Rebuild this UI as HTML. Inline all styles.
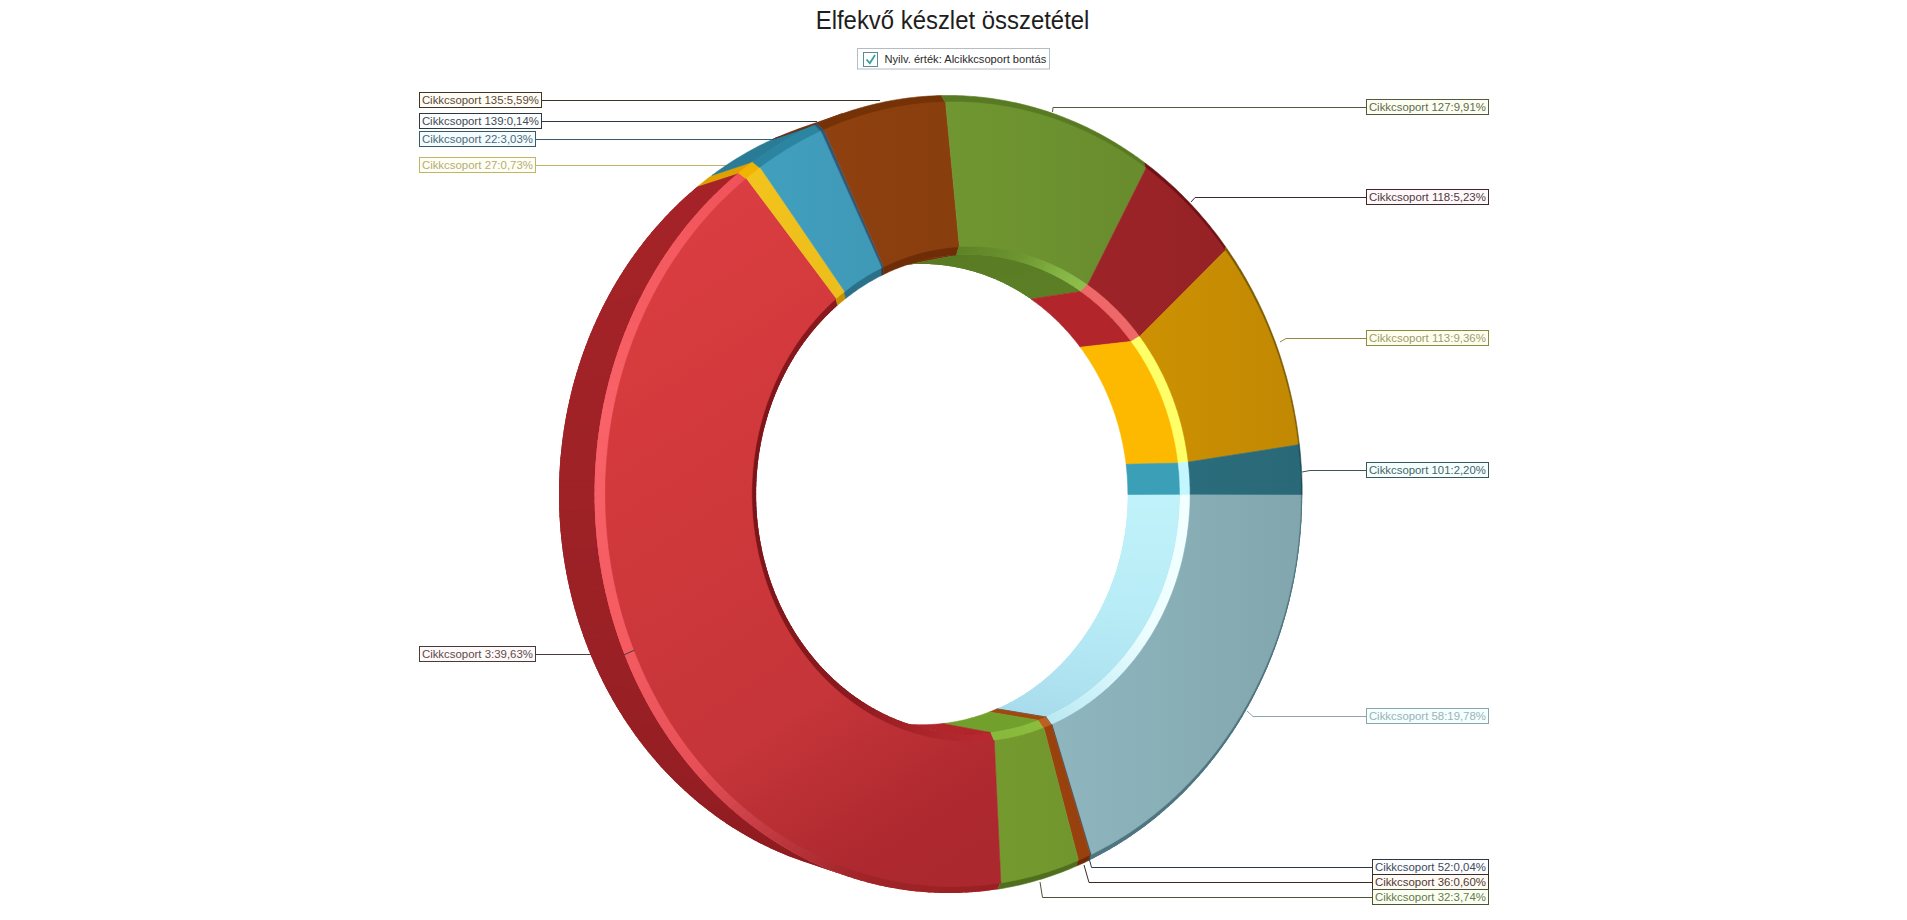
<!DOCTYPE html><html><head><meta charset="utf-8"><style>
html,body{margin:0;padding:0;background:#fff;width:1907px;height:920px;overflow:hidden;font-family:"Liberation Sans",sans-serif}
</style></head><body><svg width="1907" height="920" viewBox="0 0 1907 920" style="position:absolute;left:0;top:0;font-family:'Liberation Sans',sans-serif"><defs><linearGradient id="g3" gradientUnits="userSpaceOnUse" x1="600" y1="250" x2="980" y2="850"><stop offset="0" stop-color="#da3e42"/><stop offset="0.2" stop-color="#d53a3d"/><stop offset="0.7" stop-color="#c53539"/><stop offset="0.9" stop-color="#b02a30"/><stop offset="1" stop-color="#aa282e"/></linearGradient><linearGradient id="gt58" gradientUnits="userSpaceOnUse" x1="560" y1="0" x2="1303" y2="0"><stop offset="0" stop-color="#a7d5df"/><stop offset="1" stop-color="#82a6ae"/></linearGradient><linearGradient id="gt52" gradientUnits="userSpaceOnUse" x1="560" y1="0" x2="1303" y2="0"><stop offset="0" stop-color="#485d6f"/><stop offset="1" stop-color="#384956"/></linearGradient><linearGradient id="gt36" gradientUnits="userSpaceOnUse" x1="560" y1="0" x2="1303" y2="0"><stop offset="0" stop-color="#b44d10"/><stop offset="1" stop-color="#8d3c0d"/></linearGradient><linearGradient id="gt32" gradientUnits="userSpaceOnUse" x1="560" y1="0" x2="1303" y2="0"><stop offset="0" stop-color="#86b135"/><stop offset="1" stop-color="#688a2a"/></linearGradient><linearGradient id="gt27" gradientUnits="userSpaceOnUse" x1="560" y1="0" x2="1303" y2="0"><stop offset="0" stop-color="#ffcf1e"/><stop offset="1" stop-color="#cea217"/></linearGradient><linearGradient id="gt22" gradientUnits="userSpaceOnUse" x1="560" y1="0" x2="1303" y2="0"><stop offset="0" stop-color="#45a9ca"/><stop offset="1" stop-color="#36849d"/></linearGradient><linearGradient id="gt139" gradientUnits="userSpaceOnUse" x1="560" y1="0" x2="1303" y2="0"><stop offset="0" stop-color="#336083"/><stop offset="1" stop-color="#284b66"/></linearGradient><linearGradient id="gt135" gradientUnits="userSpaceOnUse" x1="560" y1="0" x2="1303" y2="0"><stop offset="0" stop-color="#9b4610"/><stop offset="1" stop-color="#79370c"/></linearGradient><linearGradient id="gt127" gradientUnits="userSpaceOnUse" x1="560" y1="0" x2="1303" y2="0"><stop offset="0" stop-color="#7eaa37"/><stop offset="1" stop-color="#63842b"/></linearGradient><linearGradient id="gt118" gradientUnits="userSpaceOnUse" x1="560" y1="0" x2="1303" y2="0"><stop offset="0" stop-color="#ba2b30"/><stop offset="1" stop-color="#912125"/></linearGradient><linearGradient id="gt113" gradientUnits="userSpaceOnUse" x1="560" y1="0" x2="1303" y2="0"><stop offset="0" stop-color="#f7af02"/><stop offset="1" stop-color="#c18802"/></linearGradient><linearGradient id="gt101" gradientUnits="userSpaceOnUse" x1="560" y1="0" x2="1303" y2="0"><stop offset="0" stop-color="#358598"/><stop offset="1" stop-color="#296877"/></linearGradient></defs><polyline points="541.5,100.5 880.0,100.5" fill="none" stroke="#3e3428" stroke-width="1"/><polyline points="541.5,121.5 817.0,121.5" fill="none" stroke="#2e3842" stroke-width="1"/><polyline points="535.5,139.5 773.0,139.5" fill="none" stroke="#3a5a66" stroke-width="1"/><polyline points="535.5,165.5 738.0,165.5" fill="none" stroke="#c0b468" stroke-width="1"/><polyline points="535.5,654.5 592.0,654.5" fill="none" stroke="#4a3a3c" stroke-width="1"/><polyline points="1366.5,107.5 1053.0,107.5 1052.5,112.0" fill="none" stroke="#55583f" stroke-width="1"/><polyline points="1366.5,197.5 1195.0,197.5 1191.0,202.0" fill="none" stroke="#3e2a2c" stroke-width="1"/><polyline points="1366.5,338.5 1286.0,338.5 1280.0,342.0" fill="none" stroke="#8a8a40" stroke-width="1"/><polyline points="1366.5,470.5 1310.0,470.5 1302.0,472.0" fill="none" stroke="#3a5656" stroke-width="1"/><polyline points="1366.5,716.5 1253.0,716.5 1247.0,711.0" fill="none" stroke="#8ca4aa" stroke-width="1"/><polyline points="1372.5,867.5 1091.5,867.5 1089.0,858.0" fill="none" stroke="#2e3842" stroke-width="1"/><polyline points="1372.5,882.5 1089.0,882.5 1084.0,865.0" fill="none" stroke="#3c2c24" stroke-width="1"/><polyline points="1372.5,897.5 1042.5,897.5 1040.0,882.0" fill="none" stroke="#4a5438" stroke-width="1"/><polygon points="1181.7,494.3 1181.6,496.3 1181.6,498.3 1181.6,500.3 1181.5,502.3 1181.5,504.2 1181.4,506.2 1181.3,508.2 1181.2,510.2 1181.1,512.1 1180.9,514.1 1180.8,516.1 1180.6,518.0 1180.4,520.0 1180.2,522.0 1180.0,523.9 1179.8,525.9 1179.6,527.9 1179.3,529.8 1179.1,531.8 1178.8,533.7 1178.5,535.7 1178.2,537.6 1177.9,539.6 1177.5,541.5 1177.2,543.5 1176.8,545.4 1176.4,547.3 1176.0,549.3 1175.6,551.2 1175.2,553.1 1174.8,555.0 1174.3,556.9 1173.8,558.9 1173.4,560.8 1172.9,562.7 1172.4,564.6 1171.8,566.4 1171.3,568.3 1170.8,570.2 1170.2,572.1 1169.6,574.0 1169.0,575.8 1168.4,577.7 1167.8,579.6 1167.2,581.4 1166.5,583.3 1165.9,585.1 1165.2,586.9 1164.5,588.8 1163.8,590.6 1163.1,592.4 1162.4,594.2 1161.6,596.0 1160.9,597.8 1160.1,599.6 1159.4,601.4 1158.6,603.2 1157.8,604.9 1156.9,606.7 1156.1,608.4 1155.3,610.2 1154.4,611.9 1153.5,613.7 1152.6,615.4 1151.8,617.1 1150.8,618.8 1149.9,620.5 1149.0,622.2 1148.0,623.9 1147.1,625.6 1146.1,627.2 1145.1,628.9 1144.1,630.5 1143.1,632.2 1142.1,633.8 1141.1,635.4 1140.0,637.0 1139.0,638.6 1137.9,640.2 1136.8,641.8 1135.7,643.4 1134.6,644.9 1133.5,646.5 1132.3,648.0 1131.2,649.6 1130.1,651.1 1128.9,652.6 1127.7,654.1 1126.5,655.6 1125.3,657.1 1124.1,658.5 1122.9,660.0 1121.7,661.4 1120.4,662.9 1119.2,664.3 1117.9,665.7 1116.6,667.1 1115.3,668.5 1114.0,669.9 1112.7,671.2 1111.4,672.6 1110.1,673.9 1108.7,675.2 1107.4,676.6 1106.0,677.9 1104.6,679.1 1103.3,680.4 1101.9,681.7 1100.5,682.9 1099.1,684.2 1097.6,685.4 1096.2,686.6 1094.8,687.8 1093.3,689.0 1091.9,690.2 1090.4,691.3 1088.9,692.5 1087.4,693.6 1085.9,694.7 1084.4,695.8 1082.9,696.9 1081.4,698.0 1079.9,699.1 1078.3,700.1 1076.8,701.1 1075.2,702.2 1073.7,703.2 1072.1,704.2 1070.5,705.1 1068.9,706.1 1067.3,707.0 1065.7,708.0 1064.1,708.9 1062.5,709.8 1060.9,710.7 1059.2,711.5 1057.6,712.4 1056.0,713.2 1054.3,714.1 1052.6,714.9 1051.0,715.7 1049.3,716.4 1047.6,717.2 997.2,708.8 998.8,708.1 1000.4,707.3 1002.1,706.6 1003.7,705.8 1005.3,705.0 1006.9,704.2 1008.5,703.4 1010.1,702.5 1011.7,701.7 1013.2,700.8 1014.8,700.0 1016.4,699.1 1017.9,698.2 1019.5,697.2 1021.0,696.3 1022.5,695.4 1024.1,694.4 1025.6,693.4 1027.1,692.4 1028.6,691.4 1030.1,690.4 1031.6,689.4 1033.0,688.3 1034.5,687.3 1036.0,686.2 1037.4,685.1 1038.8,684.0 1040.3,682.9 1041.7,681.8 1043.1,680.6 1044.5,679.5 1045.9,678.3 1047.3,677.1 1048.7,676.0 1050.0,674.7 1051.4,673.5 1052.7,672.3 1054.1,671.1 1055.4,669.8 1056.7,668.6 1058.0,667.3 1059.3,666.0 1060.6,664.7 1061.9,663.4 1063.1,662.1 1064.4,660.7 1065.7,659.4 1066.9,658.0 1068.1,656.7 1069.3,655.3 1070.5,653.9 1071.7,652.5 1072.9,651.1 1074.1,649.7 1075.2,648.2 1076.4,646.8 1077.5,645.3 1078.6,643.9 1079.8,642.4 1080.9,640.9 1081.9,639.4 1083.0,637.9 1084.1,636.4 1085.1,634.9 1086.2,633.4 1087.2,631.8 1088.2,630.3 1089.3,628.7 1090.3,627.2 1091.2,625.6 1092.2,624.0 1093.2,622.4 1094.1,620.8 1095.1,619.2 1096.0,617.6 1096.9,615.9 1097.8,614.3 1098.7,612.7 1099.6,611.0 1100.4,609.4 1101.3,607.7 1102.1,606.0 1102.9,604.3 1103.7,602.6 1104.5,601.0 1105.3,599.3 1106.1,597.5 1106.9,595.8 1107.6,594.1 1108.3,592.4 1109.1,590.6 1109.8,588.9 1110.5,587.2 1111.1,585.4 1111.8,583.6 1112.5,581.9 1113.1,580.1 1113.7,578.3 1114.4,576.5 1115.0,574.8 1115.6,573.0 1116.1,571.2 1116.7,569.4 1117.2,567.5 1117.8,565.7 1118.3,563.9 1118.8,562.1 1119.3,560.3 1119.8,558.4 1120.2,556.6 1120.7,554.8 1121.1,552.9 1121.6,551.1 1122.0,549.2 1122.4,547.4 1122.8,545.5 1123.1,543.7 1123.5,541.8 1123.8,539.9 1124.2,538.0 1124.5,536.2 1124.8,534.3 1125.1,532.4 1125.3,530.5 1125.6,528.7 1125.8,526.8 1126.1,524.9 1126.3,523.0 1126.5,521.1 1126.7,519.2 1126.9,517.3 1127.0,515.4 1127.2,513.5 1127.3,511.6 1127.4,509.7 1127.5,507.8 1127.6,505.9 1127.7,504.0 1127.8,502.1 1127.8,500.2 1127.8,498.3 1127.9,496.4 1127.9,494.5" fill="#b6eaf5"/><polygon points="1181.7,494.3 1181.6,496.1 1181.6,497.8 1181.6,499.5 1127.8,499.4 1127.9,497.8 1127.9,496.1 1127.9,494.5" fill="#c0f2fa"/><polygon points="1181.6,498.3 1181.6,500.0 1181.6,501.7 1181.5,503.4 1127.7,503.2 1127.8,501.6 1127.8,499.9 1127.8,498.3" fill="#c0f2fa"/><polygon points="1181.5,502.2 1181.5,503.9 1181.4,505.6 1181.3,507.3 1127.6,507.0 1127.6,505.3 1127.7,503.7 1127.8,502.1" fill="#bff2fa"/><polygon points="1181.4,506.1 1181.3,507.8 1181.2,509.5 1181.1,511.2 1127.4,510.8 1127.5,509.1 1127.5,507.5 1127.6,505.8" fill="#bff1fa"/><polygon points="1181.2,510.1 1181.1,511.8 1181.0,513.5 1180.9,515.2 1127.1,514.5 1127.2,512.9 1127.3,511.3 1127.4,509.6" fill="#bff1f9"/><polygon points="1180.9,514.0 1180.8,515.7 1180.7,517.4 1180.5,519.1 1126.8,518.3 1126.9,516.7 1127.1,515.0 1127.2,513.4" fill="#bff1f9"/><polygon points="1180.6,517.9 1180.5,519.6 1180.3,521.3 1180.1,523.0 1126.4,522.1 1126.6,520.4 1126.7,518.8 1126.9,517.2" fill="#bef1f9"/><polygon points="1180.3,521.8 1180.1,523.5 1179.9,525.2 1179.7,526.9 1126.0,525.8 1126.2,524.2 1126.3,522.6 1126.5,520.9" fill="#bef1f9"/><polygon points="1179.8,525.7 1179.6,527.4 1179.4,529.1 1179.2,530.8 1125.5,529.6 1125.7,527.9 1125.9,526.3 1126.1,524.7" fill="#bef0f9"/><polygon points="1179.4,529.6 1179.1,531.3 1178.9,533.0 1178.6,534.6 1124.9,533.3 1125.2,531.7 1125.4,530.0 1125.6,528.4" fill="#bdf0f9"/><polygon points="1178.8,533.5 1178.6,535.1 1178.3,536.8 1178.0,538.5 1124.3,537.0 1124.6,535.4 1124.9,533.8 1125.1,532.2" fill="#bdf0f9"/><polygon points="1178.2,537.3 1177.9,539.0 1177.7,540.7 1177.4,542.4 1123.7,540.7 1124.0,539.1 1124.3,537.5 1124.5,535.9" fill="#bdf0f8"/><polygon points="1177.6,541.2 1177.3,542.9 1177.0,544.5 1176.6,546.2 1123.0,544.4 1123.3,542.8 1123.6,541.2 1123.9,539.6" fill="#bdf0f8"/><polygon points="1176.9,545.0 1176.5,546.7 1176.2,548.4 1175.9,550.0 1122.2,548.1 1122.6,546.5 1122.9,544.9 1123.2,543.3" fill="#bceff8"/><polygon points="1176.1,548.9 1175.8,550.5 1175.4,552.2 1175.0,553.9 1121.4,551.8 1121.8,550.2 1122.1,548.6 1122.5,547.0" fill="#bceff8"/><polygon points="1175.3,552.7 1174.9,554.4 1174.5,556.0 1174.1,557.7 1120.5,555.5 1120.9,553.9 1121.3,552.3 1121.7,550.7" fill="#bceff8"/><polygon points="1174.4,556.5 1174.0,558.2 1173.6,559.8 1173.2,561.5 1119.6,559.1 1120.0,557.5 1120.4,555.9 1120.8,554.4" fill="#bceff8"/><polygon points="1173.5,560.3 1173.1,561.9 1172.6,563.6 1172.2,565.2 1118.6,562.7 1119.1,561.2 1119.5,559.6 1119.9,558.0" fill="#bbeff8"/><polygon points="1172.5,564.1 1172.0,565.7 1171.6,567.3 1171.1,569.0 1117.6,566.3 1118.0,564.8 1118.5,563.2 1118.9,561.6" fill="#bbeef8"/><polygon points="1171.5,567.8 1171.0,569.5 1170.5,571.1 1170.0,572.7 1116.5,569.9 1117.0,568.4 1117.5,566.8 1117.9,565.3" fill="#bbeef7"/><polygon points="1170.4,571.6 1169.9,573.2 1169.4,574.8 1168.8,576.4 1115.4,573.5 1115.9,572.0 1116.4,570.4 1116.8,568.9" fill="#bbeef7"/><polygon points="1169.2,575.3 1168.7,576.9 1168.2,578.5 1167.6,580.1 1114.2,577.1 1114.7,575.5 1115.2,574.0 1115.7,572.4" fill="#baeef7"/><polygon points="1168.0,579.0 1167.5,580.6 1166.9,582.2 1166.4,583.8 1112.9,580.6 1113.5,579.1 1114.0,577.5 1114.5,576.0" fill="#baeef7"/><polygon points="1166.7,582.7 1166.2,584.3 1165.6,585.8 1165.0,587.4 1111.6,584.1 1112.2,582.6 1112.8,581.1 1113.3,579.5" fill="#baedf7"/><polygon points="1165.4,586.3 1164.8,587.9 1164.3,589.5 1163.6,591.1 1110.3,587.6 1110.9,586.1 1111.5,584.6 1112.0,583.0" fill="#baedf7"/><polygon points="1164.1,590.0 1163.5,591.5 1162.8,593.1 1162.2,594.6 1108.9,591.1 1109.5,589.6 1110.1,588.1 1110.7,586.5" fill="#b9edf7"/><polygon points="1162.7,593.6 1162.0,595.1 1161.4,596.7 1160.7,598.2 1107.4,594.5 1108.1,593.0 1108.7,591.5 1109.3,590.0" fill="#b9edf7"/><polygon points="1161.2,597.1 1160.5,598.7 1159.9,600.2 1159.2,601.8 1105.9,597.9 1106.6,596.4 1107.2,594.9 1107.9,593.5" fill="#b9edf6"/><polygon points="1159.7,600.7 1159.0,602.2 1158.3,603.8 1157.6,605.3 1104.4,601.3 1105.1,599.8 1105.7,598.4 1106.4,596.9" fill="#b8ecf6"/><polygon points="1158.1,604.2 1157.4,605.7 1156.7,607.3 1155.9,608.8 1102.8,604.6 1103.5,603.2 1104.2,601.7 1104.9,600.3" fill="#b8ecf6"/><polygon points="1156.5,607.7 1155.7,609.2 1155.0,610.7 1154.3,612.2 1101.1,608.0 1101.8,606.5 1102.6,605.1 1103.3,603.6" fill="#b8ecf6"/><polygon points="1154.8,611.2 1154.0,612.7 1153.3,614.2 1152.5,615.7 1099.4,611.3 1100.2,609.8 1100.9,608.4 1101.6,607.0" fill="#b8ecf6"/><polygon points="1153.0,614.6 1152.3,616.1 1151.5,617.6 1150.7,619.1 1097.7,614.5 1098.4,613.1 1099.2,611.7 1099.9,610.3" fill="#b7ebf5"/><polygon points="1151.3,618.0 1150.5,619.5 1149.7,621.0 1148.9,622.4 1095.9,617.8 1096.7,616.4 1097.4,615.0 1098.2,613.6" fill="#b7ebf5"/><polygon points="1149.4,621.4 1148.6,622.9 1147.8,624.3 1147.0,625.8 1094.0,621.0 1094.8,619.6 1095.6,618.2 1096.4,616.8" fill="#b6eaf5"/><polygon points="1147.5,624.7 1146.7,626.2 1145.9,627.6 1145.0,629.0 1092.1,624.2 1092.9,622.8 1093.8,621.4 1094.6,620.0" fill="#b6eaf5"/><polygon points="1145.6,628.1 1144.8,629.5 1143.9,630.9 1143.0,632.3 1090.2,627.3 1091.0,625.9 1091.9,624.6 1092.7,623.2" fill="#b6eaf5"/><polygon points="1143.6,631.3 1142.8,632.7 1141.9,634.1 1141.0,635.5 1088.2,630.4 1089.0,629.0 1089.9,627.7 1090.8,626.3" fill="#b5e9f4"/><polygon points="1141.6,634.6 1140.7,636.0 1139.8,637.3 1138.9,638.7 1086.1,633.5 1087.0,632.1 1087.9,630.8 1088.8,629.5" fill="#b5e9f4"/><polygon points="1139.5,637.8 1138.6,639.1 1137.7,640.5 1136.7,641.9 1084.0,636.5 1085.0,635.2 1085.9,633.9 1086.8,632.5" fill="#b4e8f4"/><polygon points="1137.4,640.9 1136.5,642.3 1135.5,643.6 1134.6,645.0 1081.9,639.5 1082.8,638.2 1083.8,636.9 1084.7,635.6" fill="#b4e8f4"/><polygon points="1135.2,644.0 1134.3,645.4 1133.3,646.7 1132.3,648.1 1079.7,642.4 1080.7,641.2 1081.6,639.9 1082.6,638.6" fill="#b4e8f3"/><polygon points="1133.0,647.1 1132.0,648.5 1131.0,649.8 1130.0,651.1 1077.5,645.3 1078.5,644.1 1079.4,642.8 1080.4,641.5" fill="#b3e7f3"/><polygon points="1130.7,650.2 1129.7,651.5 1128.7,652.8 1127.7,654.1 1075.2,648.2 1076.2,647.0 1077.2,645.7 1078.2,644.5" fill="#b3e7f3"/><polygon points="1128.4,653.2 1127.4,654.5 1126.4,655.7 1125.3,657.0 1072.9,651.1 1073.9,649.8 1074.9,648.6 1075.9,647.4" fill="#b3e7f3"/><polygon points="1126.1,656.1 1125.0,657.4 1124.0,658.7 1122.9,659.9 1070.6,653.8 1071.6,652.6 1072.6,651.4 1073.6,650.2" fill="#b2e6f2"/><polygon points="1123.7,659.1 1122.6,660.3 1121.5,661.6 1120.5,662.8 1068.2,656.6 1069.2,655.4 1070.3,654.2 1071.3,653.0" fill="#b2e6f2"/><polygon points="1121.2,661.9 1120.1,663.2 1119.1,664.4 1118.0,665.6 1065.7,659.3 1066.8,658.1 1067.9,656.9 1068.9,655.8" fill="#b1e5f2"/><polygon points="1118.7,664.8 1117.6,666.0 1116.5,667.2 1115.4,668.4 1063.2,662.0 1064.3,660.8 1065.4,659.6 1066.5,658.5" fill="#b1e5f2"/><polygon points="1116.2,667.5 1115.1,668.7 1114.0,669.9 1112.8,671.1 1060.7,664.6 1061.8,663.4 1062.9,662.3 1064.0,661.2" fill="#b1e5f1"/><polygon points="1113.6,670.3 1112.5,671.5 1111.4,672.6 1110.2,673.8 1058.2,667.1 1059.3,666.0 1060.4,664.9 1061.5,663.8" fill="#b0e4f1"/><polygon points="1111.0,673.0 1109.9,674.1 1108.7,675.3 1107.5,676.4 1055.6,669.7 1056.7,668.6 1057.8,667.5 1058.9,666.4" fill="#b0e4f1"/><polygon points="1108.4,675.6 1107.2,676.7 1106.0,677.9 1104.8,679.0 1052.9,672.1 1054.1,671.1 1055.2,670.0 1056.4,668.9" fill="#afe3f1"/><polygon points="1105.7,678.2 1104.5,679.3 1103.3,680.4 1102.1,681.5 1050.2,674.6 1051.4,673.5 1052.6,672.5 1053.7,671.4" fill="#afe3f0"/><polygon points="1102.9,680.7 1101.7,681.8 1100.5,682.9 1099.3,684.0 1047.5,676.9 1048.7,675.9 1049.9,674.9 1051.1,673.8" fill="#afe3f0"/><polygon points="1100.1,683.2 1098.9,684.3 1097.7,685.4 1096.5,686.4 1044.8,679.3 1046.0,678.3 1047.2,677.3 1048.3,676.2" fill="#aee2f0"/><polygon points="1097.3,685.7 1096.1,686.7 1094.8,687.8 1093.6,688.8 1042.0,681.6 1043.2,680.6 1044.4,679.6 1045.6,678.6" fill="#aee2f0"/><polygon points="1094.5,688.1 1093.2,689.1 1092.0,690.1 1090.7,691.1 1039.1,683.8 1040.4,682.8 1041.6,681.9 1042.8,680.9" fill="#aee2ef"/><polygon points="1091.6,690.4 1090.3,691.4 1089.0,692.4 1087.8,693.4 1036.3,686.0 1037.5,685.0 1038.8,684.1 1040.0,683.1" fill="#ade1ef"/><polygon points="1088.6,692.7 1087.4,693.7 1086.1,694.6 1084.8,695.6 1033.4,688.1 1034.6,687.2 1035.9,686.2 1037.1,685.3" fill="#ade1ef"/><polygon points="1085.7,694.9 1084.4,695.9 1083.1,696.8 1081.8,697.7 1030.4,690.2 1031.7,689.3 1033.0,688.4 1034.3,687.4" fill="#ace0ef"/><polygon points="1082.7,697.1 1081.4,698.0 1080.1,698.9 1078.7,699.8 1027.5,692.2 1028.8,691.3 1030.1,690.4 1031.3,689.5" fill="#ace0ee"/><polygon points="1079.7,699.2 1078.3,700.1 1077.0,701.0 1075.7,701.9 1024.5,694.1 1025.8,693.3 1027.1,692.4 1028.4,691.6" fill="#ace0ee"/><polygon points="1076.6,701.3 1075.2,702.2 1073.9,703.0 1072.5,703.9 1021.4,696.0 1022.8,695.2 1024.1,694.4 1025.4,693.5" fill="#abdfee"/><polygon points="1073.5,703.3 1072.1,704.1 1070.8,705.0 1069.4,705.8 1018.4,697.9 1019.7,697.1 1021.0,696.3 1022.4,695.5" fill="#abdfee"/><polygon points="1070.4,705.2 1069.0,706.1 1067.6,706.9 1066.2,707.7 1015.3,699.7 1016.6,698.9 1018.0,698.1 1019.3,697.3" fill="#aadeee"/><polygon points="1067.2,707.1 1065.8,707.9 1064.4,708.7 1063.0,709.5 1012.2,701.4 1013.5,700.7 1014.9,699.9 1016.2,699.1" fill="#aadeed"/><polygon points="1064.0,708.9 1062.6,709.7 1061.2,710.5 1059.8,711.2 1009.0,703.1 1010.4,702.4 1011.8,701.6 1013.1,700.9" fill="#aadeed"/><polygon points="1060.8,710.7 1059.4,711.5 1058.0,712.2 1056.5,712.9 1005.9,704.7 1007.2,704.0 1008.6,703.3 1010.0,702.6" fill="#a9dded"/><polygon points="1057.5,712.4 1056.1,713.2 1054.7,713.9 1053.3,714.6 1002.7,706.3 1004.0,705.6 1005.4,704.9 1006.8,704.2" fill="#a9dded"/><polygon points="1054.3,714.1 1052.8,714.8 1051.4,715.5 1049.9,716.1 999.4,707.8 1000.8,707.1 1002.2,706.5 1003.6,705.8" fill="#a8dcec"/><polygon points="1050.9,715.7 1049.3,716.4 1047.6,717.2 997.2,708.8 998.8,708.1 1000.4,707.3" fill="#a8dcec"/><polygon points="1047.6,717.2 1047.1,717.4 996.7,709.0 997.2,708.8" fill="#50667a" stroke="#50667a" stroke-width="0.6"/><polygon points="1047.1,717.4 1045.7,718.1 1044.2,718.7 1042.7,719.3 1041.2,719.9 1039.8,720.5 989.5,712.0 991.0,711.4 992.4,710.8 993.8,710.2 995.3,709.6 996.7,709.0" fill="#a0480e" stroke="#a0480e" stroke-width="0.6"/><polygon points="1039.8,720.5 1038.0,721.2 1036.3,721.8 1034.6,722.5 1032.8,723.1 1031.1,723.7 1029.4,724.3 1027.6,724.8 1025.9,725.4 1024.1,725.9 1022.3,726.5 1020.6,727.0 1018.8,727.4 1017.0,727.9 1015.2,728.4 1013.4,728.8 1011.6,729.2 1009.8,729.6 1008.0,730.0 1006.2,730.4 1004.4,730.7 1002.6,731.0 1000.8,731.4 999.0,731.7 997.2,731.9 995.3,732.2 993.5,732.4 991.7,732.7 942.7,723.5 944.5,723.3 946.3,723.1 948.1,722.9 949.8,722.6 951.6,722.3 953.4,722.0 955.1,721.7 956.9,721.4 958.6,721.0 960.4,720.7 962.1,720.3 963.9,719.9 965.6,719.5 967.4,719.0 969.1,718.6 970.8,718.1 972.5,717.6 974.3,717.2 976.0,716.6 977.7,716.1 979.4,715.6 981.1,715.0 982.8,714.4 984.5,713.8 986.2,713.2 987.8,712.6 989.5,712.0" fill="#72a02d" stroke="#72a02d" stroke-width="0.6"/><polygon points="850.9,877.5 847.9,876.5 844.9,875.4 841.8,874.4 838.8,873.2 835.8,872.1 832.8,870.9 829.8,869.7 826.8,868.5 823.8,867.2 820.8,865.9 817.9,864.6 814.9,863.2 811.9,861.8 809.0,860.4 806.1,859.0 803.1,857.5 800.2,856.0 797.3,854.4 794.4,852.8 791.5,851.2 788.7,849.6 785.8,847.9 783.0,846.2 780.1,844.5 777.3,842.7 774.5,840.9 771.7,839.1 768.9,837.3 766.1,835.4 763.4,833.5 760.6,831.5 757.9,829.6 755.2,827.6 752.5,825.5 749.8,823.5 747.1,821.4 744.4,819.3 741.8,817.1 739.2,815.0 736.6,812.8 734.0,810.5 731.4,808.3 728.8,806.0 726.3,803.7 723.8,801.3 721.3,799.0 718.8,796.6 716.3,794.1 713.9,791.7 711.4,789.2 709.0,786.7 706.6,784.2 704.2,781.6 701.9,779.0 699.5,776.4 697.2,773.8 694.9,771.1 692.7,768.5 690.4,765.8 688.2,763.0 686.0,760.3 683.8,757.5 681.6,754.7 679.5,751.8 677.3,749.0 675.3,746.1 673.2,743.2 671.1,740.3 669.1,737.3 667.1,734.3 665.1,731.4 663.1,728.3 661.2,725.3 659.3,722.2 657.4,719.2 655.6,716.1 653.7,712.9 651.9,709.8 650.1,706.6 648.4,703.4 646.6,700.2 644.9,697.0 643.3,693.8 641.6,690.5 640.0,687.2 638.4,683.9 636.8,680.6 635.3,677.3 633.7,673.9 632.3,670.6 630.8,667.2 629.4,663.8 627.9,660.4 626.6,656.9 625.2,653.5 623.9,650.0 622.6,646.5 621.3,643.1 620.1,639.5 618.9,636.0 617.7,632.5 616.6,628.9 615.5,625.4 614.4,621.8 613.3,618.2 612.3,614.6 611.3,611.0 610.3,607.4 609.4,603.8 608.5,600.1 607.6,596.5 606.7,592.8 605.9,589.1 605.1,585.5 604.4,581.8 603.7,578.1 603.0,574.4 602.3,570.6 601.7,566.9 601.1,563.2 600.5,559.5 600.0,555.7 599.5,552.0 599.0,548.2 598.6,544.4 598.1,540.7 597.8,536.9 597.4,533.1 597.1,529.4 596.8,525.6 596.6,521.8 596.3,518.0 596.2,514.2 596.0,510.4 595.9,506.7 595.8,502.9 595.7,499.1 595.7,495.3 595.7,491.5 595.7,487.7 595.8,483.9 595.9,480.1 596.0,476.3 596.2,472.5 596.4,468.7 596.6,465.0 596.9,461.2 597.2,457.4 597.5,453.6 597.9,449.8 598.2,446.1 598.7,442.3 599.1,438.6 599.6,434.8 600.1,431.1 600.7,427.3 601.2,423.6 601.8,419.9 602.5,416.2 603.1,412.4 603.8,408.7 604.6,405.0 605.3,401.4 606.1,397.7 607.0,394.0 607.8,390.4 608.7,386.7 609.6,383.1 610.6,379.4 611.5,375.8 612.5,372.2 613.6,368.6 614.6,365.1 615.7,361.5 616.9,357.9 618.0,354.4 619.2,350.9 620.4,347.3 621.7,343.8 622.9,340.4 624.2,336.9 625.6,333.4 626.9,330.0 628.3,326.6 629.7,323.2 631.2,319.8 632.6,316.4 634.1,313.0 635.7,309.7 637.2,306.4 638.8,303.1 640.4,299.8 642.0,296.5 643.7,293.2 645.4,290.0 647.1,286.8 648.8,283.6 650.6,280.4 652.4,277.3 654.2,274.1 656.0,271.0 657.9,267.9 659.8,264.9 661.7,261.8 663.6,258.8 665.6,255.8 667.6,252.8 669.6,249.8 671.6,246.9 673.7,244.0 675.8,241.1 677.9,238.2 680.0,235.4 682.1,232.6 684.3,229.8 686.5,227.0 688.7,224.3 691.0,221.5 693.2,218.8 695.5,216.2 697.8,213.5 700.1,210.9 702.4,208.3 704.8,205.7 707.2,203.2 709.6,200.7 712.0,198.2 714.4,195.7 716.9,193.3 719.4,190.9 721.9,188.5 724.4,186.1 726.9,183.8 729.4,181.5 732.0,179.2 734.6,177.0 737.2,174.8 739.8,172.6 698.3,186.0 695.8,188.1 693.3,190.2 690.8,192.4 688.3,194.6 685.8,196.8 683.4,199.0 680.9,201.3 678.5,203.6 676.1,205.9 673.8,208.3 671.4,210.6 669.1,213.0 666.7,215.4 664.4,217.9 662.2,220.4 659.9,222.9 657.7,225.4 655.4,227.9 653.2,230.5 651.1,233.1 648.9,235.7 646.7,238.3 644.6,241.0 642.5,243.7 640.5,246.4 638.4,249.1 636.4,251.9 634.3,254.6 632.4,257.4 630.4,260.3 628.4,263.1 626.5,266.0 624.6,268.8 622.8,271.8 620.9,274.7 619.1,277.6 617.3,280.6 615.5,283.6 613.7,286.6 612.0,289.6 610.3,292.6 608.6,295.7 607.0,298.8 605.3,301.9 603.7,305.0 602.2,308.1 600.6,311.3 599.1,314.5 597.6,317.7 596.1,320.9 594.7,324.1 593.2,327.3 591.9,330.6 590.5,333.8 589.1,337.1 587.8,340.4 586.6,343.7 585.3,347.0 584.1,350.4 582.9,353.7 581.7,357.1 580.6,360.5 579.4,363.9 578.4,367.3 577.3,370.7 576.3,374.1 575.3,377.6 574.3,381.0 573.3,384.5 572.4,388.0 571.5,391.5 570.7,394.9 569.9,398.4 569.1,402.0 568.3,405.5 567.6,409.0 566.9,412.6 566.2,416.1 565.5,419.7 564.9,423.2 564.3,426.8 563.8,430.4 563.3,433.9 562.8,437.5 562.3,441.1 561.9,444.7 561.5,448.3 561.1,451.9 560.7,455.5 560.4,459.1 560.1,462.8 559.9,466.4 559.7,470.0 559.5,473.6 559.3,477.3 559.2,480.9 559.1,484.5 559.0,488.1 559.0,491.8 559.0,495.4 559.0,499.0 559.1,502.7 559.2,506.3 559.3,509.9 559.4,513.6 559.6,517.2 559.8,520.8 560.1,524.4 560.3,528.1 560.7,531.7 561.0,535.3 561.4,538.9 561.7,542.5 562.2,546.1 562.6,549.7 563.1,553.3 563.6,556.9 564.2,560.4 564.8,564.0 565.4,567.6 566.0,571.1 566.7,574.7 567.4,578.2 568.1,581.8 568.9,585.3 569.7,588.8 570.5,592.3 571.3,595.8 572.2,599.3 573.1,602.8 574.0,606.2 575.0,609.7 576.0,613.1 577.0,616.6 578.1,620.0 579.1,623.4 580.3,626.8 581.4,630.2 582.6,633.6 583.7,636.9 585.0,640.3 586.2,643.6 587.5,646.9 588.8,650.2 590.1,653.5 591.5,656.8 592.9,660.1 594.3,663.3 595.7,666.5 597.2,669.7 598.7,672.9 600.2,676.1 601.8,679.3 603.3,682.4 604.9,685.5 606.5,688.7 608.2,691.7 609.9,694.8 611.6,697.9 613.3,700.9 615.0,703.9 616.8,706.9 618.6,709.9 620.4,712.8 622.3,715.8 624.1,718.7 626.0,721.6 628.0,724.5 629.9,727.3 631.9,730.1 633.8,732.9 635.8,735.7 637.9,738.5 639.9,741.2 642.0,744.0 644.1,746.7 646.2,749.3 648.3,752.0 650.5,754.6 652.7,757.2 654.9,759.8 657.1,762.3 659.3,764.9 661.6,767.4 663.9,769.9 666.2,772.3 668.5,774.7 670.8,777.1 673.2,779.5 675.6,781.9 677.9,784.2 680.4,786.5 682.8,788.8 685.2,791.0 687.7,793.3 690.2,795.5 692.7,797.6 695.2,799.8 697.7,801.9 700.2,804.0 702.8,806.1 705.4,808.1 707.9,810.1 710.6,812.1 713.2,814.0 715.8,816.0 718.4,817.9 721.1,819.7 723.8,821.6 726.5,823.4 729.2,825.2 731.9,826.9 734.6,828.6 737.3,830.3 740.1,832.0 742.8,833.6 745.6,835.3 748.4,836.8 751.2,838.4 754.0,839.9 756.8,841.4 759.6,842.9 762.5,844.3 765.3,845.7 768.2,847.1 771.0,848.4 773.9,849.8 776.8,851.0 779.7,852.3 782.6,853.5 785.5,854.7 788.4,855.9 791.3,857.0 794.2,858.1 797.2,859.2 800.1,860.3 803.0,861.3 806.0,862.3" fill="#9c2126"/><polygon points="850.9,877.5 848.3,876.6 845.7,875.7 843.0,874.8 798.3,859.6 800.9,860.5 803.4,861.4 806.0,862.3" fill="#8c1b1f"/><polygon points="844.9,875.4 842.2,874.5 839.6,873.5 837.0,872.6 792.5,857.5 795.0,858.4 797.6,859.3 800.1,860.3" fill="#8d1b1f"/><polygon points="838.8,873.2 836.2,872.3 833.6,871.2 831.0,870.2 786.6,855.2 789.2,856.2 791.7,857.2 794.2,858.1" fill="#8d1b1f"/><polygon points="832.8,870.9 830.2,869.9 827.6,868.8 825.0,867.7 780.8,852.8 783.3,853.8 785.9,854.9 788.4,855.9" fill="#8d1b20"/><polygon points="826.8,868.5 824.2,867.4 821.6,866.3 819.0,865.1 775.1,850.3 777.6,851.4 780.1,852.5 782.6,853.5" fill="#8e1b20"/><polygon points="820.8,865.9 818.2,864.8 815.7,863.6 813.1,862.4 769.3,847.6 771.8,848.8 774.3,849.9 776.8,851.0" fill="#8e1c20"/><polygon points="814.9,863.2 812.3,862.0 809.8,860.8 807.2,859.5 763.6,844.9 766.1,846.1 768.5,847.3 771.0,848.4" fill="#8e1c20"/><polygon points="809.0,860.4 806.4,859.2 803.9,857.9 801.4,856.6 757.9,842.0 760.4,843.3 762.8,844.5 765.3,845.7" fill="#8f1c20"/><polygon points="803.1,857.5 800.6,856.2 798.1,854.8 795.6,853.5 752.3,839.0 754.7,840.3 757.2,841.6 759.6,842.9" fill="#8f1c20"/><polygon points="797.3,854.4 794.8,853.0 792.3,851.7 789.8,850.2 746.7,835.9 749.1,837.3 751.6,838.6 754.0,839.9" fill="#8f1c21"/><polygon points="791.5,851.2 789.0,849.8 786.6,848.4 784.1,846.9 741.2,832.7 743.6,834.1 746.0,835.5 748.4,836.8" fill="#901c21"/><polygon points="785.8,847.9 783.3,846.4 780.9,844.9 778.4,843.4 735.7,829.3 738.1,830.8 740.4,832.2 742.8,833.6" fill="#901c21"/><polygon points="780.1,844.5 777.7,843.0 775.2,841.4 772.8,839.8 730.2,825.9 732.6,827.4 735.0,828.9 737.3,830.3" fill="#901d21"/><polygon points="774.5,840.9 772.1,839.4 769.6,837.8 767.2,836.1 724.8,822.3 727.2,823.9 729.5,825.4 731.9,826.9" fill="#911d21"/><polygon points="768.9,837.3 766.5,835.6 764.1,834.0 761.7,832.3 719.5,818.6 721.8,820.2 724.1,821.8 726.5,823.4" fill="#911d21"/><polygon points="763.4,833.5 761.0,831.8 758.6,830.1 756.2,828.4 714.2,814.8 716.5,816.5 718.8,818.1 721.1,819.7" fill="#911d22"/><polygon points="757.9,829.6 755.5,827.8 753.2,826.1 750.8,824.3 709.0,810.9 711.2,812.6 713.5,814.3 715.8,816.0" fill="#921d22"/><polygon points="752.5,825.5 750.1,823.8 747.8,821.9 745.5,820.1 703.8,806.9 706.0,808.6 708.3,810.4 710.6,812.1" fill="#921d22"/><polygon points="747.1,821.4 744.8,819.6 742.5,817.7 740.2,815.8 698.7,802.7 700.9,804.5 703.1,806.3 705.4,808.1" fill="#921d22"/><polygon points="741.8,817.1 739.5,815.3 737.3,813.3 735.0,811.4 693.7,798.5 695.8,800.3 698.0,802.2 700.2,804.0" fill="#931e22"/><polygon points="736.6,812.8 734.3,810.8 732.1,808.9 729.9,806.9 688.7,794.2 690.8,796.0 693.0,797.9 695.2,799.8" fill="#931e23"/><polygon points="731.4,808.3 729.2,806.3 727.0,804.3 724.8,802.3 683.7,789.7 685.9,791.6 688.0,793.6 690.2,795.5" fill="#931e23"/><polygon points="726.3,803.7 724.1,801.6 721.9,799.6 719.8,797.5 678.9,785.1 681.0,787.1 683.1,789.1 685.2,791.0" fill="#941e23"/><polygon points="721.3,799.0 719.1,796.9 717.0,794.8 714.8,792.7 674.1,780.5 676.2,782.5 678.3,784.5 680.4,786.5" fill="#941e23"/><polygon points="716.3,794.1 714.2,792.0 712.1,789.9 710.0,787.7 669.4,775.7 671.5,777.8 673.5,779.8 675.6,781.9" fill="#941e23"/><polygon points="711.4,789.2 709.3,787.1 707.2,784.9 705.2,782.7 664.8,770.8 666.8,773.0 668.8,775.1 670.8,777.1" fill="#951e23"/><polygon points="706.6,784.2 704.6,782.0 702.5,779.7 700.5,777.5 660.2,765.9 662.2,768.0 664.2,770.2 666.2,772.3" fill="#951f24"/><polygon points="701.9,779.0 699.9,776.8 697.8,774.5 695.8,772.2 655.8,760.8 657.7,763.0 659.6,765.2 661.6,767.4" fill="#951f24"/><polygon points="697.2,773.8 695.2,771.5 693.3,769.2 691.3,766.8 651.4,755.6 653.3,757.9 655.2,760.1 657.1,762.3" fill="#961f24"/><polygon points="692.7,768.5 690.7,766.1 688.8,763.7 686.8,761.4 647.1,750.4 648.9,752.7 650.8,755.0 652.7,757.2" fill="#961f24"/><polygon points="688.2,763.0 686.3,760.6 684.4,758.2 682.5,755.8 642.8,745.0 644.7,747.4 646.5,749.7 648.3,752.0" fill="#961f24"/><polygon points="683.8,757.5 681.9,755.0 680.0,752.6 678.2,750.1 638.7,739.6 640.5,742.0 642.3,744.3 644.1,746.7" fill="#961f24"/><polygon points="679.5,751.8 677.6,749.4 675.8,746.9 674.0,744.4 634.6,734.1 636.4,736.5 638.1,738.9 639.9,741.2" fill="#971f24"/><polygon points="675.3,746.1 673.4,743.6 671.7,741.0 669.9,738.5 630.7,728.4 632.4,730.9 634.1,733.3 635.8,735.7" fill="#971f24"/><polygon points="671.1,740.3 669.4,737.7 667.6,735.1 665.9,732.6 626.8,722.7 628.5,725.2 630.2,727.7 631.9,730.1" fill="#971f24"/><polygon points="667.1,734.3 665.4,731.8 663.7,729.1 662.0,726.5 623.0,716.9 624.6,719.5 626.3,722.0 628.0,724.5" fill="#971f24"/><polygon points="663.1,728.3 661.5,725.7 659.8,723.1 658.2,720.4 619.3,711.1 620.9,713.6 622.5,716.2 624.1,718.7" fill="#972024"/><polygon points="659.3,722.2 657.7,719.6 656.1,716.9 654.5,714.2 615.7,705.1 617.3,707.7 618.9,710.3 620.4,712.8" fill="#982024"/><polygon points="655.6,716.1 654.0,713.4 652.4,710.6 650.8,707.9 612.3,699.1 613.8,701.7 615.3,704.3 616.8,706.9" fill="#982024"/><polygon points="651.9,709.8 650.4,707.1 648.8,704.3 647.3,701.5 608.9,693.0 610.3,695.6 611.8,698.3 613.3,700.9" fill="#982025"/><polygon points="648.4,703.4 646.9,700.7 645.4,697.9 643.9,695.1 605.6,686.8 607.0,689.5 608.4,692.2 609.9,694.8" fill="#982025"/><polygon points="644.9,697.0 643.5,694.2 642.0,691.4 640.6,688.5 602.4,680.5 603.7,683.3 605.1,686.0 606.5,688.7" fill="#982025"/><polygon points="641.6,690.5 640.2,687.7 638.8,684.8 637.4,682.0 599.3,674.2 600.6,677.0 602.0,679.7 603.3,682.4" fill="#992025"/><polygon points="638.4,683.9 637.0,681.1 635.7,678.2 634.3,675.3 596.3,667.8 597.6,670.6 598.9,673.4 600.2,676.1" fill="#992025"/><polygon points="635.3,677.3 633.9,674.4 632.6,671.5 631.4,668.5 593.4,661.4 594.7,664.2 595.9,667.0 597.2,669.7" fill="#992025"/><polygon points="632.3,670.6 631.0,667.6 629.7,664.7 628.5,661.7 590.7,654.8 591.9,657.7 593.1,660.5 594.3,663.3" fill="#992025"/><polygon points="629.4,663.8 628.1,660.8 626.9,657.9 625.8,654.9 588.0,648.3 589.2,651.1 590.3,654.0 591.5,656.8" fill="#992025"/><polygon points="626.6,656.9 625.4,654.0 624.2,651.0 623.1,647.9 585.5,641.6 586.6,644.5 587.7,647.4 588.8,650.2" fill="#9a2025"/><polygon points="623.9,650.0 622.8,647.0 621.7,644.0 620.6,640.9 583.0,634.9 584.1,637.8 585.1,640.7 586.2,643.6" fill="#9a2025"/><polygon points="621.3,643.1 620.3,640.0 619.2,637.0 618.2,633.9 580.7,628.2 581.7,631.1 582.7,634.0 583.7,636.9" fill="#9a2125"/><polygon points="618.9,636.0 617.9,633.0 616.9,629.9 615.9,626.8 578.5,621.4 579.4,624.3 580.4,627.3 581.4,630.2" fill="#9a2125"/><polygon points="616.6,628.9 615.6,625.9 614.7,622.8 613.7,619.7 576.4,614.5 577.3,617.5 578.2,620.5 579.1,623.4" fill="#9a2125"/><polygon points="614.4,621.8 613.4,618.7 612.5,615.6 611.7,612.5 574.4,607.6 575.3,610.6 576.1,613.6 577.0,616.6" fill="#9b2125"/><polygon points="612.3,614.6 611.4,611.5 610.6,608.4 609.7,605.2 572.6,600.7 573.3,603.7 574.2,606.7 575.0,609.7" fill="#9b2125"/><polygon points="610.3,607.4 609.5,604.2 608.7,601.1 607.9,597.9 570.8,593.7 571.5,596.7 572.3,599.8 573.1,602.8" fill="#9b2125"/><polygon points="608.5,600.1 607.7,597.0 607.0,593.8 606.2,590.6 569.2,586.7 569.9,589.7 570.6,592.8 571.3,595.8" fill="#9b2125"/><polygon points="606.7,592.8 606.0,589.6 605.3,586.4 604.7,583.2 567.7,579.6 568.3,582.7 569.0,585.7 569.7,588.8" fill="#9b2125"/><polygon points="605.1,585.5 604.5,582.3 603.8,579.0 603.2,575.8 566.3,572.5 566.9,575.6 567.5,578.7 568.1,581.8" fill="#9c2125"/><polygon points="603.7,578.1 603.1,574.8 602.5,571.6 601.9,568.4 565.0,565.4 565.5,568.5 566.1,571.6 566.7,574.7" fill="#9c2125"/><polygon points="602.3,570.6 601.8,567.4 601.2,564.2 600.7,560.9 563.9,558.3 564.3,561.4 564.8,564.5 565.4,567.6" fill="#9c2126"/><polygon points="601.1,563.2 600.6,559.9 600.1,556.7 599.7,553.5 562.8,551.1 563.3,554.2 563.7,557.3 564.2,560.4" fill="#9c2126"/><polygon points="600.0,555.7 599.5,552.5 599.1,549.2 598.7,545.9 561.9,543.9 562.3,547.0 562.7,550.2 563.1,553.3" fill="#9c2126"/><polygon points="599.0,548.2 598.6,544.9 598.2,541.7 597.9,538.4 561.1,536.7 561.5,539.8 561.8,543.0 562.2,546.1" fill="#9d2126"/><polygon points="598.1,540.7 597.8,537.4 597.5,534.1 597.2,530.9 560.5,529.5 560.7,532.6 561.0,535.8 561.4,538.9" fill="#9d2226"/><polygon points="597.4,533.1 597.1,529.9 596.9,526.6 596.7,523.3 559.9,522.3 560.1,525.4 560.4,528.5 560.7,531.7" fill="#9d2226"/><polygon points="596.8,525.6 596.6,522.3 596.4,519.0 596.2,515.7 559.5,515.0 559.7,518.2 559.9,521.3 560.1,524.4" fill="#9d2226"/><polygon points="596.3,518.0 596.2,514.7 596.0,511.5 595.9,508.2 559.2,507.8 559.3,510.9 559.5,514.0 559.6,517.2" fill="#9d2226"/><polygon points="596.0,510.4 595.9,507.2 595.8,503.9 595.7,500.6 559.0,500.5 559.1,503.6 559.2,506.8 559.3,509.9" fill="#9e2226"/><polygon points="595.8,502.9 595.7,499.6 595.7,496.3 595.7,493.0 559.0,493.2 559.0,496.4 559.0,499.5 559.1,502.7" fill="#9e2226"/><polygon points="595.7,495.3 595.7,492.0 595.7,488.7 595.8,485.4 559.1,486.0 559.0,489.1 559.0,492.3 559.0,495.4" fill="#9e2226"/><polygon points="595.7,487.7 595.8,484.4 595.9,481.1 596.0,477.8 559.3,478.7 559.2,481.8 559.1,485.0 559.0,488.1" fill="#9e2226"/><polygon points="595.9,480.1 596.0,476.8 596.2,473.5 596.3,470.2 559.6,471.4 559.4,474.6 559.3,477.7 559.2,480.9" fill="#9e2226"/><polygon points="596.2,472.5 596.4,469.2 596.6,466.0 596.8,462.7 560.0,464.2 559.8,467.3 559.6,470.5 559.5,473.6" fill="#9f2226"/><polygon points="596.6,465.0 596.9,461.7 597.1,458.4 597.4,455.1 560.6,457.0 560.3,460.1 560.1,463.2 559.9,466.4" fill="#9f2226"/><polygon points="597.2,457.4 597.5,454.1 597.8,450.8 598.1,447.6 561.3,449.7 561.0,452.9 560.7,456.0 560.4,459.1" fill="#9f2226"/><polygon points="597.9,449.8 598.2,446.6 598.5,443.3 598.9,440.1 562.1,442.5 561.7,445.7 561.4,448.8 561.1,451.9" fill="#9f2226"/><polygon points="598.7,442.3 599.1,439.1 599.5,435.8 599.9,432.6 563.1,435.4 562.6,438.5 562.2,441.6 561.9,444.7" fill="#9f2226"/><polygon points="599.6,434.8 600.0,431.6 600.5,428.3 601.0,425.1 564.1,428.2 563.6,431.3 563.2,434.4 562.8,437.5" fill="#9f2226"/><polygon points="600.7,427.3 601.1,424.1 601.7,420.9 602.2,417.6 565.3,421.1 564.8,424.2 564.3,427.3 563.8,430.4" fill="#9f2226"/><polygon points="601.8,419.9 602.4,416.6 603.0,413.4 603.6,410.2 566.6,414.0 566.0,417.0 565.5,420.1 564.9,423.2" fill="#a02226"/><polygon points="603.1,412.4 603.7,409.2 604.4,406.0 605.0,402.8 568.0,406.9 567.4,410.0 566.8,413.0 566.2,416.1" fill="#a02226"/><polygon points="604.6,405.0 605.2,401.8 605.9,398.7 606.6,395.5 569.5,399.8 568.9,402.9 568.2,406.0 567.6,409.0" fill="#a02226"/><polygon points="606.1,397.7 606.8,394.5 607.6,391.3 608.3,388.2 571.2,392.8 570.5,395.9 569.8,398.9 569.1,402.0" fill="#a02227"/><polygon points="607.8,390.4 608.6,387.2 609.4,384.0 610.2,380.9 573.0,385.9 572.2,388.9 571.4,391.9 570.7,394.9" fill="#a02227"/><polygon points="609.6,383.1 610.4,379.9 611.3,376.8 612.1,373.7 574.9,379.0 574.0,382.0 573.2,385.0 572.4,388.0" fill="#a02227"/><polygon points="611.5,375.8 612.4,372.7 613.3,369.6 614.2,366.5 576.9,372.1 576.0,375.1 575.1,378.0 574.3,381.0" fill="#a12227"/><polygon points="613.6,368.6 614.5,365.5 615.4,362.4 616.4,359.3 579.0,365.2 578.1,368.2 577.2,371.2 576.3,374.1" fill="#a12227"/><polygon points="615.7,361.5 616.7,358.4 617.7,355.3 618.7,352.3 581.2,358.5 580.3,361.4 579.3,364.3 578.4,367.3" fill="#a12227"/><polygon points="618.0,354.4 619.0,351.3 620.1,348.3 621.2,345.2 583.6,351.7 582.6,354.6 581.5,357.6 580.6,360.5" fill="#a12227"/><polygon points="620.4,347.3 621.5,344.3 622.6,341.3 623.7,338.3 586.1,345.0 585.0,347.9 583.9,350.8 582.9,353.7" fill="#a12227"/><polygon points="622.9,340.4 624.1,337.3 625.2,334.3 626.4,331.4 588.6,338.4 587.5,341.3 586.4,344.2 585.3,347.0" fill="#a12227"/><polygon points="625.6,333.4 626.7,330.4 627.9,327.5 629.2,324.5 591.3,331.9 590.1,334.7 589.0,337.6 587.8,340.4" fill="#a22227"/><polygon points="628.3,326.6 629.5,323.6 630.8,320.7 632.0,317.7 594.1,325.4 592.9,328.2 591.7,331.0 590.5,333.8" fill="#a22227"/><polygon points="631.2,319.8 632.4,316.8 633.7,313.9 635.0,311.0 597.0,318.9 595.7,321.7 594.5,324.5 593.2,327.3" fill="#a22227"/><polygon points="634.1,313.0 635.4,310.1 636.8,307.2 638.2,304.4 600.0,312.6 598.7,315.3 597.4,318.1 596.1,320.9" fill="#a22327"/><polygon points="637.2,306.4 638.6,303.5 640.0,300.6 641.4,297.8 603.1,306.3 601.7,309.0 600.4,311.7 599.1,314.5" fill="#a22327"/><polygon points="640.4,299.8 641.8,296.9 643.2,294.1 644.7,291.3 606.3,300.0 604.9,302.7 603.5,305.4 602.2,308.1" fill="#a22327"/><polygon points="643.7,293.2 645.1,290.4 646.6,287.7 648.1,284.9 609.6,293.9 608.2,296.5 606.8,299.2 605.3,301.9" fill="#a32327"/><polygon points="647.1,286.8 648.6,284.0 650.1,281.3 651.7,278.5 613.1,287.8 611.6,290.4 610.1,293.1 608.6,295.7" fill="#a32327"/><polygon points="650.6,280.4 652.1,277.7 653.7,275.0 655.3,272.3 616.6,281.8 615.0,284.4 613.5,287.0 612.0,289.6" fill="#a32327"/><polygon points="654.2,274.1 655.8,271.4 657.4,268.8 659.0,266.1 620.2,275.8 618.6,278.4 617.0,281.0 615.5,283.6" fill="#a32327"/><polygon points="657.9,267.9 659.5,265.3 661.2,262.6 662.9,260.0 623.9,270.0 622.3,272.5 620.7,275.1 619.1,277.6" fill="#a32327"/><polygon points="661.7,261.8 663.4,259.2 665.1,256.6 666.8,254.0 627.7,264.2 626.0,266.7 624.4,269.2 622.8,271.8" fill="#a32327"/><polygon points="665.6,255.8 667.3,253.2 669.1,250.6 670.8,248.1 631.6,258.6 629.9,261.0 628.2,263.5 626.5,266.0" fill="#a42327"/><polygon points="669.6,249.8 671.4,247.3 673.1,244.8 674.9,242.3 635.6,253.0 633.8,255.4 632.1,257.8 630.4,260.3" fill="#a42327"/><polygon points="673.7,244.0 675.5,241.5 677.3,239.0 679.1,236.5 639.6,247.5 637.9,249.8 636.1,252.2 634.3,254.6" fill="#a42327"/><polygon points="677.9,238.2 679.7,235.8 681.6,233.3 683.4,230.9 643.8,242.1 642.0,244.4 640.2,246.7 638.4,249.1" fill="#a42327"/><polygon points="682.1,232.6 684.0,230.1 685.9,227.7 687.8,225.3 648.0,236.7 646.2,239.0 644.3,241.3 642.5,243.7" fill="#a42328"/><polygon points="686.5,227.0 688.4,224.6 690.4,222.3 692.3,219.9 652.4,231.5 650.5,233.8 648.6,236.0 646.7,238.3" fill="#a42328"/><polygon points="691.0,221.5 692.9,219.2 694.9,216.9 696.9,214.6 656.8,226.4 654.8,228.6 652.9,230.8 651.1,233.1" fill="#a42328"/><polygon points="695.5,216.2 697.5,213.9 699.5,211.6 701.5,209.3 661.3,221.4 659.3,223.5 657.4,225.7 655.4,227.9" fill="#a52328"/><polygon points="700.1,210.9 702.1,208.6 704.2,206.4 706.2,204.2 665.8,216.4 663.8,218.5 661.9,220.7 659.9,222.9" fill="#a52328"/><polygon points="704.8,205.7 706.9,203.5 708.9,201.3 711.0,199.2 670.5,211.6 668.5,213.7 666.4,215.8 664.4,217.9" fill="#a52328"/><polygon points="709.6,200.7 711.7,198.5 713.8,196.4 715.9,194.2 675.2,206.9 673.1,208.9 671.1,210.9 669.1,213.0" fill="#a52328"/><polygon points="714.4,195.7 716.6,193.6 718.7,191.5 720.9,189.4 680.0,202.2 677.9,204.2 675.8,206.2 673.8,208.3" fill="#a52328"/><polygon points="719.4,190.9 721.5,188.8 723.7,186.7 725.9,184.7 684.8,197.7 682.7,199.6 680.6,201.6 678.5,203.6" fill="#a52328"/><polygon points="724.4,186.1 726.6,184.1 728.8,182.1 731.0,180.1 689.8,193.3 687.6,195.2 685.5,197.1 683.4,199.0" fill="#a62328"/><polygon points="729.4,181.5 731.7,179.5 733.9,177.6 736.1,175.6 694.8,189.0 692.6,190.8 690.4,192.7 688.3,194.6" fill="#a62328"/><polygon points="734.6,177.0 737.2,174.8 739.8,172.6 698.3,186.0 695.8,188.1 693.3,190.2" fill="#a62328"/><polygon points="991.7,732.7 989.9,732.9 988.0,733.1 986.2,733.2 984.4,733.4 982.5,733.5 980.7,733.6 978.8,733.7 977.0,733.8 975.1,733.9 973.3,733.9 971.4,733.9 969.6,734.0 967.7,733.9 965.9,733.9 964.0,733.9 962.2,733.8 960.3,733.7 958.5,733.6 956.6,733.5 954.8,733.4 952.9,733.2 951.1,733.0 949.2,732.8 947.4,732.6 945.5,732.4 943.7,732.1 941.8,731.9 940.0,731.6 938.1,731.3 936.3,731.0 934.4,730.6 887.1,721.5 888.9,721.8 890.7,722.1 892.5,722.4 894.2,722.7 896.0,722.9 897.8,723.2 899.6,723.4 901.4,723.6 903.2,723.8 905.0,724.0 906.8,724.1 908.6,724.3 910.4,724.4 912.2,724.5 914.0,724.6 915.8,724.6 917.6,724.7 919.4,724.7 921.2,724.7 923.0,724.7 924.8,724.7 926.6,724.7 928.4,724.6 930.2,724.5 932.0,724.5 933.8,724.3 935.6,724.2 937.4,724.1 939.2,723.9 941.0,723.7 942.7,723.5" fill="#b0262b" stroke="#b0262b" stroke-width="0.6"/><polygon points="739.8,172.6 742.1,170.7 744.4,168.8 746.7,166.9 749.1,165.1 751.4,163.3 753.8,161.5 711.9,175.4 709.6,177.1 707.3,178.8 705.0,180.6 702.8,182.4 700.5,184.2 698.3,186.0" fill="#e0a000" stroke="#e0a000" stroke-width="0.6"/><polygon points="753.8,161.5 756.5,159.5 759.2,157.6 761.9,155.6 764.7,153.7 767.4,151.8 770.2,150.0 772.9,148.2 775.7,146.4 778.5,144.6 781.3,142.9 784.2,141.2 787.0,139.5 789.9,137.9 792.7,136.3 795.6,134.7 798.5,133.1 801.3,131.6 804.2,130.1 807.2,128.7 810.1,127.3 813.0,125.9 815.9,124.5 772.1,139.6 769.2,141.0 766.4,142.3 763.6,143.7 760.7,145.1 757.9,146.5 755.1,148.0 752.3,149.5 749.6,151.0 746.8,152.6 744.0,154.2 741.3,155.8 738.5,157.4 735.8,159.1 733.1,160.8 730.4,162.5 727.7,164.3 725.1,166.0 722.4,167.9 719.7,169.7 717.1,171.6 714.5,173.5 711.9,175.4" fill="#2a7b95" stroke="#2a7b95" stroke-width="0.6"/><polygon points="815.9,124.5 817.4,123.8 818.9,123.1 775.0,138.3 773.5,139.0 772.1,139.6" fill="#2e3a46" stroke="#2e3a46" stroke-width="0.6"/><polygon points="818.9,123.1 821.9,121.8 824.8,120.6 827.7,119.3 830.7,118.1 833.6,117.0 836.6,115.8 839.6,114.7 842.5,113.6 797.9,129.1 795.0,130.2 792.1,131.3 789.2,132.4 786.4,133.5 783.5,134.7 780.7,135.9 777.8,137.1 775.0,138.3" fill="#6e2e06" stroke="#6e2e06" stroke-width="0.6"/><polygon points="932.4,258.0 934.2,257.7 936.1,257.4 937.9,257.0 939.7,256.7 941.5,256.5 943.3,256.2 945.1,256.0 947.0,255.7 948.8,255.5 950.6,255.3 952.4,255.2 954.2,255.0 956.1,254.9 957.9,254.7 909.9,264.3 908.1,264.4 906.3,264.6 904.6,264.7 902.8,264.9 901.0,265.1 899.2,265.3 897.5,265.5 895.7,265.7 893.9,266.0 892.2,266.3 890.4,266.6 888.7,266.9 886.9,267.2 885.1,267.5" fill="#7a3409" stroke="#7a3409" stroke-width="0.6"/><polygon points="957.9,254.7 959.7,254.6 961.6,254.6 963.4,254.5 965.2,254.4 967.1,254.4 968.9,254.4 970.8,254.4 972.6,254.4 974.4,254.5 976.3,254.5 978.1,254.6 979.9,254.7 981.7,254.8 983.6,254.9 985.4,255.1 987.2,255.2 989.0,255.4 990.9,255.6 992.7,255.9 994.5,256.1 996.3,256.3 998.1,256.6 999.9,256.9 1001.7,257.2 1003.5,257.5 1005.3,257.9 1007.1,258.2 1008.9,258.6 1010.7,259.0 1012.5,259.4 1014.3,259.8 1016.0,260.3 1017.8,260.7 1019.6,261.2 1021.3,261.7 1023.1,262.2 1024.8,262.7 1026.6,263.3 1028.3,263.9 1030.1,264.4 1031.8,265.0 1033.5,265.6 1035.2,266.3 1037.0,266.9 1038.7,267.6 1040.4,268.2 1042.1,268.9 1043.8,269.6 1045.4,270.4 1047.1,271.1 1048.8,271.9 1050.5,272.6 1052.1,273.4 1053.8,274.2 1055.4,275.0 1057.1,275.9 1058.7,276.7 1060.3,277.6 1061.9,278.5 1063.6,279.3 1065.2,280.3 1066.8,281.2 1068.4,282.1 1069.9,283.1 1071.5,284.0 1073.1,285.0 1074.6,286.0 1076.2,287.0 1077.7,288.1 1079.3,289.1 1080.8,290.1 1082.3,291.2 1031.0,299.1 1029.5,298.1 1028.0,297.1 1026.5,296.1 1025.0,295.1 1023.5,294.1 1022.0,293.2 1020.5,292.2 1018.9,291.3 1017.4,290.4 1015.8,289.5 1014.3,288.6 1012.7,287.7 1011.1,286.9 1009.6,286.0 1008.0,285.2 1006.4,284.4 1004.8,283.6 1003.2,282.8 1001.6,282.0 1000.0,281.3 998.3,280.5 996.7,279.8 995.1,279.1 993.4,278.4 991.8,277.8 990.1,277.1 988.5,276.4 986.8,275.8 985.1,275.2 983.5,274.6 981.8,274.0 980.1,273.5 978.4,272.9 976.7,272.4 975.0,271.8 973.3,271.3 971.6,270.9 969.9,270.4 968.2,269.9 966.4,269.5 964.7,269.1 963.0,268.7 961.2,268.3 959.5,267.9 957.8,267.5 956.0,267.2 954.3,266.9 952.5,266.6 950.8,266.3 949.0,266.0 947.2,265.7 945.5,265.5 943.7,265.3 942.0,265.1 940.2,264.9 938.4,264.7 936.6,264.6 934.9,264.4 933.1,264.3 931.3,264.2 929.5,264.1 927.7,264.0 926.0,264.0 924.2,264.0 922.4,263.9 920.6,263.9 918.8,264.0 917.0,264.0 915.2,264.0 913.4,264.1 911.7,264.2 909.9,264.3" fill="#5a7d25"/><polygon points="957.9,254.7 959.5,254.6 961.1,254.6 962.7,254.5 914.5,264.1 913.0,264.1 911.4,264.2 909.9,264.3" fill="#597b24"/><polygon points="961.6,254.6 963.2,254.5 964.8,254.4 966.4,254.4 918.1,264.0 916.6,264.0 915.0,264.0 913.4,264.1" fill="#597b24"/><polygon points="965.2,254.4 966.8,254.4 968.4,254.4 970.0,254.4 921.7,263.9 920.1,263.9 918.6,264.0 917.0,264.0" fill="#597b25"/><polygon points="968.9,254.4 970.5,254.4 972.1,254.4 973.7,254.4 925.3,264.0 923.7,264.0 922.2,263.9 920.6,263.9" fill="#597b25"/><polygon points="972.6,254.4 974.2,254.5 975.8,254.5 977.4,254.6 928.8,264.1 927.3,264.0 925.7,264.0 924.2,264.0" fill="#597b25"/><polygon points="976.3,254.5 977.8,254.6 979.4,254.7 981.0,254.8 932.4,264.3 930.8,264.2 929.3,264.1 927.7,264.0" fill="#597c25"/><polygon points="979.9,254.7 981.5,254.8 983.1,254.9 984.7,255.0 935.9,264.5 934.4,264.4 932.8,264.3 931.3,264.2" fill="#597c25"/><polygon points="983.6,254.9 985.2,255.1 986.7,255.2 988.3,255.4 939.5,264.8 937.9,264.7 936.4,264.5 934.9,264.4" fill="#597c25"/><polygon points="987.2,255.2 988.8,255.4 990.4,255.6 992.0,255.8 943.0,265.2 941.5,265.0 939.9,264.9 938.4,264.7" fill="#5a7c25"/><polygon points="990.9,255.6 992.4,255.8 994.0,256.0 995.6,256.2 946.6,265.7 945.0,265.4 943.5,265.3 942.0,265.1" fill="#5a7c25"/><polygon points="994.5,256.1 996.1,256.3 997.6,256.5 999.2,256.8 950.1,266.2 948.5,265.9 947.0,265.7 945.5,265.5" fill="#5a7c25"/><polygon points="998.1,256.6 999.7,256.9 1001.3,257.1 1002.8,257.4 953.6,266.8 952.1,266.5 950.5,266.2 949.0,266.0" fill="#5a7c25"/><polygon points="1001.7,257.2 1003.3,257.5 1004.9,257.8 1006.4,258.1 957.1,267.4 955.6,267.1 954.0,266.8 952.5,266.6" fill="#5a7c25"/><polygon points="1005.3,257.9 1006.9,258.2 1008.4,258.5 1010.0,258.8 960.6,268.1 959.0,267.8 957.5,267.5 956.0,267.2" fill="#5a7c25"/><polygon points="1008.9,258.6 1010.5,258.9 1012.0,259.3 1013.6,259.7 964.0,268.9 962.5,268.6 961.0,268.2 959.5,267.9" fill="#5a7d25"/><polygon points="1012.5,259.4 1014.0,259.8 1015.6,260.2 1017.1,260.6 967.5,269.8 966.0,269.4 964.5,269.0 963.0,268.7" fill="#5a7d25"/><polygon points="1016.0,260.3 1017.6,260.7 1019.1,261.1 1020.6,261.5 970.9,270.7 969.4,270.3 967.9,269.9 966.4,269.5" fill="#5a7d25"/><polygon points="1019.6,261.2 1021.1,261.6 1022.6,262.1 1024.1,262.5 974.3,271.6 972.8,271.2 971.4,270.8 969.9,270.4" fill="#5a7d25"/><polygon points="1023.1,262.2 1024.6,262.7 1026.1,263.1 1027.6,263.6 977.7,272.7 976.3,272.2 974.8,271.8 973.3,271.3" fill="#5a7d25"/><polygon points="1026.6,263.3 1028.1,263.8 1029.6,264.3 1031.1,264.8 981.1,273.8 979.6,273.3 978.2,272.8 976.7,272.4" fill="#5b7d25"/><polygon points="1030.1,264.4 1031.6,264.9 1033.1,265.5 1034.6,266.0 984.5,275.0 983.0,274.4 981.6,273.9 980.1,273.5" fill="#5b7d25"/><polygon points="1033.5,265.6 1035.0,266.2 1036.5,266.7 1038.0,267.3 987.8,276.2 986.4,275.7 984.9,275.1 983.5,274.6" fill="#5b7d25"/><polygon points="1037.0,266.9 1038.4,267.5 1039.9,268.1 1041.4,268.7 991.1,277.5 989.7,276.9 988.2,276.4 986.8,275.8" fill="#5b7d25"/><polygon points="1040.4,268.2 1041.8,268.8 1043.3,269.5 1044.8,270.1 994.4,278.8 993.0,278.2 991.6,277.7 990.1,277.1" fill="#5b7e25"/><polygon points="1043.8,269.6 1045.2,270.3 1046.7,270.9 1048.1,271.6 997.7,280.3 996.3,279.6 994.9,279.0 993.4,278.4" fill="#5b7e25"/><polygon points="1047.1,271.1 1048.6,271.8 1050.0,272.4 1051.5,273.1 1000.9,281.7 999.5,281.1 998.1,280.5 996.7,279.8" fill="#5b7e26"/><polygon points="1050.5,272.6 1051.9,273.3 1053.3,274.0 1054.8,274.7 1004.2,283.3 1002.8,282.6 1001.4,281.9 1000.0,281.3" fill="#5b7e26"/><polygon points="1053.8,274.2 1055.2,274.9 1056.6,275.6 1058.1,276.4 1007.4,284.9 1006.0,284.2 1004.6,283.5 1003.2,282.8" fill="#5b7e26"/><polygon points="1057.1,275.9 1058.5,276.6 1059.9,277.3 1061.3,278.1 1010.5,286.5 1009.1,285.8 1007.8,285.1 1006.4,284.4" fill="#5b7e26"/><polygon points="1060.3,277.6 1061.7,278.3 1063.1,279.1 1064.5,279.9 1013.7,288.2 1012.3,287.5 1010.9,286.8 1009.6,286.0" fill="#5b7e26"/><polygon points="1063.6,279.3 1065.0,280.1 1066.3,280.9 1067.7,281.7 1016.8,290.0 1015.4,289.2 1014.1,288.5 1012.7,287.7" fill="#5b7e26"/><polygon points="1066.8,281.2 1068.1,282.0 1069.5,282.8 1070.9,283.7 1019.9,291.8 1018.5,291.0 1017.2,290.3 1015.8,289.5" fill="#5c7e26"/><polygon points="1069.9,283.1 1071.3,283.9 1072.7,284.8 1074.0,285.6 1022.9,293.7 1021.6,292.9 1020.3,292.1 1018.9,291.3" fill="#5c7f26"/><polygon points="1073.1,285.0 1074.4,285.9 1075.8,286.8 1077.1,287.6 1025.9,295.7 1024.6,294.8 1023.3,294.0 1022.0,293.2" fill="#5c7f26"/><polygon points="1076.2,287.0 1077.5,287.9 1078.9,288.8 1080.2,289.7 1028.9,297.7 1027.6,296.8 1026.3,295.9 1025.0,295.1" fill="#5c7f26"/><polygon points="1079.3,289.1 1080.8,290.1 1082.3,291.2 1031.0,299.1 1029.5,298.1 1028.0,297.1" fill="#5c7f26"/><polygon points="1082.3,291.2 1083.8,292.3 1085.3,293.4 1086.8,294.5 1088.3,295.6 1089.8,296.8 1091.2,297.9 1092.7,299.1 1094.1,300.3 1095.6,301.4 1097.0,302.6 1098.4,303.9 1099.8,305.1 1101.2,306.3 1102.6,307.6 1104.0,308.9 1105.3,310.1 1106.7,311.4 1108.0,312.7 1109.4,314.0 1110.7,315.4 1112.0,316.7 1113.3,318.1 1114.6,319.4 1115.9,320.8 1117.2,322.2 1118.5,323.6 1119.7,325.0 1121.0,326.4 1122.2,327.9 1123.4,329.3 1124.6,330.8 1125.8,332.2 1127.0,333.7 1128.2,335.2 1129.4,336.7 1130.5,338.2 1131.7,339.7 1132.8,341.3 1080.2,347.2 1079.1,345.7 1078.0,344.2 1076.9,342.8 1075.7,341.3 1074.6,339.9 1073.4,338.5 1072.2,337.1 1071.1,335.7 1069.9,334.3 1068.7,332.9 1067.5,331.6 1066.2,330.2 1065.0,328.9 1063.8,327.5 1062.5,326.2 1061.2,324.9 1060.0,323.6 1058.7,322.3 1057.4,321.0 1056.1,319.8 1054.8,318.5 1053.4,317.3 1052.1,316.0 1050.8,314.8 1049.4,313.6 1048.0,312.4 1046.7,311.2 1045.3,310.1 1043.9,308.9 1042.5,307.8 1041.1,306.6 1039.7,305.5 1038.2,304.4 1036.8,303.3 1035.4,302.3 1033.9,301.2 1032.4,300.1 1031.0,299.1" fill="#b2262b" stroke="#b2262b" stroke-width="0.6"/><polygon points="1132.8,341.3 1133.9,342.8 1135.0,344.4 1136.1,345.9 1137.2,347.5 1138.3,349.1 1139.3,350.7 1140.4,352.3 1141.4,353.9 1142.4,355.5 1143.5,357.1 1144.5,358.7 1145.4,360.4 1146.4,362.0 1147.4,363.7 1148.3,365.4 1149.3,367.0 1150.2,368.7 1151.1,370.4 1152.0,372.1 1152.9,373.8 1153.8,375.6 1154.6,377.3 1155.5,379.0 1156.3,380.8 1157.2,382.5 1158.0,384.3 1158.8,386.0 1159.5,387.8 1160.3,389.6 1161.1,391.4 1161.8,393.2 1162.6,394.9 1163.3,396.8 1164.0,398.6 1164.7,400.4 1165.3,402.2 1166.0,404.0 1166.7,405.9 1167.3,407.7 1167.9,409.5 1168.5,411.4 1169.1,413.3 1169.7,415.1 1170.3,417.0 1170.9,418.9 1171.4,420.7 1171.9,422.6 1172.4,424.5 1172.9,426.4 1173.4,428.3 1173.9,430.2 1174.4,432.1 1174.8,434.0 1175.2,435.9 1175.7,437.8 1176.1,439.7 1176.5,441.6 1176.8,443.6 1177.2,445.5 1177.5,447.4 1177.9,449.4 1178.2,451.3 1178.5,453.2 1178.8,455.2 1179.1,457.1 1179.3,459.1 1179.6,461.0 1179.8,463.0 1126.1,464.3 1125.9,462.4 1125.6,460.5 1125.4,458.7 1125.1,456.8 1124.8,454.9 1124.5,453.1 1124.2,451.2 1123.9,449.3 1123.5,447.5 1123.2,445.6 1122.8,443.8 1122.4,441.9 1122.0,440.1 1121.6,438.2 1121.2,436.4 1120.8,434.5 1120.3,432.7 1119.8,430.9 1119.4,429.1 1118.9,427.2 1118.4,425.4 1117.9,423.6 1117.3,421.8 1116.8,420.0 1116.2,418.2 1115.7,416.4 1115.1,414.6 1114.5,412.9 1113.9,411.1 1113.2,409.3 1112.6,407.5 1112.0,405.8 1111.3,404.0 1110.6,402.3 1109.9,400.5 1109.2,398.8 1108.5,397.1 1107.8,395.4 1107.1,393.6 1106.3,391.9 1105.5,390.2 1104.8,388.5 1104.0,386.8 1103.2,385.2 1102.3,383.5 1101.5,381.8 1100.7,380.2 1099.8,378.5 1099.0,376.9 1098.1,375.2 1097.2,373.6 1096.3,372.0 1095.4,370.3 1094.4,368.7 1093.5,367.1 1092.5,365.6 1091.6,364.0 1090.6,362.4 1089.6,360.8 1088.6,359.3 1087.6,357.7 1086.6,356.2 1085.5,354.7 1084.5,353.2 1083.4,351.6 1082.4,350.1 1081.3,348.7 1080.2,347.2" fill="#fdb800" stroke="#fdb800" stroke-width="0.6"/><polygon points="1179.8,463.0 1180.0,464.9 1180.3,466.9 1180.4,468.8 1180.6,470.8 1180.8,472.7 1180.9,474.7 1181.1,476.7 1181.2,478.6 1181.3,480.6 1181.4,482.6 1181.5,484.5 1181.5,486.5 1181.6,488.5 1181.6,490.4 1181.6,492.4 1181.7,494.3 1127.9,494.5 1127.9,492.6 1127.8,490.7 1127.8,488.8 1127.8,486.9 1127.7,485.0 1127.6,483.1 1127.5,481.3 1127.4,479.4 1127.3,477.5 1127.2,475.6 1127.0,473.7 1126.9,471.8 1126.7,469.9 1126.5,468.1 1126.3,466.2 1126.1,464.3" fill="#3c9fb8" stroke="#3c9fb8" stroke-width="0.6"/><polygon points="1299.6,494.5 1299.6,497.6 1299.6,500.7 1299.5,503.8 1299.4,506.9 1299.3,510.1 1299.2,513.2 1299.1,516.3 1298.9,519.4 1298.7,522.5 1298.5,525.6 1298.3,528.7 1298.0,531.8 1297.7,534.9 1297.5,538.0 1297.1,541.1 1296.8,544.2 1296.4,547.3 1296.0,550.4 1295.6,553.5 1295.2,556.6 1294.8,559.7 1294.3,562.7 1293.8,565.8 1293.3,568.9 1292.7,571.9 1292.2,575.0 1291.6,578.1 1291.0,581.1 1290.4,584.2 1289.7,587.2 1289.1,590.2 1288.4,593.3 1287.7,596.3 1286.9,599.3 1286.2,602.3 1285.4,605.3 1284.6,608.3 1283.8,611.3 1282.9,614.3 1282.1,617.3 1281.2,620.2 1280.3,623.2 1279.4,626.1 1278.4,629.1 1277.5,632.0 1276.5,635.0 1275.5,637.9 1274.4,640.8 1273.4,643.7 1272.3,646.6 1271.2,649.5 1270.1,652.4 1269.0,655.2 1267.8,658.1 1266.6,661.0 1265.4,663.8 1264.2,666.6 1263.0,669.4 1261.7,672.3 1260.4,675.1 1259.1,677.8 1257.8,680.6 1256.5,683.4 1255.1,686.1 1253.7,688.9 1252.3,691.6 1250.9,694.3 1249.5,697.0 1248.0,699.7 1246.5,702.4 1245.0,705.1 1243.5,707.7 1241.9,710.4 1240.4,713.0 1238.8,715.6 1237.2,718.2 1235.6,720.8 1234.0,723.4 1232.3,726.0 1230.6,728.5 1228.9,731.1 1227.2,733.6 1225.5,736.1 1223.7,738.6 1221.9,741.1 1220.2,743.5 1218.3,746.0 1216.5,748.4 1214.7,750.8 1212.8,753.2 1210.9,755.6 1209.0,757.9 1207.1,760.3 1205.2,762.6 1203.2,764.9 1201.2,767.2 1199.3,769.5 1197.3,771.8 1195.2,774.0 1193.2,776.3 1191.1,778.5 1189.0,780.7 1187.0,782.8 1184.8,785.0 1182.7,787.1 1180.6,789.3 1178.4,791.4 1176.2,793.4 1174.0,795.5 1171.8,797.5 1169.6,799.6 1167.4,801.6 1165.1,803.6 1162.8,805.5 1160.5,807.5 1158.2,809.4 1155.9,811.3 1153.6,813.2 1151.2,815.0 1148.9,816.9 1146.5,818.7 1144.1,820.5 1141.7,822.3 1139.2,824.0 1136.8,825.8 1134.4,827.5 1131.9,829.2 1129.4,830.8 1126.9,832.5 1124.4,834.1 1121.9,835.7 1119.3,837.3 1116.8,838.8 1114.2,840.4 1111.6,841.9 1109.1,843.3 1106.5,844.8 1103.8,846.2 1101.2,847.7 1098.6,849.0 1095.9,850.4 1093.3,851.7 1090.6,853.1 1089.1,860.2 1091.9,858.9 1094.6,857.5 1097.3,856.1 1100.0,854.7 1102.6,853.3 1105.3,851.8 1108.0,850.3 1110.6,848.8 1113.2,847.2 1115.9,845.7 1118.5,844.1 1121.0,842.5 1123.6,840.8 1126.2,839.2 1128.7,837.5 1131.3,835.8 1133.8,834.1 1136.3,832.3 1138.8,830.5 1141.2,828.7 1143.7,826.9 1146.1,825.1 1148.6,823.2 1151.0,821.3 1153.4,819.4 1155.8,817.5 1158.1,815.6 1160.5,813.6 1162.8,811.6 1165.1,809.6 1167.4,807.6 1169.7,805.5 1172.0,803.5 1174.2,801.4 1176.5,799.3 1178.7,797.2 1180.9,795.0 1183.1,792.9 1185.3,790.7 1187.4,788.5 1189.5,786.2 1191.7,784.0 1193.8,781.8 1195.8,779.5 1197.9,777.2 1199.9,774.9 1202.0,772.5 1204.0,770.2 1206.0,767.8 1207.9,765.5 1209.9,763.1 1211.8,760.6 1213.8,758.2 1215.7,755.8 1217.5,753.3 1219.4,750.8 1221.2,748.3 1223.1,745.8 1224.9,743.3 1226.7,740.8 1228.4,738.2 1230.2,735.6 1231.9,733.0 1233.6,730.4 1235.3,727.8 1237.0,725.2 1238.6,722.6 1240.2,719.9 1241.9,717.2 1243.4,714.5 1245.0,711.8 1246.6,709.1 1248.1,706.4 1249.6,703.7 1251.1,700.9 1252.6,698.2 1254.0,695.4 1255.4,692.6 1256.8,689.8 1258.2,687.0 1259.6,684.2 1260.9,681.4 1262.3,678.5 1263.6,675.7 1264.9,672.8 1266.1,669.9 1267.4,667.0 1268.6,664.1 1269.8,661.2 1271.0,658.3 1272.1,655.4 1273.2,652.5 1274.4,649.5 1275.5,646.6 1276.5,643.6 1277.6,640.6 1278.6,637.7 1279.6,634.7 1280.6,631.7 1281.6,628.7 1282.5,625.7 1283.4,622.6 1284.3,619.6 1285.2,616.6 1286.1,613.5 1286.9,610.5 1287.7,607.4 1288.5,604.4 1289.3,601.3 1290.0,598.2 1290.7,595.1 1291.4,592.1 1292.1,589.0 1292.8,585.9 1293.4,582.8 1294.0,579.7 1294.6,576.5 1295.2,573.4 1295.7,570.3 1296.3,567.2 1296.8,564.0 1297.2,560.9 1297.7,557.8 1298.1,554.6 1298.5,551.5 1298.9,548.3 1299.3,545.2 1299.6,542.0 1300.0,538.9 1300.3,535.7 1300.6,532.6 1300.8,529.4 1301.0,526.2 1301.3,523.1 1301.4,519.9 1301.6,516.7 1301.8,513.5 1301.9,510.4 1302.0,507.2 1302.1,504.0 1302.1,500.8 1302.2,497.7 1302.2,494.5" fill="#4f7580"/><polygon points="1299.6,494.5 1299.6,497.2 1299.6,499.8 1299.5,502.5 1302.1,502.7 1302.1,500.0 1302.2,497.2 1302.2,494.5" fill="#4f7580"/><polygon points="1299.6,500.7 1299.5,503.3 1299.5,506.0 1299.4,508.7 1301.9,509.0 1302.0,506.3 1302.1,503.5 1302.1,500.8" fill="#4f7580"/><polygon points="1299.4,506.8 1299.3,509.5 1299.2,512.2 1299.1,514.9 1301.7,515.3 1301.8,512.6 1301.9,509.8 1302.0,507.1" fill="#4f7580"/><polygon points="1299.2,513.0 1299.1,515.7 1299.0,518.4 1298.8,521.1 1301.3,521.6 1301.5,518.9 1301.6,516.1 1301.8,513.4" fill="#4f7580"/><polygon points="1298.9,519.2 1298.8,521.9 1298.6,524.6 1298.4,527.3 1300.9,527.9 1301.1,525.2 1301.3,522.4 1301.5,519.7" fill="#4f7580"/><polygon points="1298.5,525.4 1298.3,528.1 1298.1,530.8 1297.9,533.4 1300.4,534.2 1300.6,531.5 1300.9,528.7 1301.1,526.0" fill="#4f7580"/><polygon points="1298.0,531.6 1297.8,534.2 1297.6,536.9 1297.3,539.6 1299.8,540.5 1300.1,537.7 1300.3,535.0 1300.6,532.3" fill="#4f7580"/><polygon points="1297.5,537.7 1297.2,540.4 1296.9,543.1 1296.6,545.7 1299.1,546.7 1299.4,544.0 1299.7,541.3 1300.0,538.6" fill="#4f7580"/><polygon points="1296.8,543.9 1296.5,546.6 1296.2,549.2 1295.9,551.9 1298.3,553.0 1298.7,550.3 1299.0,547.6 1299.3,544.8" fill="#4f7580"/><polygon points="1296.1,550.0 1295.7,552.7 1295.4,555.4 1295.0,558.0 1297.5,559.2 1297.9,556.5 1298.2,553.8 1298.6,551.1" fill="#4f7580"/><polygon points="1295.3,556.2 1294.9,558.8 1294.5,561.5 1294.1,564.1 1296.5,565.5 1297.0,562.8 1297.4,560.0 1297.8,557.3" fill="#4f7580"/><polygon points="1294.4,562.3 1293.9,564.9 1293.5,567.6 1293.0,570.2 1295.5,571.7 1296.0,569.0 1296.4,566.3 1296.8,563.6" fill="#4f7580"/><polygon points="1293.4,568.4 1292.9,571.0 1292.4,573.7 1291.9,576.3 1294.4,577.9 1294.9,575.2 1295.3,572.5 1295.8,569.8" fill="#4f7580"/><polygon points="1292.3,574.5 1291.8,577.1 1291.3,579.7 1290.7,582.4 1293.1,584.0 1293.7,581.4 1294.2,578.7 1294.7,576.0" fill="#4f7580"/><polygon points="1291.1,580.5 1290.6,583.1 1290.0,585.8 1289.5,588.4 1291.8,590.2 1292.4,587.5 1293.0,584.8 1293.5,582.2" fill="#4f7580"/><polygon points="1289.9,586.6 1289.3,589.2 1288.7,591.8 1288.1,594.4 1290.5,596.3 1291.1,593.7 1291.7,591.0 1292.3,588.3" fill="#4f7580"/><polygon points="1288.5,592.6 1287.9,595.2 1287.3,597.8 1286.7,600.4 1289.0,602.4 1289.6,599.8 1290.3,597.1 1290.9,594.5" fill="#4f7580"/><polygon points="1287.1,598.6 1286.5,601.2 1285.8,603.8 1285.1,606.4 1287.4,608.5 1288.1,605.9 1288.8,603.2 1289.4,600.6" fill="#4f7580"/><polygon points="1285.6,604.6 1284.9,607.1 1284.2,609.7 1283.5,612.3 1285.8,614.6 1286.5,611.9 1287.2,609.3 1287.9,606.7" fill="#4f7580"/><polygon points="1284.0,610.5 1283.3,613.1 1282.5,615.7 1281.8,618.2 1284.0,620.6 1284.8,618.0 1285.5,615.4 1286.3,612.7" fill="#4f7580"/><polygon points="1282.3,616.4 1281.6,619.0 1280.8,621.6 1280.0,624.1 1282.2,626.6 1283.0,624.0 1283.8,621.4 1284.6,618.8" fill="#4f7580"/><polygon points="1280.6,622.3 1279.8,624.9 1279.0,627.4 1278.1,630.0 1280.3,632.6 1281.1,630.0 1282.0,627.4 1282.8,624.8" fill="#4f7580"/><polygon points="1278.7,628.2 1277.9,630.7 1277.0,633.3 1276.2,635.8 1278.3,638.5 1279.2,635.9 1280.1,633.3 1280.9,630.7" fill="#4f7580"/><polygon points="1276.8,634.0 1275.9,636.6 1275.0,639.1 1274.1,641.6 1276.2,644.4 1277.2,641.8 1278.1,639.3 1278.9,636.7" fill="#4f7580"/><polygon points="1274.8,639.8 1273.9,642.3 1273.0,644.8 1272.0,647.3 1274.1,650.3 1275.0,647.7 1276.0,645.2 1276.9,642.6" fill="#4f7580"/><polygon points="1272.7,645.6 1271.7,648.1 1270.8,650.6 1269.8,653.1 1271.8,656.1 1272.8,653.6 1273.8,651.0 1274.7,648.5" fill="#4f7580"/><polygon points="1270.5,651.3 1269.5,653.8 1268.5,656.3 1267.5,658.8 1269.5,661.9 1270.5,659.4 1271.5,656.9 1272.5,654.3" fill="#4f7580"/><polygon points="1268.2,657.0 1267.2,659.5 1266.2,661.9 1265.2,664.4 1267.1,667.7 1268.2,665.2 1269.2,662.7 1270.2,660.1" fill="#4f7580"/><polygon points="1265.9,662.7 1264.9,665.1 1263.8,667.6 1262.7,670.0 1264.6,673.4 1265.7,670.9 1266.8,668.4 1267.8,665.9" fill="#4f7580"/><polygon points="1263.5,668.3 1262.4,670.7 1261.3,673.2 1260.2,675.6 1262.0,679.0 1263.2,676.6 1264.3,674.1 1265.4,671.6" fill="#4f7580"/><polygon points="1261.0,673.9 1259.9,676.3 1258.7,678.7 1257.6,681.1 1259.4,684.7 1260.5,682.2 1261.7,679.8 1262.8,677.3" fill="#4f7580"/><polygon points="1258.4,679.4 1257.2,681.8 1256.1,684.2 1254.9,686.6 1256.6,690.3 1257.8,687.8 1259.0,685.4 1260.2,683.0" fill="#4f7580"/><polygon points="1255.7,684.9 1254.5,687.3 1253.3,689.6 1252.1,692.0 1253.8,695.8 1255.0,693.4 1256.3,691.0 1257.5,688.6" fill="#4f7580"/><polygon points="1253.0,690.4 1251.7,692.7 1250.5,695.1 1249.3,697.4 1250.9,701.3 1252.2,698.9 1253.4,696.5 1254.7,694.1" fill="#4f7580"/><polygon points="1250.1,695.8 1248.9,698.1 1247.6,700.4 1246.3,702.7 1247.9,706.7 1249.2,704.4 1250.5,702.0 1251.8,699.6" fill="#4f7580"/><polygon points="1247.2,701.1 1245.9,703.4 1244.6,705.7 1243.3,708.0 1244.9,712.1 1246.2,709.8 1247.5,707.4 1248.8,705.1" fill="#4f7580"/><polygon points="1244.3,706.4 1242.9,708.7 1241.6,711.0 1240.2,713.3 1241.7,717.5 1243.1,715.2 1244.4,712.8 1245.8,710.5" fill="#4f7580"/><polygon points="1241.2,711.7 1239.8,713.9 1238.5,716.2 1237.1,718.4 1238.5,722.8 1239.9,720.5 1241.3,718.2 1242.7,715.9" fill="#4f7580"/><polygon points="1238.1,716.9 1236.7,719.1 1235.3,721.3 1233.9,723.6 1235.2,728.0 1236.6,725.7 1238.1,723.4 1239.5,721.2" fill="#4f7580"/><polygon points="1234.8,722.0 1233.4,724.2 1232.0,726.4 1230.5,728.6 1231.8,733.2 1233.3,730.9 1234.8,728.7 1236.2,726.4" fill="#4f7580"/><polygon points="1231.6,727.1 1230.1,729.3 1228.6,731.5 1227.1,733.7 1228.4,738.3 1229.9,736.1 1231.4,733.8 1232.9,731.6" fill="#4f7580"/><polygon points="1228.2,732.1 1226.7,734.3 1225.2,736.5 1223.7,738.6 1224.8,743.3 1226.4,741.2 1227.9,739.0 1229.4,736.7" fill="#4f7580"/><polygon points="1224.7,737.1 1223.2,739.3 1221.7,741.4 1220.1,743.5 1221.2,748.3 1222.8,746.2 1224.4,744.0 1225.9,741.8" fill="#4f7580"/><polygon points="1221.2,742.0 1219.7,744.2 1218.1,746.3 1216.5,748.4 1217.6,753.3 1219.2,751.1 1220.8,749.0 1222.3,746.8" fill="#4f7580"/><polygon points="1217.6,746.9 1216.1,749.0 1214.5,751.1 1212.9,753.1 1213.8,758.2 1215.4,756.0 1217.1,753.9 1218.7,751.8" fill="#4f7580"/><polygon points="1214.0,751.7 1212.4,753.8 1210.7,755.8 1209.1,757.9 1210.0,763.0 1211.6,760.9 1213.3,758.8 1214.9,756.7" fill="#4f7580"/><polygon points="1210.2,756.4 1208.6,758.5 1206.9,760.5 1205.3,762.5 1206.1,767.7 1207.8,765.7 1209.5,763.6 1211.1,761.5" fill="#4f7580"/><polygon points="1206.4,761.1 1204.8,763.1 1203.1,765.1 1201.4,767.1 1202.1,772.4 1203.8,770.4 1205.6,768.3 1207.3,766.3" fill="#4f7580"/><polygon points="1202.6,765.7 1200.9,767.7 1199.1,769.7 1197.4,771.6 1198.1,777.0 1199.8,775.0 1201.6,773.0 1203.3,771.0" fill="#4f7580"/><polygon points="1198.6,770.2 1196.9,772.2 1195.1,774.1 1193.4,776.1 1193.9,781.5 1195.7,779.6 1197.5,777.6 1199.3,775.6" fill="#4f7580"/><polygon points="1194.6,774.7 1192.8,776.6 1191.1,778.5 1189.3,780.4 1189.8,786.0 1191.6,784.1 1193.4,782.1 1195.2,780.2" fill="#4f7580"/><polygon points="1190.5,779.1 1188.7,781.0 1186.9,782.9 1185.1,784.7 1185.5,790.4 1187.4,788.5 1189.2,786.6 1191.0,784.7" fill="#4f7580"/><polygon points="1186.4,783.4 1184.5,785.3 1182.7,787.1 1180.9,789.0 1181.2,794.7 1183.1,792.9 1185.0,791.0 1186.8,789.1" fill="#4f7580"/><polygon points="1182.2,787.7 1180.3,789.5 1178.4,791.3 1176.6,793.1 1176.8,799.0 1178.7,797.1 1180.6,795.3 1182.5,793.4" fill="#4f7580"/><polygon points="1177.9,791.9 1176.0,793.7 1174.1,795.4 1172.2,797.2 1172.4,803.1 1174.3,801.3 1176.2,799.5 1178.1,797.7" fill="#4f7580"/><polygon points="1173.5,796.0 1171.6,797.7 1169.7,799.5 1167.8,801.2 1167.8,807.2 1169.8,805.5 1171.8,803.7 1173.7,801.9" fill="#4f7580"/><polygon points="1169.1,800.0 1167.2,801.7 1165.2,803.5 1163.3,805.1 1163.3,811.2 1165.3,809.5 1167.2,807.8 1169.2,806.0" fill="#4f7580"/><polygon points="1164.6,804.0 1162.7,805.7 1160.7,807.3 1158.7,809.0 1158.6,815.2 1160.6,813.5 1162.6,811.8 1164.6,810.0" fill="#4f7580"/><polygon points="1160.1,807.8 1158.1,809.5 1156.1,811.1 1154.1,812.8 1153.9,819.0 1156.0,817.4 1158.0,815.7 1160.0,814.0" fill="#4f7580"/><polygon points="1155.5,811.6 1153.5,813.3 1151.4,814.9 1149.4,816.5 1149.1,822.8 1151.2,821.2 1153.3,819.5 1155.3,817.9" fill="#4f7580"/><polygon points="1150.8,815.3 1148.8,816.9 1146.7,818.5 1144.7,820.1 1144.3,826.5 1146.4,824.9 1148.5,823.3 1150.6,821.7" fill="#4f7580"/><polygon points="1146.1,819.0 1144.0,820.5 1142.0,822.1 1139.9,823.6 1139.4,830.1 1141.5,828.5 1143.7,827.0 1145.8,825.4" fill="#4f7580"/><polygon points="1141.3,822.5 1139.2,824.0 1137.1,825.5 1135.0,827.0 1134.5,833.6 1136.6,832.1 1138.8,830.5 1140.9,829.0" fill="#4f7580"/><polygon points="1136.5,826.0 1134.4,827.4 1132.3,828.9 1130.1,830.3 1129.5,837.0 1131.6,835.5 1133.8,834.0 1136.0,832.5" fill="#4f7580"/><polygon points="1131.6,829.3 1129.5,830.8 1127.3,832.2 1125.2,833.6 1124.4,840.3 1126.6,838.9 1128.8,837.4 1131.0,836.0" fill="#4f7580"/><polygon points="1126.7,832.6 1124.5,834.0 1122.3,835.4 1120.1,836.8 1119.3,843.6 1121.5,842.2 1123.7,840.8 1125.9,839.3" fill="#4f7580"/><polygon points="1121.7,835.8 1119.5,837.2 1117.3,838.5 1115.1,839.9 1114.1,846.7 1116.4,845.4 1118.6,844.0 1120.8,842.6" fill="#4f7580"/><polygon points="1116.6,838.9 1114.4,840.2 1112.2,841.6 1109.9,842.8 1108.9,849.8 1111.2,848.5 1113.4,847.1 1115.7,845.8" fill="#4f7580"/><polygon points="1111.5,841.9 1109.3,843.2 1107.0,844.5 1104.8,845.7 1103.6,852.7 1105.9,851.5 1108.2,850.2 1110.5,848.9" fill="#4f7580"/><polygon points="1106.3,844.9 1104.1,846.1 1101.8,847.3 1099.6,848.5 1098.3,855.6 1100.6,854.4 1102.9,853.1 1105.2,851.8" fill="#4f7580"/><polygon points="1101.1,847.7 1098.9,848.9 1096.6,850.1 1094.3,851.2 1092.9,858.4 1095.2,857.2 1097.6,856.0 1099.9,854.7" fill="#4f7580"/><polygon points="1095.9,850.4 1093.2,851.8 1090.6,853.1 1089.1,860.2 1091.8,858.9 1094.5,857.5" fill="#4f7580"/><polygon points="1191.4,494.3 1191.4,496.4 1191.4,498.5 1191.3,500.5 1191.3,502.6 1191.2,504.6 1191.1,506.7 1191.0,508.7 1190.9,510.8 1190.8,512.8 1190.7,514.9 1190.5,516.9 1190.3,518.9 1190.1,521.0 1189.9,523.0 1189.7,525.1 1189.5,527.1 1189.3,529.1 1189.0,531.2 1188.7,533.2 1188.4,535.2 1188.1,537.3 1187.8,539.3 1187.5,541.3 1187.1,543.3 1186.8,545.3 1186.4,547.3 1186.0,549.3 1185.6,551.3 1185.2,553.3 1184.7,555.3 1184.3,557.3 1183.8,559.3 1183.3,561.3 1182.8,563.3 1182.3,565.3 1181.8,567.2 1181.2,569.2 1180.7,571.2 1180.1,573.1 1179.5,575.1 1178.9,577.0 1178.3,578.9 1177.7,580.9 1177.1,582.8 1176.4,584.7 1175.8,586.7 1175.1,588.6 1174.4,590.5 1173.7,592.4 1172.9,594.3 1172.2,596.1 1171.5,598.0 1170.7,599.9 1169.9,601.8 1169.1,603.6 1168.3,605.5 1167.5,607.3 1166.7,609.2 1165.8,611.0 1164.9,612.8 1164.1,614.6 1163.2,616.4 1162.3,618.2 1161.4,620.0 1160.4,621.8 1159.5,623.6 1158.5,625.3 1157.6,627.1 1156.6,628.9 1155.6,630.6 1154.6,632.3 1153.6,634.0 1152.5,635.8 1151.5,637.5 1150.4,639.2 1149.4,640.8 1148.3,642.5 1147.2,644.2 1146.1,645.8 1144.9,647.5 1143.8,649.1 1142.7,650.7 1141.5,652.3 1140.3,653.9 1139.1,655.5 1138.0,657.1 1136.7,658.7 1135.5,660.2 1134.3,661.8 1133.0,663.3 1131.8,664.9 1130.5,666.4 1129.2,667.9 1128.0,669.4 1126.7,670.9 1125.3,672.3 1124.0,673.8 1122.7,675.2 1121.3,676.6 1120.0,678.1 1118.6,679.5 1117.2,680.9 1115.8,682.3 1114.4,683.6 1113.0,685.0 1111.6,686.3 1110.2,687.6 1108.7,689.0 1107.3,690.3 1105.8,691.6 1104.3,692.8 1102.9,694.1 1101.4,695.3 1099.9,696.6 1098.4,697.8 1096.8,699.0 1095.3,700.2 1093.8,701.4 1092.2,702.5 1090.6,703.7 1089.1,704.8 1087.5,706.0 1085.9,707.1 1084.3,708.2 1082.7,709.2 1081.1,710.3 1079.5,711.3 1077.8,712.4 1076.2,713.4 1074.6,714.4 1072.9,715.4 1071.2,716.3 1069.6,717.3 1067.9,718.2 1066.2,719.2 1064.5,720.1 1062.8,721.0 1061.1,721.8 1059.4,722.7 1057.7,723.5 1055.9,724.4 1054.2,725.2 1052.4,726.0 1046.1,716.9 1047.8,716.2 1049.4,715.4 1051.1,714.6 1052.8,713.8 1054.4,713.0 1056.1,712.1 1057.7,711.3 1059.3,710.4 1060.9,709.5 1062.6,708.6 1064.2,707.7 1065.8,706.8 1067.4,705.9 1069.0,704.9 1070.5,703.9 1072.1,702.9 1073.7,701.9 1075.2,700.9 1076.8,699.9 1078.3,698.8 1079.8,697.8 1081.4,696.7 1082.9,695.6 1084.4,694.5 1085.9,693.4 1087.4,692.3 1088.8,691.1 1090.3,690.0 1091.8,688.8 1093.2,687.6 1094.6,686.4 1096.1,685.2 1097.5,684.0 1098.9,682.7 1100.3,681.5 1101.7,680.2 1103.1,678.9 1104.4,677.7 1105.8,676.4 1107.1,675.0 1108.5,673.7 1109.8,672.4 1111.1,671.0 1112.4,669.7 1113.7,668.3 1115.0,666.9 1116.3,665.5 1117.6,664.1 1118.8,662.7 1120.1,661.2 1121.3,659.8 1122.5,658.3 1123.7,656.9 1124.9,655.4 1126.1,653.9 1127.3,652.4 1128.5,650.9 1129.6,649.4 1130.7,647.9 1131.9,646.3 1133.0,644.8 1134.1,643.2 1135.2,641.6 1136.3,640.1 1137.3,638.5 1138.4,636.9 1139.5,635.3 1140.5,633.6 1141.5,632.0 1142.5,630.4 1143.5,628.7 1144.5,627.1 1145.5,625.4 1146.4,623.7 1147.4,622.1 1148.3,620.4 1149.2,618.7 1150.1,617.0 1151.0,615.3 1151.9,613.5 1152.8,611.8 1153.6,610.1 1154.5,608.3 1155.3,606.6 1156.1,604.8 1156.9,603.0 1157.7,601.3 1158.5,599.5 1159.3,597.7 1160.0,595.9 1160.8,594.1 1161.5,592.3 1162.2,590.5 1162.9,588.7 1163.6,586.8 1164.3,585.0 1164.9,583.2 1165.6,581.3 1166.2,579.5 1166.8,577.6 1167.4,575.8 1168.0,573.9 1168.6,572.0 1169.1,570.1 1169.7,568.3 1170.2,566.4 1170.7,564.5 1171.2,562.6 1171.7,560.7 1172.2,558.8 1172.7,556.9 1173.1,555.0 1173.6,553.0 1174.0,551.1 1174.4,549.2 1174.8,547.3 1175.2,545.3 1175.5,543.4 1175.9,541.5 1176.2,539.5 1176.5,537.6 1176.9,535.6 1177.1,533.7 1177.4,531.7 1177.7,529.8 1177.9,527.8 1178.2,525.9 1178.4,523.9 1178.6,522.0 1178.8,520.0 1179.0,518.0 1179.1,516.1 1179.3,514.1 1179.4,512.1 1179.6,510.1 1179.7,508.2 1179.8,506.2 1179.8,504.2 1179.9,502.3 1180.0,500.3 1180.0,498.3 1180.0,496.3 1180.0,494.4" fill="#ecfdff"/><polygon points="1191.4,494.3 1191.4,496.1 1191.4,497.9 1191.4,499.7 1180.0,499.5 1180.0,497.8 1180.0,496.1 1180.0,494.4" fill="#f2ffff"/><polygon points="1191.4,498.4 1191.3,500.2 1191.3,502.0 1191.2,503.7 1179.9,503.4 1179.9,501.7 1180.0,500.0 1180.0,498.3" fill="#f2ffff"/><polygon points="1191.3,502.5 1191.2,504.3 1191.2,506.0 1191.1,507.8 1179.7,507.3 1179.8,505.6 1179.9,503.9 1179.9,502.2" fill="#f2ffff"/><polygon points="1191.1,506.6 1191.1,508.3 1191.0,510.1 1190.9,511.9 1179.5,511.2 1179.6,509.5 1179.7,507.8 1179.8,506.1" fill="#f2ffff"/><polygon points="1190.9,510.6 1190.8,512.4 1190.7,514.2 1190.6,515.9 1179.2,515.1 1179.3,513.4 1179.5,511.7 1179.6,510.0" fill="#f1ffff"/><polygon points="1190.7,514.7 1190.5,516.5 1190.4,518.2 1190.2,520.0 1178.9,519.0 1179.0,517.3 1179.2,515.6 1179.3,514.0" fill="#f1ffff"/><polygon points="1190.3,518.8 1190.2,520.5 1190.0,522.3 1189.8,524.1 1178.5,522.9 1178.7,521.2 1178.8,519.6 1179.0,517.9" fill="#f1ffff"/><polygon points="1190.0,522.8 1189.8,524.6 1189.6,526.3 1189.4,528.1 1178.1,526.8 1178.3,525.1 1178.5,523.5 1178.6,521.8" fill="#f1ffff"/><polygon points="1189.5,526.9 1189.3,528.6 1189.1,530.4 1188.9,532.1 1177.6,530.7 1177.8,529.0 1178.0,527.3 1178.2,525.7" fill="#f1ffff"/><polygon points="1189.0,530.9 1188.8,532.7 1188.5,534.4 1188.3,536.2 1177.0,534.6 1177.3,532.9 1177.5,531.2 1177.7,529.5" fill="#f1ffff"/><polygon points="1188.5,534.9 1188.2,536.7 1187.9,538.4 1187.7,540.2 1176.4,538.5 1176.7,536.8 1176.9,535.1 1177.2,533.4" fill="#f1ffff"/><polygon points="1187.9,539.0 1187.6,540.7 1187.3,542.5 1187.0,544.2 1175.7,542.3 1176.0,540.6 1176.3,539.0 1176.6,537.3" fill="#f1ffff"/><polygon points="1187.2,543.0 1186.9,544.7 1186.5,546.5 1186.2,548.2 1175.0,546.2 1175.3,544.5 1175.6,542.8 1175.9,541.1" fill="#f1ffff"/><polygon points="1186.4,547.0 1186.1,548.7 1185.8,550.4 1185.4,552.2 1174.2,550.0 1174.6,548.3 1174.9,546.7 1175.2,545.0" fill="#f0ffff"/><polygon points="1185.7,551.0 1185.3,552.7 1184.9,554.4 1184.5,556.1 1173.4,553.8 1173.8,552.1 1174.1,550.5 1174.5,548.8" fill="#f0ffff"/><polygon points="1184.8,554.9 1184.4,556.6 1184.0,558.4 1183.6,560.1 1172.5,557.6 1172.9,556.0 1173.3,554.3 1173.7,552.6" fill="#f0ffff"/><polygon points="1183.9,558.9 1183.5,560.6 1183.1,562.3 1182.6,564.0 1171.6,561.4 1172.0,559.7 1172.4,558.1 1172.8,556.4" fill="#f0ffff"/><polygon points="1182.9,562.8 1182.5,564.5 1182.1,566.2 1181.6,567.9 1170.6,565.1 1171.0,563.5 1171.4,561.9 1171.8,560.2" fill="#f0ffff"/><polygon points="1181.9,566.7 1181.5,568.4 1181.0,570.1 1180.5,571.8 1169.5,568.9 1170.0,567.3 1170.4,565.6 1170.9,564.0" fill="#f0feff"/><polygon points="1180.8,570.6 1180.4,572.3 1179.9,574.0 1179.4,575.7 1168.4,572.6 1168.9,571.0 1169.4,569.4 1169.8,567.8" fill="#f0feff"/><polygon points="1179.7,574.5 1179.2,576.2 1178.7,577.9 1178.1,579.6 1167.2,576.3 1167.7,574.7 1168.2,573.1 1168.7,571.5" fill="#f0feff"/><polygon points="1178.5,578.4 1178.0,580.1 1177.4,581.7 1176.9,583.4 1166.0,580.0 1166.5,578.4 1167.1,576.8 1167.6,575.2" fill="#f0feff"/><polygon points="1177.3,582.2 1176.7,583.9 1176.1,585.5 1175.6,587.2 1164.7,583.7 1165.3,582.1 1165.8,580.5 1166.4,578.9" fill="#effeff"/><polygon points="1176.0,586.0 1175.4,587.7 1174.8,589.3 1174.2,591.0 1163.4,587.3 1164.0,585.7 1164.6,584.2 1165.1,582.6" fill="#effeff"/><polygon points="1174.6,589.8 1174.0,591.5 1173.4,593.1 1172.8,594.7 1162.0,590.9 1162.6,589.4 1163.2,587.8 1163.8,586.2" fill="#effeff"/><polygon points="1173.2,593.6 1172.6,595.2 1171.9,596.9 1171.3,598.5 1160.6,594.5 1161.2,593.0 1161.8,591.4 1162.4,589.9" fill="#effeff"/><polygon points="1171.7,597.4 1171.1,599.0 1170.4,600.6 1169.7,602.2 1159.1,598.1 1159.8,596.6 1160.4,595.0 1161.0,593.5" fill="#effeff"/><polygon points="1170.2,601.1 1169.5,602.7 1168.8,604.3 1168.1,605.9 1157.6,601.6 1158.2,600.1 1158.9,598.6 1159.6,597.0" fill="#effeff"/><polygon points="1168.6,604.8 1167.9,606.4 1167.2,607.9 1166.5,609.5 1156.0,605.2 1156.7,603.6 1157.4,602.1 1158.0,600.6" fill="#effeff"/><polygon points="1167.0,608.4 1166.3,610.0 1165.5,611.6 1164.8,613.2 1154.3,608.6 1155.1,607.1 1155.8,605.6 1156.5,604.1" fill="#effeff"/><polygon points="1165.3,612.1 1164.6,613.6 1163.8,615.2 1163.0,616.7 1152.6,612.1 1153.4,610.6 1154.1,609.1 1154.8,607.6" fill="#effeff"/><polygon points="1163.6,615.7 1162.8,617.2 1162.0,618.8 1161.2,620.3 1150.9,615.5 1151.7,614.0 1152.4,612.6 1153.2,611.1" fill="#eefeff"/><polygon points="1161.8,619.2 1161.0,620.8 1160.2,622.3 1159.4,623.8 1149.1,618.9 1149.9,617.4 1150.7,616.0 1151.4,614.5" fill="#eefeff"/><polygon points="1159.9,622.8 1159.1,624.3 1158.3,625.8 1157.4,627.3 1147.3,622.3 1148.1,620.8 1148.9,619.4 1149.6,617.9" fill="#eefeff"/><polygon points="1158.0,626.3 1157.2,627.8 1156.3,629.3 1155.5,630.8 1145.4,625.6 1146.2,624.2 1147.0,622.7 1147.8,621.3" fill="#eefeff"/><polygon points="1156.1,629.7 1155.2,631.2 1154.3,632.7 1153.5,634.2 1143.4,628.9 1144.3,627.5 1145.1,626.0 1145.9,624.6" fill="#eefeff"/><polygon points="1154.1,633.2 1153.2,634.7 1152.3,636.1 1151.4,637.6 1141.4,632.2 1142.3,630.7 1143.2,629.3 1144.0,627.9" fill="#ecfdff"/><polygon points="1152.0,636.6 1151.1,638.0 1150.2,639.5 1149.3,641.0 1139.4,635.4 1140.3,634.0 1141.2,632.6 1142.0,631.2" fill="#ebfdfe"/><polygon points="1149.9,639.9 1149.0,641.4 1148.1,642.8 1147.1,644.3 1137.3,638.6 1138.2,637.2 1139.1,635.8 1140.0,634.4" fill="#e9fcfe"/><polygon points="1147.8,643.3 1146.8,644.7 1145.9,646.1 1144.9,647.5 1135.1,641.7 1136.1,640.3 1137.0,639.0 1137.9,637.6" fill="#e8fcfe"/><polygon points="1145.6,646.6 1144.6,648.0 1143.6,649.4 1142.6,650.8 1133.0,644.8 1133.9,643.5 1134.9,642.1 1135.8,640.8" fill="#e6fbfe"/><polygon points="1143.3,649.8 1142.3,651.2 1141.3,652.6 1140.3,654.0 1130.7,647.9 1131.7,646.6 1132.7,645.2 1133.6,643.9" fill="#e5fbfd"/><polygon points="1141.0,653.0 1140.0,654.4 1139.0,655.8 1137.9,657.1 1128.4,650.9 1129.4,649.6 1130.4,648.3 1131.4,647.0" fill="#e3fafd"/><polygon points="1138.7,656.2 1137.6,657.5 1136.6,658.9 1135.5,660.2 1126.1,653.9 1127.1,652.6 1128.1,651.3 1129.1,650.0" fill="#e2fafd"/><polygon points="1136.3,659.3 1135.2,660.6 1134.2,662.0 1133.1,663.3 1123.8,656.8 1124.8,655.6 1125.8,654.3 1126.8,653.0" fill="#e0f9fc"/><polygon points="1133.8,662.4 1132.8,663.7 1131.7,665.0 1130.6,666.3 1121.3,659.7 1122.4,658.5 1123.4,657.2 1124.5,656.0" fill="#dff8fc"/><polygon points="1131.3,665.4 1130.2,666.7 1129.1,668.0 1128.0,669.3 1118.9,662.6 1120.0,661.4 1121.0,660.1 1122.1,658.9" fill="#ddf8fc"/><polygon points="1128.8,668.4 1127.7,669.7 1126.6,671.0 1125.4,672.2 1116.4,665.4 1117.5,664.2 1118.6,663.0 1119.6,661.7" fill="#dcf7fc"/><polygon points="1126.2,671.3 1125.1,672.6 1123.9,673.9 1122.8,675.1 1113.8,668.2 1115.0,667.0 1116.1,665.8 1117.1,664.6" fill="#daf7fb"/><polygon points="1123.6,674.2 1122.4,675.5 1121.3,676.7 1120.1,677.9 1111.3,670.9 1112.4,669.7 1113.5,668.5 1114.6,667.3" fill="#d9f6fb"/><polygon points="1120.9,677.1 1119.8,678.3 1118.6,679.5 1117.4,680.7 1108.6,673.6 1109.8,672.4 1110.9,671.3 1112.0,670.1" fill="#d7f6fb"/><polygon points="1118.2,679.9 1117.0,681.1 1115.8,682.3 1114.6,683.5 1106.0,676.2 1107.1,675.1 1108.3,673.9 1109.4,672.8" fill="#d6f5fb"/><polygon points="1115.5,682.6 1114.2,683.8 1113.0,685.0 1111.8,686.1 1103.3,678.8 1104.4,677.7 1105.6,676.5 1106.8,675.4" fill="#d4f5fa"/><polygon points="1112.7,685.3 1111.4,686.5 1110.2,687.6 1109.0,688.8 1100.5,681.3 1101.7,680.2 1102.9,679.1 1104.1,678.0" fill="#d3f4fa"/><polygon points="1109.8,688.0 1108.6,689.1 1107.3,690.2 1106.1,691.4 1097.7,683.8 1098.9,682.7 1100.1,681.6 1101.3,680.5" fill="#d1f3fa"/><polygon points="1106.9,690.6 1105.7,691.7 1104.4,692.8 1103.1,693.9 1094.9,686.2 1096.1,685.1 1097.3,684.1 1098.6,683.0" fill="#d0f3f9"/><polygon points="1104.0,693.1 1102.7,694.2 1101.5,695.3 1100.2,696.3 1092.0,688.6 1093.3,687.5 1094.5,686.5 1095.7,685.5" fill="#cef2f9"/><polygon points="1101.1,695.6 1099.8,696.7 1098.5,697.7 1097.1,698.8 1089.1,690.9 1090.4,689.9 1091.6,688.9 1092.9,687.9" fill="#cdf2f9"/><polygon points="1098.1,698.0 1096.7,699.1 1095.4,700.1 1094.1,701.1 1086.2,693.1 1087.5,692.2 1088.7,691.2 1090.0,690.2" fill="#cbf1f9"/><polygon points="1095.0,700.4 1093.7,701.4 1092.4,702.4 1091.0,703.4 1083.2,695.4 1084.5,694.4 1085.8,693.4 1087.1,692.5" fill="#caf1f8"/><polygon points="1092.0,702.7 1090.6,703.7 1089.2,704.7 1087.9,705.7 1080.2,697.5 1081.5,696.6 1082.8,695.6 1084.1,694.7" fill="#c8f0f8"/><polygon points="1088.8,705.0 1087.5,706.0 1086.1,706.9 1084.7,707.9 1077.2,699.6 1078.5,698.7 1079.8,697.8 1081.1,696.9" fill="#c7eff8"/><polygon points="1085.7,707.2 1084.3,708.2 1082.9,709.1 1081.5,710.0 1074.1,701.7 1075.4,700.8 1076.8,699.9 1078.1,699.0" fill="#c6eff7"/><polygon points="1082.5,709.4 1081.1,710.3 1079.7,711.2 1078.3,712.1 1071.0,703.6 1072.3,702.8 1073.7,701.9 1075.0,701.0" fill="#c5eef6"/><polygon points="1079.3,711.5 1077.9,712.3 1076.5,713.2 1075.1,714.1 1067.8,705.6 1069.2,704.7 1070.6,703.9 1071.9,703.0" fill="#c4edf6"/><polygon points="1076.0,713.5 1074.6,714.3 1073.2,715.2 1071.8,716.0 1064.7,707.4 1066.1,706.6 1067.4,705.8 1068.8,705.0" fill="#c3edf5"/><polygon points="1072.8,715.5 1071.3,716.3 1069.9,717.1 1068.4,717.9 1061.5,709.2 1062.9,708.5 1064.3,707.7 1065.6,706.9" fill="#c2ecf5"/><polygon points="1069.5,717.4 1068.0,718.2 1066.5,719.0 1065.1,719.8 1058.3,711.0 1059.7,710.2 1061.1,709.5 1062.5,708.7" fill="#c1ebf4"/><polygon points="1066.1,719.2 1064.6,720.0 1063.2,720.8 1061.7,721.5 1055.0,712.7 1056.4,712.0 1057.8,711.2 1059.2,710.5" fill="#c0eaf4"/><polygon points="1062.7,721.0 1061.3,721.8 1059.8,722.5 1058.3,723.2 1051.7,714.3 1053.1,713.6 1054.6,712.9 1056.0,712.2" fill="#beeaf3"/><polygon points="1059.3,722.7 1057.8,723.4 1056.4,724.2 1054.9,724.9 1048.4,715.9 1049.8,715.2 1051.3,714.5 1052.7,713.8" fill="#bde9f3"/><polygon points="1055.9,724.4 1054.2,725.2 1052.4,726.0 1046.1,716.9 1047.7,716.2 1049.4,715.4" fill="#bce8f2"/><polygon points="1090.6,853.1 1089.8,853.4 1088.3,860.6 1089.1,860.2" fill="#2e3e4a" stroke="#2e3e4a" stroke-width="0.6"/><polygon points="1052.4,726.0 1051.9,726.2 1045.6,717.2 1046.1,716.9" fill="#50667a" stroke="#50667a" stroke-width="0.6"/><polygon points="1089.8,853.4 1087.5,854.5 1085.1,855.6 1082.8,856.7 1080.4,857.8 1078.1,858.8 1076.3,866.1 1078.8,865.1 1081.2,864.0 1083.6,862.9 1086.0,861.8 1088.3,860.6" fill="#6e2a06" stroke="#6e2a06" stroke-width="0.6"/><polygon points="1051.9,726.2 1050.4,726.9 1048.9,727.5 1047.4,728.2 1045.8,728.8 1044.3,729.4 1038.2,720.2 1039.7,719.6 1041.2,719.0 1042.7,718.4 1044.1,717.8 1045.6,717.2" fill="#c06020" stroke="#c06020" stroke-width="0.6"/><polygon points="1078.1,858.8 1075.3,860.0 1072.6,861.1 1069.8,862.3 1067.0,863.4 1064.2,864.4 1061.5,865.5 1058.7,866.5 1055.8,867.5 1053.0,868.5 1050.2,869.4 1047.3,870.3 1044.5,871.2 1041.6,872.1 1038.8,872.9 1035.9,873.7 1033.0,874.5 1030.1,875.3 1027.2,876.0 1024.3,876.7 1021.4,877.4 1018.5,878.0 1015.5,878.6 1012.6,879.2 1009.7,879.8 1006.7,880.3 1003.8,880.8 1000.8,881.3 997.5,889.2 1000.5,888.7 1003.5,888.2 1006.5,887.6 1009.5,887.1 1012.5,886.5 1015.5,885.8 1018.5,885.2 1021.5,884.5 1024.4,883.8 1027.4,883.0 1030.4,882.2 1033.3,881.4 1036.2,880.6 1039.2,879.7 1042.1,878.9 1045.0,877.9 1047.9,877.0 1050.8,876.0 1053.7,875.0 1056.5,874.0 1059.4,873.0 1062.2,871.9 1065.1,870.8 1067.9,869.7 1070.7,868.5 1073.5,867.3 1076.3,866.1" fill="#4f6e1e" stroke="#4f6e1e" stroke-width="0.6"/><polygon points="1044.3,729.4 1042.5,730.1 1040.7,730.8 1038.9,731.5 1037.1,732.1 1035.3,732.8 1033.5,733.4 1031.7,734.0 1029.8,734.5 1028.0,735.1 1026.2,735.7 1024.3,736.2 1022.5,736.7 1020.7,737.2 1018.8,737.7 1016.9,738.1 1015.1,738.6 1013.2,739.0 1011.3,739.4 1009.5,739.8 1007.6,740.1 1005.7,740.5 1003.8,740.8 1001.9,741.1 1000.1,741.4 998.2,741.7 996.3,741.9 994.4,742.2 990.2,732.4 992.0,732.2 993.9,731.9 995.7,731.7 997.5,731.4 999.3,731.1 1001.1,730.8 1002.9,730.4 1004.7,730.1 1006.5,729.7 1008.3,729.3 1010.1,728.9 1011.9,728.5 1013.7,728.1 1015.5,727.6 1017.3,727.2 1019.0,726.7 1020.8,726.2 1022.6,725.7 1024.3,725.1 1026.1,724.6 1027.8,724.0 1029.6,723.4 1031.3,722.8 1033.1,722.2 1034.8,721.6 1036.5,720.9 1038.2,720.2" fill="#89ba3c"/><polygon points="1044.3,729.4 1042.8,730.0 1041.3,730.6 1039.8,731.2 1033.9,721.9 1035.3,721.4 1036.8,720.8 1038.2,720.2" fill="#8bbd3d"/><polygon points="1040.8,730.8 1039.3,731.3 1037.8,731.9 1036.3,732.4 1030.5,723.1 1032.0,722.6 1033.5,722.1 1034.9,721.5" fill="#8bbc3d"/><polygon points="1037.4,732.0 1035.8,732.6 1034.3,733.1 1032.8,733.6 1027.2,724.2 1028.6,723.7 1030.1,723.2 1031.6,722.7" fill="#8abc3d"/><polygon points="1033.9,733.2 1032.3,733.7 1030.8,734.2 1029.3,734.7 1023.8,725.3 1025.3,724.8 1026.7,724.4 1028.2,723.9" fill="#8abc3d"/><polygon points="1030.4,734.4 1028.8,734.9 1027.3,735.3 1025.7,735.8 1020.4,726.3 1021.9,725.9 1023.4,725.4 1024.8,725.0" fill="#8abb3d"/><polygon points="1026.8,735.5 1025.3,735.9 1023.7,736.4 1022.2,736.8 1017.0,727.3 1018.5,726.9 1020.0,726.4 1021.4,726.0" fill="#8abb3d"/><polygon points="1023.3,736.5 1021.7,736.9 1020.2,737.3 1018.6,737.7 1013.5,728.1 1015.0,727.8 1016.5,727.4 1018.0,727.0" fill="#8abb3d"/><polygon points="1019.7,737.4 1018.2,737.8 1016.6,738.2 1015.0,738.6 1010.1,729.0 1011.6,728.6 1013.1,728.2 1014.6,727.9" fill="#89ba3c"/><polygon points="1016.1,738.3 1014.6,738.7 1013.0,739.0 1011.4,739.4 1006.6,729.7 1008.1,729.4 1009.6,729.1 1011.2,728.7" fill="#89ba3c"/><polygon points="1012.6,739.1 1011.0,739.5 1009.4,739.8 1007.8,740.1 1003.1,730.4 1004.7,730.1 1006.2,729.8 1007.7,729.5" fill="#89ba3c"/><polygon points="1008.9,739.9 1007.4,740.2 1005.8,740.5 1004.2,740.7 999.6,731.0 1001.2,730.8 1002.7,730.5 1004.2,730.2" fill="#89b93c"/><polygon points="1005.3,740.6 1003.7,740.8 1002.1,741.1 1000.5,741.3 996.1,731.6 997.7,731.4 999.2,731.1 1000.7,730.8" fill="#89b93c"/><polygon points="1001.7,741.2 1000.1,741.4 998.5,741.6 996.9,741.9 992.6,732.1 994.2,731.9 995.7,731.7 997.2,731.4" fill="#88b93c"/><polygon points="998.0,741.7 996.2,742.0 994.4,742.2 990.2,732.4 992.0,732.2 993.7,731.9" fill="#88b83c"/><polygon points="1000.8,881.3 997.8,881.7 994.9,882.1 991.9,882.5 988.9,882.9 985.9,883.2 982.9,883.5 979.9,883.8 976.9,884.0 973.9,884.2 970.9,884.4 967.9,884.6 964.9,884.7 961.9,884.8 958.9,884.9 955.8,884.9 952.8,884.9 949.8,884.9 946.7,884.8 943.7,884.8 940.7,884.6 937.6,884.5 934.6,884.3 931.6,884.1 928.5,883.9 925.5,883.6 922.5,883.3 919.4,883.0 916.4,882.6 913.3,882.3 910.3,881.8 907.3,881.4 904.2,880.9 901.2,880.4 898.2,879.9 895.1,879.3 892.1,878.7 889.1,878.1 886.1,877.4 883.1,876.7 880.0,876.0 877.0,875.2 874.0,874.4 871.0,873.6 868.0,872.8 865.0,871.9 862.0,871.0 859.1,870.1 856.1,869.1 853.1,868.1 850.2,867.1 847.2,866.0 844.2,864.9 841.3,863.8 838.4,862.6 835.4,861.4 832.5,860.2 829.6,859.0 826.7,857.7 823.8,856.4 820.9,855.1 818.0,853.7 815.1,852.3 812.2,850.9 809.4,849.4 806.5,847.9 803.7,846.4 800.9,844.9 798.1,843.3 795.3,841.7 792.5,840.0 789.7,838.4 786.9,836.7 784.2,834.9 781.4,833.2 778.7,831.4 776.0,829.6 773.3,827.7 770.6,825.9 767.9,824.0 765.2,822.0 762.6,820.1 759.9,818.1 757.3,816.1 754.7,814.0 752.1,812.0 749.5,809.9 747.0,807.7 744.4,805.6 741.9,803.4 739.4,801.2 736.9,798.9 734.4,796.7 731.9,794.4 729.5,792.1 727.1,789.7 724.7,787.4 722.3,785.0 719.9,782.5 717.5,780.1 715.2,777.6 712.9,775.1 710.6,772.6 708.3,770.0 706.1,767.4 703.8,764.8 701.6,762.2 699.4,759.6 697.2,756.9 695.1,754.2 692.9,751.5 690.8,748.7 688.7,745.9 686.7,743.2 684.6,740.3 682.6,737.5 680.6,734.6 678.6,731.8 676.7,728.8 674.7,725.9 672.8,723.0 670.9,720.0 669.1,717.0 667.2,714.0 665.4,711.0 663.6,707.9 661.9,704.8 660.1,701.7 658.4,698.6 656.7,695.5 655.1,692.3 653.4,689.2 651.8,686.0 650.2,682.8 648.7,679.6 647.1,676.3 645.6,673.1 644.2,669.8 642.7,666.5 641.3,663.2 639.9,659.9 638.5,656.5 637.2,653.2 635.8,649.8 634.6,646.4 633.3,643.0 632.1,639.6 630.9,636.2 629.7,632.7 628.5,629.3 627.4,625.8 626.3,622.3 625.3,618.8 624.2,615.3 623.2,611.8 622.3,608.3 621.3,604.8 620.4,601.2 619.5,597.7 618.7,594.1 617.8,590.5 617.0,586.9 616.3,583.3 615.5,579.7 614.8,576.1 614.2,572.5 613.5,568.9 612.9,565.2 612.3,561.6 611.8,557.9 611.2,554.3 610.7,550.6 610.3,546.9 609.9,543.3 609.5,539.6 609.1,535.9 608.8,532.2 608.4,528.5 608.2,524.9 607.9,521.2 607.7,517.5 607.5,513.8 607.4,510.1 607.3,506.4 607.2,502.6 607.1,498.9 607.1,495.2 607.1,491.5 607.1,487.8 607.2,484.1 607.3,480.4 607.4,476.7 607.6,473.0 607.8,469.3 608.0,465.6 608.2,461.9 608.5,458.2 608.8,454.6 609.2,450.9 609.6,447.2 610.0,443.5 610.4,439.8 610.9,436.2 611.4,432.5 611.9,428.9 612.5,425.2 613.1,421.6 613.7,418.0 614.3,414.3 615.0,410.7 615.7,407.1 616.5,403.5 617.2,399.9 618.0,396.3 618.9,392.8 619.7,389.2 620.6,385.6 621.6,382.1 622.5,378.6 623.5,375.0 624.5,371.5 625.5,368.0 626.6,364.5 627.7,361.1 628.8,357.6 630.0,354.2 631.2,350.7 632.4,347.3 633.6,343.9 634.9,340.5 636.2,337.1 637.5,333.8 638.8,330.4 640.2,327.1 641.6,323.8 643.1,320.5 644.5,317.2 646.0,313.9 647.5,310.7 649.1,307.4 650.6,304.2 652.2,301.0 653.8,297.9 655.5,294.7 657.1,291.6 658.8,288.4 660.6,285.3 662.3,282.2 664.1,279.2 665.9,276.1 667.7,273.1 669.5,270.1 671.4,267.1 673.3,264.2 675.2,261.2 677.1,258.3 679.1,255.4 681.1,252.5 683.1,249.7 685.1,246.9 687.2,244.1 689.2,241.3 691.3,238.5 693.5,235.8 695.6,233.1 697.7,230.4 699.9,227.7 702.1,225.1 704.4,222.5 706.6,219.9 708.9,217.3 711.1,214.8 713.4,212.3 715.8,209.8 718.1,207.3 720.5,204.9 722.8,202.5 725.2,200.1 727.6,197.7 730.1,195.4 732.5,193.1 735.0,190.8 737.5,188.5 740.0,186.3 742.5,184.1 745.0,181.9 747.6,179.8 738.5,173.0 735.9,175.2 733.3,177.4 730.7,179.6 728.2,181.9 725.6,184.2 723.1,186.5 720.6,188.9 718.1,191.3 715.7,193.7 713.2,196.1 710.8,198.6 708.3,201.0 706.0,203.6 703.6,206.1 701.2,208.7 698.9,211.3 696.6,213.9 694.3,216.5 692.0,219.2 689.7,221.9 687.5,224.6 685.3,227.3 683.1,230.1 680.9,232.9 678.8,235.7 676.7,238.6 674.6,241.4 672.5,244.3 670.4,247.2 668.4,250.2 666.4,253.1 664.4,256.1 662.4,259.1 660.5,262.1 658.6,265.2 656.7,268.2 654.8,271.3 653.0,274.4 651.2,277.6 649.4,280.7 647.6,283.9 645.9,287.1 644.2,290.3 642.5,293.5 640.9,296.8 639.2,300.0 637.6,303.3 636.0,306.6 634.5,309.9 633.0,313.3 631.5,316.6 630.0,320.0 628.6,323.4 627.1,326.8 625.8,330.2 624.4,333.6 623.1,337.1 621.8,340.6 620.5,344.0 619.3,347.5 618.1,351.1 616.9,354.6 615.7,358.1 614.6,361.7 613.5,365.2 612.4,368.8 611.4,372.4 610.4,376.0 609.4,379.6 608.5,383.2 607.6,386.9 606.7,390.5 605.8,394.1 605.0,397.8 604.2,401.5 603.4,405.2 602.7,408.9 602.0,412.6 601.3,416.3 600.7,420.0 600.1,423.7 599.5,427.4 599.0,431.2 598.5,434.9 598.0,438.6 597.5,442.4 597.1,446.1 596.7,449.9 596.4,453.7 596.1,457.4 595.8,461.2 595.5,465.0 595.3,468.8 595.1,472.6 594.9,476.3 594.8,480.1 594.7,483.9 594.6,487.7 594.6,491.5 594.6,495.3 594.6,499.1 594.7,502.9 594.8,506.6 594.9,510.4 595.0,514.2 595.2,518.0 595.4,521.8 595.7,525.6 596.0,529.3 596.3,533.1 596.6,536.9 597.0,540.6 597.4,544.4 597.9,548.1 598.3,551.9 598.8,555.6 599.4,559.4 599.9,563.1 600.5,566.8 601.2,570.5 601.8,574.3 602.5,578.0 603.3,581.7 604.0,585.3 604.8,589.0 605.6,592.7 606.5,596.3 607.3,600.0 608.2,603.6 609.2,607.3 610.1,610.9 611.1,614.5 612.2,618.1 613.2,621.6 614.3,625.2 615.4,628.8 616.6,632.3 617.7,635.8 619.0,639.4 620.2,642.9 621.5,646.4 622.7,649.8 624.1,653.3 625.4,656.7 626.8,660.2 628.2,663.6 629.6,667.0 631.1,670.4 632.6,673.7 634.1,677.1 635.6,680.4 637.2,683.7 638.8,687.0 640.4,690.3 642.1,693.5 643.8,696.8 645.5,700.0 647.2,703.2 649.0,706.4 650.7,709.5 652.5,712.7 654.4,715.8 656.2,718.9 658.1,722.0 660.0,725.0 662.0,728.0 663.9,731.1 665.9,734.0 667.9,737.0 669.9,740.0 672.0,742.9 674.0,745.8 676.1,748.7 678.3,751.5 680.4,754.3 682.6,757.1 684.8,759.9 687.0,762.7 689.2,765.4 691.4,768.1 693.7,770.8 696.0,773.5 698.3,776.1 700.7,778.7 703.0,781.3 705.4,783.8 707.8,786.4 710.2,788.9 712.6,791.3 715.1,793.8 717.5,796.2 720.0,798.6 722.5,801.0 725.0,803.3 727.6,805.6 730.1,807.9 732.7,810.1 735.3,812.4 737.9,814.6 740.5,816.7 743.2,818.9 745.8,821.0 748.5,823.1 751.2,825.1 753.9,827.1 756.6,829.1 759.3,831.1 762.1,833.1 764.8,835.0 767.6,836.8 770.4,838.7 773.2,840.5 776.0,842.3 778.8,844.1 781.6,845.8 784.5,847.5 787.4,849.1 790.2,850.8 793.1,852.4 796.0,854.0 798.9,855.5 801.8,857.0 804.7,858.5 807.7,860.0 810.6,861.4 813.6,862.8 816.5,864.1 819.5,865.5 822.5,866.8 825.4,868.0 828.4,869.3 831.4,870.5 834.4,871.6 837.5,872.8 840.5,873.9 843.5,875.0 846.5,876.0 849.6,877.0 852.6,878.0 855.7,879.0 858.7,879.9 861.8,880.8 864.9,881.6 867.9,882.5 871.0,883.3 874.1,884.0 877.2,884.8 880.2,885.5 883.3,886.1 886.4,886.8 889.5,887.4 892.6,888.0 895.7,888.5 898.8,889.0 901.9,889.5 905.0,890.0 908.1,890.4 911.2,890.8 914.3,891.1 917.4,891.4 920.5,891.7 923.6,892.0 926.7,892.2 929.8,892.4 933.0,892.6 936.1,892.8 939.2,892.9 942.3,892.9 945.4,893.0 948.4,893.0 951.5,893.0 954.6,892.9 957.7,892.9 960.8,892.8 963.9,892.6 967.0,892.5 970.0,892.3 973.1,892.1 976.2,891.8 979.2,891.5 982.3,891.2 985.3,890.9 988.4,890.5 991.4,890.1 994.5,889.7 997.5,889.2" fill="#f35b61"/><polygon points="1000.8,881.3 998.2,881.7 995.7,882.0 993.1,882.4 989.6,890.3 992.2,890.0 994.9,889.6 997.5,889.2" fill="#9a2024"/><polygon points="994.9,882.1 992.3,882.5 989.7,882.8 987.1,883.1 983.5,891.1 986.1,890.8 988.8,890.4 991.4,890.1" fill="#9a2024"/><polygon points="988.9,882.9 986.3,883.2 983.7,883.4 981.1,883.7 977.4,891.7 980.0,891.4 982.7,891.2 985.3,890.9" fill="#9b2024"/><polygon points="982.9,883.5 980.3,883.8 977.7,884.0 975.1,884.2 971.3,892.2 973.9,892.0 976.6,891.8 979.2,891.5" fill="#9b2125"/><polygon points="976.9,884.0 974.3,884.2 971.7,884.4 969.1,884.5 965.1,892.6 967.8,892.4 970.4,892.3 973.1,892.1" fill="#9b2125"/><polygon points="970.9,884.4 968.3,884.6 965.7,884.7 963.1,884.8 958.9,892.8 961.6,892.7 964.3,892.6 967.0,892.5" fill="#9b2125"/><polygon points="964.9,884.7 962.3,884.8 959.7,884.9 957.0,884.9 952.8,893.0 955.4,892.9 958.1,892.9 960.8,892.8" fill="#9c2125"/><polygon points="958.9,884.9 956.2,884.9 953.6,884.9 951.0,884.9 946.6,893.0 949.3,893.0 951.9,893.0 954.6,892.9" fill="#9c2125"/><polygon points="952.8,884.9 950.2,884.9 947.6,884.9 944.9,884.8 940.4,892.9 943.1,893.0 945.8,893.0 948.4,893.0" fill="#9c2125"/><polygon points="946.7,884.8 944.1,884.8 941.5,884.7 938.9,884.6 934.2,892.7 936.9,892.8 939.6,892.9 942.3,892.9" fill="#9c2226"/><polygon points="940.7,884.6 938.0,884.5 935.4,884.4 932.8,884.2 928.0,892.3 930.7,892.5 933.4,892.6 936.1,892.8" fill="#9d2226"/><polygon points="934.6,884.3 932.0,884.2 929.3,884.0 926.7,883.7 921.8,891.8 924.5,892.1 927.2,892.3 929.8,892.4" fill="#9d2226"/><polygon points="928.5,883.9 925.9,883.7 923.3,883.4 920.6,883.1 915.6,891.3 918.3,891.5 920.9,891.8 923.6,892.0" fill="#9d2226"/><polygon points="922.5,883.3 919.8,883.0 917.2,882.7 914.6,882.4 909.4,890.5 912.0,890.9 914.7,891.2 917.4,891.4" fill="#9e2226"/><polygon points="916.4,882.6 913.7,882.3 911.1,882.0 908.5,881.6 903.1,889.7 905.8,890.1 908.5,890.4 911.2,890.8" fill="#9e2327"/><polygon points="910.3,881.8 907.7,881.5 905.0,881.0 902.4,880.6 896.9,888.7 899.6,889.2 902.3,889.6 905.0,890.0" fill="#9e2327"/><polygon points="904.2,880.9 901.6,880.5 899.0,880.0 896.4,879.5 890.7,887.6 893.4,888.1 896.1,888.6 898.8,889.0" fill="#9e2327"/><polygon points="898.2,879.9 895.6,879.4 892.9,878.9 890.3,878.3 884.6,886.4 887.2,886.9 889.9,887.5 892.6,888.0" fill="#9f2327"/><polygon points="892.1,878.7 889.5,878.2 886.9,877.6 884.3,877.0 878.4,885.1 881.1,885.7 883.7,886.2 886.4,886.8" fill="#9f2327"/><polygon points="886.1,877.4 883.5,876.8 880.8,876.2 878.2,875.5 872.2,883.6 874.9,884.2 877.6,884.9 880.2,885.5" fill="#9f2327"/><polygon points="880.0,876.0 877.4,875.3 874.8,874.7 872.2,874.0 866.1,882.0 868.7,882.7 871.4,883.4 874.1,884.0" fill="#9f2428"/><polygon points="874.0,874.4 871.4,873.7 868.8,873.0 866.2,872.3 859.9,880.3 862.6,881.0 865.3,881.8 867.9,882.5" fill="#a02428"/><polygon points="868.0,872.8 865.4,872.0 862.8,871.2 860.3,870.4 853.8,878.4 856.5,879.2 859.1,880.0 861.8,880.8" fill="#a02428"/><polygon points="862.0,871.0 859.5,870.2 856.9,869.4 854.3,868.5 847.7,876.4 850.4,877.3 853.0,878.2 855.7,879.0" fill="#a12529"/><polygon points="856.1,869.1 853.5,868.2 850.9,867.3 848.4,866.4 841.7,874.3 844.3,875.3 846.9,876.2 849.6,877.0" fill="#a3262a"/><polygon points="850.2,867.1 847.6,866.1 845.0,865.2 842.5,864.2 835.6,872.1 838.3,873.1 840.9,874.0 843.5,875.0" fill="#a5282c"/><polygon points="844.2,864.9 841.7,863.9 839.1,862.9 836.6,861.9 829.6,869.8 832.2,870.8 834.8,871.8 837.5,872.8" fill="#a7292d"/><polygon points="838.4,862.6 835.8,861.6 833.3,860.6 830.7,859.5 823.6,867.3 826.2,868.4 828.8,869.4 831.4,870.5" fill="#a92b2f"/><polygon points="832.5,860.2 830.0,859.1 827.4,858.0 824.9,856.9 817.7,864.7 820.3,865.8 822.9,866.9 825.4,868.0" fill="#ac2c31"/><polygon points="826.7,857.7 824.1,856.6 821.6,855.4 819.1,854.2 811.8,861.9 814.3,863.1 816.9,864.3 819.5,865.5" fill="#ae2d32"/><polygon points="820.9,855.1 818.4,853.9 815.9,852.7 813.4,851.4 805.9,859.1 808.4,860.3 811.0,861.6 813.6,862.8" fill="#b02f34"/><polygon points="815.1,852.3 812.6,851.1 810.2,849.8 807.7,848.5 800.1,856.1 802.6,857.4 805.1,858.7 807.7,860.0" fill="#b23035"/><polygon points="809.4,849.4 806.9,848.1 804.5,846.8 802.0,845.5 794.3,853.0 796.8,854.4 799.3,855.7 801.8,857.0" fill="#b43237"/><polygon points="803.7,846.4 801.3,845.1 798.8,843.7 796.4,842.3 788.5,849.8 791.0,851.2 793.5,852.6 796.0,854.0" fill="#b63339"/><polygon points="798.1,843.3 795.6,841.9 793.2,840.5 790.8,839.0 782.8,846.5 785.3,847.9 787.7,849.4 790.2,850.8" fill="#b8353a"/><polygon points="792.5,840.0 790.1,838.6 787.7,837.1 785.3,835.6 777.1,843.0 779.6,844.5 782.0,846.0 784.5,847.5" fill="#ba363c"/><polygon points="786.9,836.7 784.5,835.2 782.2,833.7 779.8,832.1 771.5,839.4 773.9,841.0 776.4,842.5 778.8,844.1" fill="#bd383d"/><polygon points="781.4,833.2 779.1,831.6 776.7,830.1 774.3,828.5 765.9,835.7 768.3,837.3 770.8,838.9 773.2,840.5" fill="#bf393f"/><polygon points="776.0,829.6 773.6,828.0 771.3,826.4 769.0,824.7 760.4,831.9 762.8,833.6 765.2,835.2 767.6,836.8" fill="#c13b41"/><polygon points="770.6,825.9 768.2,824.2 765.9,822.6 763.6,820.9 755.0,827.9 757.3,829.7 759.7,831.4 762.1,833.1" fill="#c43c42"/><polygon points="765.2,822.0 762.9,820.3 760.6,818.6 758.4,816.9 749.6,823.9 751.9,825.7 754.2,827.4 756.6,829.1" fill="#c63e44"/><polygon points="759.9,818.1 757.7,816.3 755.4,814.6 753.1,812.8 744.2,819.7 746.5,821.5 748.9,823.3 751.2,825.1" fill="#c93f45"/><polygon points="754.7,814.0 752.5,812.2 750.2,810.4 748.0,808.6 739.0,815.4 741.2,817.3 743.5,819.2 745.8,821.0" fill="#cc4047"/><polygon points="749.5,809.9 747.3,808.0 745.1,806.2 742.9,804.3 733.7,811.0 736.0,813.0 738.3,814.9 740.5,816.7" fill="#ce4249"/><polygon points="744.4,805.6 742.2,803.7 740.0,801.8 737.9,799.8 728.6,806.5 730.8,808.5 733.1,810.4 735.3,812.4" fill="#d1434a"/><polygon points="739.4,801.2 737.2,799.2 735.1,797.3 732.9,795.3 723.5,801.9 725.7,803.9 727.9,805.9 730.1,807.9" fill="#d4454c"/><polygon points="734.4,796.7 732.3,794.7 730.1,792.7 728.0,790.7 718.5,797.2 720.7,799.2 722.9,801.3 725.0,803.3" fill="#d6464d"/><polygon points="729.5,792.1 727.4,790.0 725.3,788.0 723.2,785.9 713.6,792.3 715.7,794.4 717.9,796.5 720.0,798.6" fill="#d9484f"/><polygon points="724.7,787.4 722.6,785.3 720.5,783.2 718.5,781.1 708.7,787.4 710.8,789.5 712.9,791.7 715.1,793.8" fill="#dc4951"/><polygon points="719.9,782.5 717.8,780.4 715.8,778.3 713.8,776.1 703.9,782.3 706.0,784.5 708.1,786.7 710.2,788.9" fill="#de4b52"/><polygon points="715.2,777.6 713.2,775.4 711.2,773.2 709.2,771.0 699.2,777.1 701.3,779.4 703.3,781.6 705.4,783.8" fill="#e14c54"/><polygon points="710.6,772.6 708.6,770.4 706.6,768.1 704.7,765.9 694.6,771.9 696.6,774.2 698.6,776.4 700.7,778.7" fill="#e44e55"/><polygon points="706.1,767.4 704.1,765.2 702.2,762.9 700.3,760.6 690.1,766.5 692.0,768.8 694.0,771.2 696.0,773.5" fill="#e64f57"/><polygon points="701.6,762.2 699.7,759.9 697.8,757.6 695.9,755.3 685.6,761.0 687.6,763.4 689.5,765.8 691.4,768.1" fill="#e85058"/><polygon points="697.2,756.9 695.4,754.5 693.5,752.2 691.7,749.8 681.3,755.5 683.1,757.9 685.0,760.3 687.0,762.7" fill="#e95159"/><polygon points="692.9,751.5 691.1,749.1 689.3,746.7 687.5,744.3 677.0,749.8 678.8,752.3 680.7,754.7 682.6,757.1" fill="#e95159"/><polygon points="688.7,745.9 686.9,743.5 685.2,741.1 683.4,738.6 672.8,744.0 674.6,746.5 676.4,749.0 678.3,751.5" fill="#ea525a"/><polygon points="684.6,740.3 682.9,737.9 681.1,735.4 679.4,732.9 668.7,738.2 670.5,740.7 672.2,743.3 674.0,745.8" fill="#eb535a"/><polygon points="680.6,734.6 678.9,732.1 677.2,729.6 675.5,727.1 664.7,732.3 666.4,734.8 668.2,737.4 669.9,740.0" fill="#eb535b"/><polygon points="676.7,728.8 675.0,726.3 673.3,723.8 671.7,721.2 660.8,726.2 662.5,728.8 664.2,731.5 665.9,734.0" fill="#ec545b"/><polygon points="672.8,723.0 671.2,720.4 669.6,717.8 668.0,715.2 657.0,720.1 658.6,722.8 660.3,725.4 662.0,728.0" fill="#ec545c"/><polygon points="669.1,717.0 667.5,714.4 665.9,711.8 664.3,709.1 653.3,713.9 654.9,716.6 656.5,719.3 658.1,722.0" fill="#ed555c"/><polygon points="665.4,711.0 663.9,708.3 662.3,705.7 660.8,703.0 649.7,707.6 651.2,710.4 652.8,713.1 654.4,715.8" fill="#ee565d"/><polygon points="661.9,704.8 660.4,702.2 658.9,699.5 657.4,696.8 646.2,701.3 647.7,704.0 649.2,706.8 650.7,709.5" fill="#ee565d"/><polygon points="658.4,698.6 656.9,695.9 655.5,693.2 654.1,690.4 642.8,694.8 644.2,697.6 645.7,700.4 647.2,703.2" fill="#ef575e"/><polygon points="655.1,692.3 653.6,689.6 652.2,686.8 650.9,684.1 639.5,688.3 640.9,691.1 642.3,694.0 643.8,696.8" fill="#ef575e"/><polygon points="651.8,686.0 650.4,683.2 649.1,680.4 647.7,677.6 636.3,681.7 637.6,684.6 639.0,687.4 640.4,690.3" fill="#f0585f"/><polygon points="648.7,679.6 647.3,676.8 646.0,673.9 644.7,671.1 633.2,675.1 634.5,677.9 635.8,680.8 637.2,683.7" fill="#f1595f"/><polygon points="645.6,673.1 644.3,670.2 643.1,667.4 641.8,664.5 630.2,668.3 631.5,671.2 632.8,674.2 634.1,677.1" fill="#f15960"/><polygon points="642.7,666.5 641.5,663.6 640.2,660.8 639.0,657.9 627.3,661.5 628.6,664.5 629.8,667.4 631.1,670.4" fill="#f25a60"/><polygon points="639.9,659.9 638.7,657.0 637.5,654.1 636.4,651.2 624.6,654.7 625.8,657.6 627.0,660.6 628.2,663.6" fill="#f25a61"/><polygon points="637.2,653.2 636.0,650.3 634.9,647.3 633.8,644.4 622.0,647.7 623.1,650.8 624.2,653.8 625.4,656.7" fill="#f35b61"/><polygon points="634.6,646.4 633.5,643.5 632.4,640.5 631.3,637.5 619.4,640.8 620.5,643.8 621.6,646.8 622.7,649.8" fill="#f45c62"/><polygon points="632.1,639.6 631.0,636.6 630.0,633.7 629.0,630.7 617.0,633.7 618.1,636.8 619.1,639.8 620.2,642.9" fill="#f45c62"/><polygon points="629.7,632.7 628.7,629.7 627.7,626.7 626.8,623.7 614.8,626.6 615.7,629.7 616.7,632.8 617.7,635.8" fill="#f45c62"/><polygon points="627.4,625.8 626.5,622.8 625.5,619.8 624.6,616.7 612.6,619.5 613.5,622.6 614.5,625.7 615.4,628.8" fill="#f45c62"/><polygon points="625.3,618.8 624.4,615.8 623.5,612.8 622.6,609.7 610.5,612.3 611.4,615.4 612.3,618.5 613.2,621.6" fill="#f45d63"/><polygon points="623.2,611.8 622.4,608.8 621.6,605.7 620.8,602.6 608.6,605.1 609.4,608.2 610.3,611.3 611.1,614.5" fill="#f55d63"/><polygon points="621.3,604.8 620.5,601.7 619.7,598.6 619.0,595.5 606.8,597.8 607.6,601.0 608.4,604.1 609.2,607.3" fill="#f55d63"/><polygon points="619.5,597.7 618.8,594.6 618.1,591.5 617.4,588.4 605.1,590.5 605.8,593.7 606.6,596.8 607.3,600.0" fill="#f55d63"/><polygon points="617.8,590.5 617.1,587.4 616.5,584.3 615.8,581.2 603.5,583.1 604.2,586.3 604.9,589.5 605.6,592.7" fill="#f55d63"/><polygon points="616.3,583.3 615.6,580.2 615.0,577.1 614.4,573.9 602.1,575.7 602.7,578.9 603.3,582.1 604.0,585.3" fill="#f55e64"/><polygon points="614.8,576.1 614.2,573.0 613.7,569.8 613.1,566.7 600.8,568.3 601.3,571.5 601.9,574.7 602.5,578.0" fill="#f55e64"/><polygon points="613.5,568.9 613.0,565.7 612.5,562.5 612.0,559.4 599.6,560.9 600.1,564.1 600.6,567.3 601.2,570.5" fill="#f55e64"/><polygon points="612.3,561.6 611.8,558.4 611.4,555.2 610.9,552.1 598.5,553.4 599.0,556.6 599.5,559.9 599.9,563.1" fill="#f65e64"/><polygon points="611.2,554.3 610.8,551.1 610.4,547.9 610.0,544.7 597.6,545.9 598.0,549.1 598.4,552.4 598.8,555.6" fill="#f65e64"/><polygon points="610.3,546.9 609.9,543.8 609.6,540.6 609.2,537.4 596.8,538.4 597.1,541.6 597.5,544.9 597.9,548.1" fill="#f65f65"/><polygon points="609.5,539.6 609.1,536.4 608.8,533.2 608.6,530.0 596.1,530.8 596.4,534.1 596.7,537.4 597.0,540.6" fill="#f65f65"/><polygon points="608.8,532.2 608.5,529.0 608.2,525.8 608.0,522.6 595.5,523.3 595.8,526.6 596.0,529.8 596.3,533.1" fill="#f65f65"/><polygon points="608.2,524.9 608.0,521.6 607.8,518.4 607.6,515.2 595.1,515.7 595.3,519.0 595.5,522.3 595.7,525.6" fill="#f65f65"/><polygon points="607.7,517.5 607.5,514.3 607.4,511.0 607.3,507.8 594.8,508.2 594.9,511.4 595.1,514.7 595.2,518.0" fill="#f65f65"/><polygon points="607.4,510.1 607.3,506.8 607.2,503.6 607.1,500.4 594.6,500.6 594.7,503.9 594.8,507.1 594.9,510.4" fill="#f66066"/><polygon points="607.2,502.6 607.1,499.4 607.1,496.2 607.1,493.0 594.6,493.0 594.6,496.3 594.6,499.6 594.7,502.9" fill="#f76066"/><polygon points="607.1,495.2 607.1,492.0 607.1,488.8 607.2,485.6 594.7,485.4 594.6,488.7 594.6,492.0 594.6,495.3" fill="#f76066"/><polygon points="607.1,487.8 607.2,484.6 607.3,481.4 607.4,478.2 594.9,477.8 594.8,481.1 594.7,484.4 594.6,487.7" fill="#f76066"/><polygon points="607.3,480.4 607.4,477.2 607.5,474.0 607.7,470.8 595.2,470.3 595.0,473.6 594.9,476.8 594.8,480.1" fill="#f76066"/><polygon points="607.6,473.0 607.7,469.8 607.9,466.6 608.1,463.4 595.7,462.7 595.4,466.0 595.3,469.3 595.1,472.6" fill="#f76167"/><polygon points="608.0,465.6 608.2,462.4 608.4,459.2 608.7,456.0 596.2,455.2 596.0,458.4 595.7,461.7 595.5,465.0" fill="#f76167"/><polygon points="608.5,458.2 608.8,455.0 609.1,451.8 609.4,448.7 597.0,447.6 596.6,450.9 596.3,454.2 596.1,457.4" fill="#f76167"/><polygon points="609.2,450.9 609.5,447.7 609.9,444.5 610.2,441.3 597.8,440.1 597.4,443.4 597.1,446.6 596.7,449.9" fill="#f86167"/><polygon points="610.0,443.5 610.3,440.3 610.7,437.2 611.2,434.0 598.8,432.6 598.3,435.9 597.9,439.1 597.5,442.4" fill="#f86167"/><polygon points="610.9,436.2 611.3,433.0 611.8,429.8 612.2,426.7 599.9,425.2 599.4,428.4 598.9,431.7 598.5,434.9" fill="#f86268"/><polygon points="611.9,428.9 612.4,425.7 612.9,422.6 613.4,419.4 601.1,417.7 600.5,421.0 600.0,424.2 599.5,427.4" fill="#f86268"/><polygon points="613.1,421.6 613.6,418.4 614.2,415.3 614.7,412.2 602.4,410.3 601.8,413.5 601.3,416.8 600.7,420.0" fill="#f86268"/><polygon points="614.3,414.3 614.9,411.2 615.5,408.1 616.2,404.9 603.9,403.0 603.2,406.1 602.6,409.3 602.0,412.6" fill="#f86268"/><polygon points="615.7,407.1 616.4,404.0 617.0,400.9 617.7,397.8 605.5,395.6 604.8,398.8 604.1,402.0 603.4,405.2" fill="#f86167"/><polygon points="617.2,399.9 617.9,396.8 618.7,393.7 619.4,390.6 607.2,388.3 606.4,391.5 605.7,394.6 605.0,397.8" fill="#f76167"/><polygon points="618.9,392.8 619.6,389.7 620.4,386.6 621.2,383.5 609.0,381.0 608.2,384.2 607.4,387.3 606.7,390.5" fill="#f76167"/><polygon points="620.6,385.6 621.4,382.6 622.3,379.5 623.1,376.4 611.0,373.8 610.1,376.9 609.3,380.1 608.5,383.2" fill="#f76066"/><polygon points="622.5,378.6 623.4,375.5 624.2,372.5 625.1,369.4 613.1,366.6 612.2,369.8 611.3,372.9 610.4,376.0" fill="#f76066"/><polygon points="624.5,371.5 625.4,368.5 626.3,365.5 627.3,362.5 615.3,359.5 614.3,362.6 613.4,365.7 612.4,368.8" fill="#f76066"/><polygon points="626.6,364.5 627.6,361.5 628.5,358.5 629.5,355.5 617.6,352.5 616.6,355.5 615.6,358.6 614.6,361.7" fill="#f75f65"/><polygon points="628.8,357.6 629.8,354.6 630.8,351.6 631.9,348.7 620.0,345.4 618.9,348.5 617.9,351.5 616.9,354.6" fill="#f75f65"/><polygon points="631.2,350.7 632.2,347.8 633.3,344.8 634.4,341.9 622.6,338.5 621.4,341.5 620.3,344.5 619.3,347.5" fill="#f65f65"/><polygon points="633.6,343.9 634.7,341.0 635.8,338.0 637.0,335.1 625.2,331.6 624.1,334.6 622.9,337.6 621.8,340.6" fill="#f65e64"/><polygon points="636.2,337.1 637.3,334.2 638.5,331.3 639.7,328.4 628.0,324.7 626.8,327.7 625.6,330.7 624.4,333.6" fill="#f65e64"/><polygon points="638.8,330.4 640.0,327.5 641.3,324.7 642.5,321.8 630.9,318.0 629.6,320.9 628.4,323.8 627.1,326.8" fill="#f65e64"/><polygon points="641.6,323.8 642.9,320.9 644.1,318.1 645.4,315.2 633.9,311.3 632.6,314.2 631.3,317.1 630.0,320.0" fill="#f65d63"/><polygon points="644.5,317.2 645.8,314.4 647.1,311.5 648.4,308.7 637.0,304.6 635.6,307.5 634.3,310.4 633.0,313.3" fill="#f65d63"/><polygon points="647.5,310.7 648.9,307.9 650.2,305.1 651.6,302.3 640.2,298.1 638.8,300.9 637.4,303.7 636.0,306.6" fill="#f55d63"/><polygon points="650.6,304.2 652.0,301.5 653.4,298.7 654.8,296.0 643.5,291.6 642.1,294.4 640.6,297.2 639.2,300.0" fill="#f55c62"/><polygon points="653.8,297.9 655.3,295.1 656.7,292.4 658.2,289.7 646.9,285.2 645.4,287.9 644.0,290.7 642.5,293.5" fill="#f55c62"/><polygon points="657.1,291.6 658.6,288.8 660.1,286.2 661.6,283.5 650.5,278.8 648.9,281.6 647.4,284.3 645.9,287.1" fill="#f55c62"/><polygon points="660.6,285.3 662.1,282.7 663.6,280.0 665.2,277.4 654.1,272.6 652.5,275.3 651.0,278.0 649.4,280.7" fill="#f55c62"/><polygon points="664.1,279.2 665.6,276.5 667.2,273.9 668.8,271.3 657.8,266.4 656.2,269.1 654.6,271.7 653.0,274.4" fill="#f55b61"/><polygon points="667.7,273.1 669.3,270.5 670.9,267.9 672.5,265.4 661.7,260.3 660.0,262.9 658.3,265.6 656.7,268.2" fill="#f45b61"/><polygon points="671.4,267.1 673.0,264.6 674.7,262.0 676.4,259.5 665.6,254.3 663.9,256.9 662.2,259.5 660.5,262.1" fill="#f45b61"/><polygon points="675.2,261.2 676.9,258.7 678.6,256.2 680.3,253.7 669.6,248.4 667.9,250.9 666.1,253.5 664.4,256.1" fill="#f45a60"/><polygon points="679.1,255.4 680.8,252.9 682.6,250.5 684.3,248.0 673.7,242.6 671.9,245.1 670.2,247.6 668.4,250.2" fill="#f45a60"/><polygon points="683.1,249.7 684.8,247.2 686.6,244.8 688.4,242.4 677.9,236.9 676.1,239.3 674.3,241.8 672.5,244.3" fill="#f45960"/><polygon points="687.2,244.1 689.0,241.6 690.8,239.3 692.6,236.9 682.2,231.2 680.4,233.7 678.5,236.1 676.7,238.6" fill="#f3595f"/><polygon points="691.3,238.5 693.2,236.1 695.0,233.8 696.9,231.5 686.6,225.7 684.7,228.1 682.8,230.5 680.9,232.9" fill="#f3585f"/><polygon points="695.6,233.1 697.5,230.7 699.3,228.4 701.3,226.1 691.1,220.3 689.1,222.6 687.2,225.0 685.3,227.3" fill="#f3585e"/><polygon points="699.9,227.7 701.8,225.4 703.8,223.2 705.7,220.9 695.6,214.9 693.7,217.2 691.7,219.5 689.7,221.9" fill="#f3575e"/><polygon points="704.4,222.5 706.3,220.2 708.3,218.0 710.2,215.8 700.3,209.7 698.3,211.9 696.3,214.2 694.3,216.5" fill="#f2575d"/><polygon points="708.9,217.3 710.8,215.1 712.8,212.9 714.8,210.8 705.0,204.6 702.9,206.8 700.9,209.0 698.9,211.3" fill="#f2565d"/><polygon points="713.4,212.3 715.4,210.1 717.5,208.0 719.5,205.8 709.8,199.5 707.7,201.7 705.6,203.9 703.6,206.1" fill="#f2565d"/><polygon points="718.1,207.3 720.1,205.2 722.2,203.1 724.3,201.0 714.7,194.6 712.5,196.7 710.4,198.9 708.3,201.0" fill="#f1555c"/><polygon points="722.8,202.5 724.9,200.4 727.0,198.3 729.1,196.3 719.6,189.8 717.5,191.9 715.3,194.0 713.2,196.1" fill="#f1545c"/><polygon points="727.6,197.7 729.7,195.7 731.9,193.7 734.0,191.7 724.6,185.1 722.5,187.1 720.3,189.2 718.1,191.3" fill="#f1545b"/><polygon points="732.5,193.1 734.7,191.1 736.8,189.1 739.0,187.2 729.7,180.5 727.5,182.5 725.3,184.5 723.1,186.5" fill="#f1535b"/><polygon points="737.5,188.5 739.6,186.6 741.8,184.7 744.0,182.8 734.9,176.0 732.6,178.0 730.4,179.9 728.2,181.9" fill="#f0535b"/><polygon points="742.5,184.1 745.0,181.9 747.6,179.8 738.5,173.0 735.9,175.2 733.3,177.4" fill="#f0525a"/><polygon points="994.4,742.2 992.5,742.4 990.6,742.6 988.6,742.8 986.7,742.9 984.8,743.1 982.9,743.2 981.0,743.3 979.1,743.4 977.2,743.5 975.2,743.5 973.3,743.6 971.4,743.6 969.5,743.6 967.5,743.5 965.6,743.5 963.7,743.4 961.8,743.4 959.8,743.3 957.9,743.1 956.0,743.0 954.1,742.8 952.1,742.7 950.2,742.5 948.3,742.3 946.3,742.0 944.4,741.8 942.5,741.5 940.6,741.2 938.7,740.9 936.7,740.5 934.8,740.2 932.9,739.8 931.0,739.4 929.1,739.0 927.2,738.6 925.3,738.2 923.4,737.7 921.5,737.2 919.6,736.7 917.7,736.2 915.8,735.6 913.9,735.1 912.0,734.5 910.1,733.9 908.3,733.3 906.4,732.6 904.5,732.0 902.7,731.3 900.8,730.6 899.0,729.9 897.1,729.2 895.3,728.4 893.4,727.6 891.6,726.9 889.8,726.0 887.9,725.2 886.1,724.4 884.3,723.5 882.5,722.6 880.7,721.7 878.9,720.8 877.1,719.9 875.4,718.9 873.6,717.9 871.8,716.9 870.1,715.9 868.3,714.9 866.6,713.9 864.8,712.8 863.1,711.7 861.4,710.6 859.7,709.5 858.0,708.3 856.3,707.2 854.6,706.0 852.9,704.8 851.2,703.6 849.6,702.4 847.9,701.2 846.3,699.9 844.7,698.6 843.0,697.3 841.4,696.0 839.8,694.7 838.2,693.3 836.6,692.0 835.1,690.6 833.5,689.2 832.0,687.8 830.4,686.4 828.9,684.9 827.4,683.5 825.9,682.0 824.4,680.5 822.9,679.0 821.4,677.5 819.9,675.9 818.5,674.4 817.1,672.8 815.6,671.2 814.2,669.6 812.8,668.0 811.4,666.4 810.1,664.8 808.7,663.1 807.3,661.4 806.0,659.7 804.7,658.0 803.4,656.3 802.1,654.6 800.8,652.9 799.5,651.1 798.3,649.3 797.0,647.5 795.8,645.7 794.6,643.9 793.4,642.1 792.2,640.3 791.0,638.4 789.9,636.6 788.7,634.7 787.6,632.8 786.5,630.9 785.4,629.0 784.3,627.1 783.2,625.2 782.2,623.2 781.1,621.3 780.1,619.3 779.1,617.3 778.1,615.3 777.2,613.3 776.2,611.3 775.3,609.3 774.3,607.3 773.4,605.3 772.5,603.2 771.7,601.1 770.8,599.1 770.0,597.0 769.1,594.9 768.3,592.8 767.5,590.7 766.8,588.6 766.0,586.5 765.3,584.4 764.5,582.2 763.8,580.1 763.1,577.9 762.5,575.8 761.8,573.6 761.2,571.4 760.6,569.3 759.9,567.1 759.4,564.9 758.8,562.7 758.2,560.5 757.7,558.3 757.2,556.1 756.7,553.8 756.2,551.6 755.8,549.4 755.3,547.1 754.9,544.9 754.5,542.7 754.1,540.4 753.7,538.2 753.4,535.9 753.1,533.6 752.8,531.4 752.5,529.1 752.2,526.8 751.9,524.6 751.7,522.3 751.5,520.0 751.3,517.7 751.1,515.4 750.9,513.1 750.8,510.9 750.6,508.6 750.5,506.3 750.4,504.0 750.4,501.7 750.3,499.4 750.3,497.1 750.3,494.8 750.3,492.5 750.3,490.2 750.3,487.9 750.4,485.6 750.5,483.3 750.5,481.1 750.7,478.8 750.8,476.5 750.9,474.2 751.1,471.9 751.3,469.6 751.5,467.3 751.7,465.1 752.0,462.8 752.2,460.5 752.5,458.2 752.8,456.0 753.1,453.7 753.5,451.5 753.8,449.2 754.2,446.9 754.6,444.7 755.0,442.5 755.4,440.2 755.9,438.0 756.3,435.8 756.8,433.5 757.3,431.3 757.8,429.1 758.4,426.9 758.9,424.7 759.5,422.5 760.1,420.3 760.7,418.1 761.3,415.9 762.0,413.8 762.6,411.6 763.3,409.5 764.0,407.3 764.7,405.2 765.4,403.0 766.2,400.9 766.9,398.8 767.7,396.7 768.5,394.6 769.3,392.5 770.2,390.4 771.0,388.4 771.9,386.3 772.7,384.2 773.6,382.2 774.5,380.2 775.5,378.1 776.4,376.1 777.4,374.1 778.4,372.1 779.3,370.2 780.4,368.2 781.4,366.2 782.4,364.3 783.5,362.3 784.5,360.4 785.6,358.5 786.7,356.6 787.8,354.7 789.0,352.8 790.1,351.0 791.3,349.1 792.5,347.3 793.6,345.4 794.8,343.6 796.1,341.8 797.3,340.0 798.5,338.2 799.8,336.5 801.1,334.7 802.4,333.0 803.7,331.3 805.0,329.6 806.3,327.9 807.6,326.2 809.0,324.5 810.4,322.9 811.7,321.2 813.1,319.6 814.5,318.0 815.9,316.4 817.4,314.8 818.8,313.3 820.3,311.7 821.7,310.2 823.2,308.7 824.7,307.2 826.2,305.7 827.7,304.2 829.2,302.8 830.7,301.4 832.3,299.9 833.8,298.5 835.4,297.1 837.6,305.2 836.1,306.6 834.6,307.9 833.2,309.3 831.7,310.7 830.2,312.1 828.8,313.5 827.3,314.9 825.9,316.3 824.5,317.8 823.1,319.3 821.7,320.7 820.3,322.2 819.0,323.8 817.6,325.3 816.3,326.8 814.9,328.4 813.6,330.0 812.3,331.5 811.0,333.1 809.7,334.8 808.5,336.4 807.2,338.0 806.0,339.7 804.7,341.3 803.5,343.0 802.3,344.7 801.1,346.4 799.9,348.1 798.8,349.9 797.6,351.6 796.5,353.4 795.3,355.1 794.2,356.9 793.1,358.7 792.1,360.5 791.0,362.3 789.9,364.1 788.9,366.0 787.9,367.8 786.9,369.7 785.9,371.6 784.9,373.4 783.9,375.3 783.0,377.2 782.0,379.1 781.1,381.1 780.2,383.0 779.3,384.9 778.4,386.9 777.6,388.8 776.8,390.8 775.9,392.8 775.1,394.8 774.3,396.8 773.5,398.8 772.8,400.8 772.0,402.8 771.3,404.8 770.6,406.9 769.9,408.9 769.2,410.9 768.6,413.0 767.9,415.1 767.3,417.1 766.7,419.2 766.1,421.3 765.5,423.4 764.9,425.5 764.4,427.6 763.8,429.7 763.3,431.8 762.8,433.9 762.4,436.1 761.9,438.2 761.5,440.3 761.0,442.5 760.6,444.6 760.2,446.8 759.9,448.9 759.5,451.1 759.2,453.3 758.8,455.4 758.5,457.6 758.2,459.8 758.0,461.9 757.7,464.1 757.5,466.3 757.3,468.5 757.1,470.7 756.9,472.9 756.7,475.0 756.6,477.2 756.5,479.4 756.4,481.6 756.3,483.8 756.2,486.0 756.1,488.2 756.1,490.4 756.1,492.6 756.1,494.8 756.1,497.0 756.1,499.2 756.2,501.4 756.2,503.6 756.3,505.8 756.4,508.0 756.6,510.2 756.7,512.4 756.9,514.6 757.0,516.7 757.2,518.9 757.4,521.1 757.7,523.3 757.9,525.5 758.2,527.7 758.5,529.8 758.8,532.0 759.1,534.2 759.4,536.3 759.8,538.5 760.1,540.6 760.5,542.8 760.9,544.9 761.4,547.1 761.8,549.2 762.2,551.4 762.7,553.5 763.2,555.6 763.7,557.7 764.2,559.8 764.8,561.9 765.4,564.0 765.9,566.1 766.5,568.2 767.1,570.3 767.8,572.4 768.4,574.5 769.1,576.5 769.7,578.6 770.4,580.6 771.1,582.7 771.9,584.7 772.6,586.7 773.4,588.7 774.1,590.7 774.9,592.7 775.7,594.7 776.6,596.7 777.4,598.7 778.3,600.6 779.1,602.6 780.0,604.5 780.9,606.5 781.8,608.4 782.8,610.3 783.7,612.2 784.7,614.1 785.6,616.0 786.6,617.9 787.6,619.7 788.7,621.6 789.7,623.4 790.7,625.3 791.8,627.1 792.9,628.9 794.0,630.7 795.1,632.5 796.2,634.2 797.3,636.0 798.5,637.7 799.7,639.5 800.8,641.2 802.0,642.9 803.2,644.6 804.4,646.3 805.7,648.0 806.9,649.6 808.2,651.3 809.4,652.9 810.7,654.5 812.0,656.1 813.3,657.7 814.6,659.3 816.0,660.9 817.3,662.4 818.7,663.9 820.0,665.5 821.4,667.0 822.8,668.5 824.2,669.9 825.6,671.4 827.0,672.8 828.5,674.3 829.9,675.7 831.4,677.1 832.8,678.5 834.3,679.9 835.8,681.2 837.3,682.5 838.8,683.9 840.3,685.2 841.8,686.5 843.4,687.7 844.9,689.0 846.5,690.3 848.1,691.5 849.6,692.7 851.2,693.9 852.8,695.1 854.4,696.2 856.0,697.4 857.6,698.5 859.3,699.6 860.9,700.7 862.5,701.8 864.2,702.8 865.8,703.9 867.5,704.9 869.2,705.9 870.8,706.9 872.5,707.9 874.2,708.8 875.9,709.8 877.6,710.7 879.3,711.6 881.1,712.5 882.8,713.4 884.5,714.2 886.3,715.0 888.0,715.9 889.7,716.7 891.5,717.4 893.3,718.2 895.0,718.9 896.8,719.7 898.6,720.4 900.3,721.1 902.1,721.7 903.9,722.4 905.7,723.0 907.5,723.6 909.3,724.2 911.1,724.8 912.9,725.4 914.7,725.9 916.5,726.4 918.4,726.9 920.2,727.4 922.0,727.9 923.8,728.4 925.7,728.8 927.5,729.2 929.3,729.6 931.2,730.0 933.0,730.3 934.8,730.7 936.7,731.0 938.5,731.3 940.4,731.6 942.2,731.9 944.1,732.1 945.9,732.3 947.8,732.6 949.6,732.7 951.5,732.9 953.3,733.1 955.2,733.2 957.0,733.3 958.9,733.4 960.7,733.5 962.6,733.6 964.4,733.6 966.3,733.7 968.1,733.7 970.0,733.7 971.8,733.6 973.7,733.6 975.5,733.5 977.4,733.5 979.2,733.4 981.0,733.2 982.9,733.1 984.7,732.9 986.5,732.8 988.4,732.6 990.2,732.4" fill="#81161a"/><polygon points="994.4,742.2 992.7,742.4 991.1,742.6 989.4,742.7 985.4,732.9 987.0,732.7 988.6,732.6 990.2,732.4" fill="#b82a30"/><polygon points="990.6,742.6 988.9,742.8 987.2,742.9 985.6,743.0 981.8,733.2 983.4,733.1 985.0,732.9 986.5,732.8" fill="#b72a30"/><polygon points="986.7,742.9 985.1,743.1 983.4,743.2 981.8,743.3 978.1,733.4 979.7,733.3 981.3,733.2 982.9,733.1" fill="#b6292f"/><polygon points="982.9,743.2 981.2,743.3 979.6,743.4 977.9,743.5 974.4,733.6 976.0,733.5 977.6,733.4 979.2,733.4" fill="#b6292f"/><polygon points="979.1,743.4 977.4,743.5 975.7,743.5 974.1,743.6 970.7,733.7 972.3,733.6 973.9,733.6 975.5,733.5" fill="#b5292f"/><polygon points="975.2,743.5 973.6,743.6 971.9,743.6 970.2,743.6 967.0,733.7 968.6,733.7 970.2,733.7 971.8,733.6" fill="#b4282e"/><polygon points="971.4,743.6 969.7,743.6 968.0,743.6 966.4,743.5 963.3,733.6 964.9,733.6 966.5,733.7 968.1,733.7" fill="#b4282e"/><polygon points="967.5,743.5 965.9,743.5 964.2,743.5 962.5,743.4 959.6,733.5 961.2,733.5 962.8,733.6 964.4,733.6" fill="#b3282e"/><polygon points="963.7,743.4 962.0,743.4 960.3,743.3 958.7,743.2 955.9,733.3 957.5,733.4 959.1,733.5 960.7,733.5" fill="#b2282d"/><polygon points="959.8,743.3 958.2,743.2 956.5,743.0 954.8,742.9 952.2,733.0 953.8,733.1 955.4,733.2 957.0,733.3" fill="#b2272d"/><polygon points="956.0,743.0 954.3,742.9 952.6,742.7 951.0,742.5 948.5,732.6 950.1,732.8 951.7,732.9 953.3,733.1" fill="#b1272d"/><polygon points="952.1,742.7 950.5,742.5 948.8,742.3 947.1,742.1 944.8,732.2 946.4,732.4 948.0,732.6 949.6,732.7" fill="#b0272c"/><polygon points="948.3,742.3 946.6,742.0 944.9,741.8 943.3,741.6 941.1,731.7 942.7,731.9 944.3,732.1 945.9,732.3" fill="#b0272c"/><polygon points="944.4,741.8 942.8,741.5 941.1,741.3 939.4,741.0 937.4,731.1 939.0,731.4 940.6,731.6 942.2,731.9" fill="#af262c"/><polygon points="940.6,741.2 938.9,740.9 937.3,740.6 935.6,740.3 933.7,730.5 935.3,730.8 936.9,731.0 938.5,731.3" fill="#ae262b"/><polygon points="936.7,740.5 935.1,740.2 933.4,739.9 931.8,739.6 930.1,729.8 931.7,730.1 933.2,730.4 934.8,730.7" fill="#ae262b"/><polygon points="932.9,739.8 931.3,739.5 929.6,739.1 927.9,738.8 926.4,729.0 928.0,729.3 929.6,729.7 931.2,730.0" fill="#ad252b"/><polygon points="929.1,739.0 927.4,738.7 925.8,738.3 924.1,737.9 922.7,728.1 924.3,728.5 925.9,728.8 927.5,729.2" fill="#ac252a"/><polygon points="925.3,738.2 923.6,737.8 922.0,737.3 920.3,736.9 919.1,727.1 920.7,727.6 922.3,728.0 923.8,728.4" fill="#ab252a"/><polygon points="921.5,737.2 919.8,736.8 918.2,736.3 916.6,735.9 915.5,726.1 917.0,726.6 918.6,727.0 920.2,727.4" fill="#aa2429"/><polygon points="917.7,736.2 916.0,735.7 914.4,735.2 912.8,734.7 911.8,725.0 913.4,725.5 915.0,726.0 916.5,726.4" fill="#a82429"/><polygon points="913.9,735.1 912.3,734.6 910.6,734.1 909.0,733.5 908.2,723.9 909.8,724.4 911.4,724.9 912.9,725.4" fill="#a62328"/><polygon points="910.1,733.9 908.5,733.4 906.9,732.8 905.3,732.2 904.6,722.6 906.2,723.2 907.7,723.7 909.3,724.2" fill="#a52327"/><polygon points="906.4,732.6 904.8,732.1 903.2,731.5 901.6,730.9 901.1,721.3 902.6,721.9 904.2,722.5 905.7,723.0" fill="#a32227"/><polygon points="902.7,731.3 901.1,730.7 899.5,730.1 897.8,729.5 897.5,719.9 899.0,720.6 900.6,721.1 902.1,721.7" fill="#a22126"/><polygon points="899.0,729.9 897.4,729.3 895.8,728.6 894.2,727.9 894.0,718.5 895.5,719.1 897.0,719.8 898.6,720.4" fill="#a02126"/><polygon points="895.3,728.4 893.7,727.7 892.1,727.1 890.5,726.4 890.4,717.0 892.0,717.6 893.5,718.3 895.0,718.9" fill="#9f2025"/><polygon points="891.6,726.9 890.0,726.2 888.4,725.4 886.9,724.7 887.0,715.4 888.5,716.1 890.0,716.8 891.5,717.4" fill="#9d2024"/><polygon points="887.9,725.2 886.4,724.5 884.8,723.7 883.2,723.0 883.5,713.7 885.0,714.4 886.5,715.1 888.0,715.9" fill="#9b1f24"/><polygon points="884.3,723.5 882.8,722.7 881.2,722.0 879.6,721.2 880.0,712.0 881.5,712.7 883.0,713.5 884.5,714.2" fill="#9a1f23"/><polygon points="880.7,721.7 879.2,720.9 877.6,720.1 876.1,719.3 876.6,710.1 878.1,710.9 879.6,711.7 881.1,712.5" fill="#981e23"/><polygon points="877.1,719.9 875.6,719.0 874.1,718.2 872.5,717.3 873.2,708.3 874.7,709.1 876.2,709.9 877.6,710.7" fill="#971e22"/><polygon points="873.6,717.9 872.1,717.1 870.5,716.2 869.0,715.3 869.8,706.3 871.3,707.2 872.8,708.0 874.2,708.8" fill="#951d21"/><polygon points="870.1,715.9 868.5,715.0 867.0,714.1 865.5,713.2 866.5,704.3 867.9,705.2 869.4,706.0 870.8,706.9" fill="#931d21"/><polygon points="866.6,713.9 865.1,712.9 863.6,712.0 862.1,711.0 863.2,702.2 864.6,703.1 866.1,704.0 867.5,704.9" fill="#921c20"/><polygon points="863.1,711.7 861.6,710.7 860.1,709.8 858.6,708.8 859.9,700.0 861.3,701.0 862.7,701.9 864.2,702.8" fill="#901b20"/><polygon points="859.7,709.5 858.2,708.5 856.7,707.5 855.3,706.5 856.7,697.8 858.1,698.8 859.5,699.8 860.9,700.7" fill="#8f1b1f"/><polygon points="856.3,707.2 854.8,706.2 853.4,705.1 851.9,704.1 853.4,695.5 854.8,696.5 856.2,697.5 857.6,698.5" fill="#8d1a1e"/><polygon points="852.9,704.8 851.5,703.8 850.0,702.7 848.6,701.6 850.3,693.2 851.6,694.2 853.0,695.2 854.4,696.2" fill="#8c1a1e"/><polygon points="849.6,702.4 848.2,701.3 846.7,700.2 845.3,699.1 847.1,690.7 848.5,691.8 849.8,692.9 851.2,693.9" fill="#8c1a1e"/><polygon points="846.3,699.9 844.9,698.8 843.5,697.7 842.1,696.5 844.0,688.3 845.3,689.3 846.7,690.4 848.1,691.5" fill="#8b1a1e"/><polygon points="843.0,697.3 841.6,696.2 840.2,695.0 838.9,693.9 840.9,685.7 842.3,686.8 843.6,687.9 844.9,689.0" fill="#8b1a1e"/><polygon points="839.8,694.7 838.4,693.5 837.1,692.3 835.7,691.2 837.9,683.1 839.2,684.2 840.5,685.4 841.8,686.5" fill="#8b1a1e"/><polygon points="836.6,692.0 835.3,690.8 833.9,689.6 832.6,688.4 834.9,680.4 836.2,681.6 837.5,682.7 838.8,683.9" fill="#8a191d"/><polygon points="833.5,689.2 832.2,688.0 830.8,686.8 829.5,685.5 832.0,677.7 833.2,678.9 834.5,680.0 835.8,681.2" fill="#8a191d"/><polygon points="830.4,686.4 829.1,685.1 827.8,683.9 826.5,682.6 829.0,674.8 830.3,676.1 831.6,677.3 832.8,678.5" fill="#8a191d"/><polygon points="827.4,683.5 826.1,682.2 824.8,680.9 823.5,679.6 826.2,672.0 827.4,673.2 828.7,674.5 829.9,675.7" fill="#89191d"/><polygon points="824.4,680.5 823.1,679.2 821.8,677.9 820.5,676.6 823.4,669.1 824.6,670.3 825.8,671.6 827.0,672.8" fill="#89191d"/><polygon points="821.4,677.5 820.1,676.1 818.9,674.8 817.6,673.4 820.6,666.1 821.8,667.4 823.0,668.7 824.2,669.9" fill="#89191d"/><polygon points="818.5,674.4 817.2,673.0 816.0,671.7 814.8,670.3 817.9,663.0 819.0,664.4 820.2,665.7 821.4,667.0" fill="#88191d"/><polygon points="815.6,671.2 814.4,669.9 813.2,668.5 812.0,667.0 815.2,659.9 816.3,661.3 817.5,662.6 818.7,663.9" fill="#88191d"/><polygon points="812.8,668.0 811.6,666.6 810.4,665.2 809.2,663.8 812.5,656.8 813.7,658.1 814.8,659.5 816.0,660.9" fill="#88191d"/><polygon points="810.1,664.8 808.9,663.3 807.7,661.9 806.5,660.4 810.0,653.6 811.1,655.0 812.2,656.3 813.3,657.7" fill="#87181c"/><polygon points="807.3,661.4 806.2,660.0 805.0,658.5 803.9,657.0 807.4,650.3 808.5,651.7 809.6,653.1 810.7,654.5" fill="#87181c"/><polygon points="804.7,658.0 803.5,656.6 802.4,655.1 801.3,653.5 804.9,647.0 806.0,648.4 807.1,649.8 808.2,651.3" fill="#87181c"/><polygon points="802.1,654.6 801.0,653.1 799.9,651.6 798.8,650.0 802.5,643.6 803.6,645.1 804.6,646.5 805.7,648.0" fill="#86181c"/><polygon points="799.5,651.1 798.4,649.6 797.3,648.0 796.3,646.5 800.1,640.2 801.2,641.7 802.2,643.1 803.2,644.6" fill="#86181c"/><polygon points="797.0,647.5 796.0,646.0 794.9,644.4 793.9,642.8 797.8,636.7 798.8,638.2 799.8,639.7 800.8,641.2" fill="#86181c"/><polygon points="794.6,643.9 793.5,642.4 792.5,640.8 791.5,639.2 795.5,633.2 796.5,634.7 797.5,636.2 798.5,637.7" fill="#85181c"/><polygon points="792.2,640.3 791.2,638.7 790.2,637.1 789.2,635.5 793.3,629.6 794.3,631.2 795.2,632.7 796.2,634.2" fill="#85181c"/><polygon points="789.9,636.6 788.9,635.0 787.9,633.3 786.9,631.7 791.2,626.0 792.1,627.6 793.0,629.1 794.0,630.7" fill="#85181c"/><polygon points="787.6,632.8 786.6,631.2 785.7,629.5 784.7,627.9 789.1,622.3 790.0,623.9 790.9,625.5 791.8,627.1" fill="#84171b"/><polygon points="785.4,629.0 784.4,627.4 783.5,625.7 782.6,624.0 787.0,618.6 787.9,620.2 788.8,621.8 789.7,623.4" fill="#84171b"/><polygon points="783.2,625.2 782.3,623.5 781.4,621.8 780.5,620.1 785.1,614.9 785.9,616.5 786.8,618.1 787.6,619.7" fill="#84171b"/><polygon points="781.1,621.3 780.3,619.6 779.4,617.9 778.5,616.1 783.1,611.1 784.0,612.7 784.8,614.4 785.6,616.0" fill="#83171b"/><polygon points="779.1,617.3 778.3,615.6 777.4,613.9 776.6,612.1 781.3,607.2 782.1,608.9 782.9,610.6 783.7,612.2" fill="#83171b"/><polygon points="777.2,613.3 776.3,611.6 775.5,609.9 774.7,608.1 779.5,603.4 780.2,605.1 781.0,606.7 781.8,608.4" fill="#83171b"/><polygon points="775.3,609.3 774.5,607.6 773.7,605.8 772.9,604.0 777.7,599.5 778.5,601.2 779.2,602.9 780.0,604.5" fill="#82171b"/><polygon points="773.4,605.3 772.7,603.5 771.9,601.7 771.1,599.9 776.1,595.5 776.8,597.2 777.5,598.9 778.3,600.6" fill="#82171b"/><polygon points="771.7,601.1 770.9,599.4 770.2,597.6 769.5,595.8 774.5,591.5 775.1,593.3 775.8,595.0 776.6,596.7" fill="#82171b"/><polygon points="770.0,597.0 769.2,595.2 768.5,593.4 767.8,591.6 772.9,587.5 773.6,589.3 774.2,591.0 774.9,592.7" fill="#81161a"/><polygon points="768.3,592.8 767.6,591.0 767.0,589.2 766.3,587.3 771.4,583.5 772.1,585.2 772.7,587.0 773.4,588.7" fill="#81161a"/><polygon points="766.8,588.6 766.1,586.8 765.5,584.9 764.8,583.1 770.0,579.4 770.6,581.2 771.2,582.9 771.9,584.7" fill="#81161a"/><polygon points="765.3,584.4 764.6,582.5 764.0,580.7 763.4,578.8 768.7,575.3 769.2,577.1 769.8,578.8 770.4,580.6" fill="#80161a"/><polygon points="763.8,580.1 763.2,578.2 762.6,576.4 762.1,574.5 767.4,571.1 767.9,572.9 768.5,574.7 769.1,576.5" fill="#80161a"/><polygon points="762.5,575.8 761.9,573.9 761.3,572.0 760.8,570.1 766.2,567.0 766.7,568.8 767.2,570.6 767.8,572.4" fill="#80161a"/><polygon points="761.2,571.4 760.6,569.6 760.1,567.7 759.6,565.8 765.0,562.8 765.5,564.6 766.0,566.4 766.5,568.2" fill="#7f161a"/><polygon points="759.9,567.1 759.4,565.2 758.9,563.3 758.5,561.4 763.9,558.6 764.4,560.4 764.9,562.2 765.4,564.0" fill="#7f161a"/><polygon points="758.8,562.7 758.3,560.8 757.9,558.9 757.4,556.9 762.9,554.3 763.3,556.2 763.8,558.0 764.2,559.8" fill="#7f161a"/><polygon points="757.7,558.3 757.3,556.4 756.8,554.4 756.4,552.5 762.0,550.1 762.4,551.9 762.8,553.8 763.2,555.6" fill="#7e1519"/><polygon points="756.7,553.8 756.3,551.9 755.9,550.0 755.5,548.0 761.1,545.8 761.5,547.7 761.9,549.5 762.2,551.4" fill="#7e1519"/><polygon points="755.8,549.4 755.4,547.4 755.0,545.5 754.7,543.6 760.3,541.5 760.6,543.4 761.0,545.2 761.4,547.1" fill="#7e1519"/><polygon points="754.9,544.9 754.6,543.0 754.2,541.0 753.9,539.1 759.6,537.2 759.9,539.1 760.2,540.9 760.5,542.8" fill="#7d1519"/><polygon points="754.1,540.4 753.8,538.5 753.5,536.5 753.2,534.5 758.9,532.9 759.2,534.7 759.5,536.6 759.8,538.5" fill="#7d1519"/><polygon points="753.4,535.9 753.1,533.9 752.8,532.0 752.6,530.0 758.3,528.5 758.5,530.4 758.8,532.3 759.1,534.2" fill="#7d1519"/><polygon points="752.8,531.4 752.5,529.4 752.3,527.4 752.0,525.5 757.8,524.2 758.0,526.1 758.2,527.9 758.5,529.8" fill="#7d1519"/><polygon points="752.2,526.8 752.0,524.9 751.7,522.9 751.5,520.9 757.3,519.8 757.5,521.7 757.7,523.6 757.9,525.5" fill="#7c1519"/><polygon points="751.7,522.3 751.5,520.3 751.3,518.3 751.1,516.3 756.9,515.4 757.1,517.3 757.3,519.2 757.4,521.1" fill="#7c1519"/><polygon points="751.3,517.7 751.1,515.7 750.9,513.8 750.8,511.8 756.6,511.0 756.7,512.9 756.9,514.8 757.0,516.7" fill="#7c1519"/><polygon points="750.9,513.1 750.8,511.2 750.7,509.2 750.6,507.2 756.4,506.7 756.5,508.6 756.6,510.5 756.7,512.4" fill="#7b1418"/><polygon points="750.6,508.6 750.5,506.6 750.5,504.6 750.4,502.6 756.2,502.3 756.3,504.2 756.3,506.1 756.4,508.0" fill="#7b1418"/><polygon points="750.4,504.0 750.4,502.0 750.3,500.0 750.3,498.0 756.1,497.9 756.1,499.8 756.2,501.7 756.2,503.6" fill="#7b1418"/><polygon points="750.3,499.4 750.3,497.4 750.3,495.4 750.3,493.4 756.1,493.5 756.1,495.4 756.1,497.3 756.1,499.2" fill="#7a1418"/><polygon points="750.3,494.8 750.3,492.8 750.3,490.8 750.3,488.8 756.1,489.1 756.1,491.0 756.1,492.9 756.1,494.8" fill="#7a1418"/><polygon points="750.3,490.2 750.3,488.2 750.4,486.3 750.4,484.3 756.2,484.7 756.2,486.6 756.1,488.5 756.1,490.4" fill="#7a1418"/><polygon points="750.4,485.6 750.4,483.7 750.5,481.7 750.6,479.7 756.4,480.3 756.3,482.2 756.3,484.1 756.2,486.0" fill="#7b1418"/><polygon points="750.5,481.1 750.6,479.1 750.8,477.1 750.9,475.1 756.7,475.9 756.6,477.8 756.4,479.7 756.4,481.6" fill="#7b1418"/><polygon points="750.8,476.5 750.9,474.5 751.1,472.5 751.2,470.5 757.0,471.5 756.9,473.4 756.7,475.3 756.6,477.2" fill="#7b1519"/><polygon points="751.1,471.9 751.3,469.9 751.5,468.0 751.6,466.0 757.4,467.2 757.2,469.1 757.1,471.0 756.9,472.9" fill="#7c1519"/><polygon points="751.5,467.3 751.7,465.4 751.9,463.4 752.1,461.4 757.9,462.8 757.7,464.7 757.5,466.6 757.3,468.5" fill="#7c1519"/><polygon points="752.0,462.8 752.2,460.8 752.4,458.8 752.7,456.9 758.4,458.5 758.2,460.3 757.9,462.2 757.7,464.1" fill="#7c1519"/><polygon points="752.5,458.2 752.8,456.3 753.1,454.3 753.3,452.4 759.0,454.1 758.8,456.0 758.5,457.9 758.2,459.8" fill="#7d1519"/><polygon points="753.1,453.7 753.4,451.8 753.7,449.8 754.1,447.8 759.7,449.8 759.4,451.7 759.1,453.5 758.8,455.4" fill="#7d1519"/><polygon points="753.8,449.2 754.2,447.2 754.5,445.3 754.8,443.3 760.5,445.5 760.1,447.4 759.8,449.2 759.5,451.1" fill="#7d1519"/><polygon points="754.6,444.7 754.9,442.8 755.3,440.8 755.7,438.9 761.3,441.2 760.9,443.1 760.6,444.9 760.2,446.8" fill="#7e1519"/><polygon points="755.4,440.2 755.8,438.3 756.2,436.3 756.6,434.4 762.2,436.9 761.8,438.8 761.4,440.6 761.0,442.5" fill="#7e1519"/><polygon points="756.3,435.8 756.8,433.8 757.2,431.9 757.6,430.0 763.1,432.7 762.7,434.5 762.3,436.4 761.9,438.2" fill="#7e161a"/><polygon points="757.3,431.3 757.8,429.4 758.2,427.5 758.7,425.6 764.2,428.4 763.7,430.3 763.3,432.1 762.8,433.9" fill="#7f161a"/><polygon points="758.4,426.9 758.9,425.0 759.3,423.1 759.8,421.2 765.3,424.2 764.8,426.1 764.3,427.9 763.8,429.7" fill="#7f161a"/><polygon points="759.5,422.5 760.0,420.6 760.5,418.7 761.1,416.8 766.4,420.1 765.9,421.9 765.4,423.7 764.9,425.5" fill="#7f161a"/><polygon points="760.7,418.1 761.2,416.2 761.8,414.4 762.4,412.5 767.6,415.9 767.1,417.7 766.6,419.5 766.1,421.3" fill="#80161a"/><polygon points="762.0,413.8 762.5,411.9 763.1,410.0 763.7,408.2 768.9,411.8 768.4,413.6 767.8,415.3 767.3,417.1" fill="#80161a"/><polygon points="763.3,409.5 763.9,407.6 764.5,405.7 765.1,403.9 770.3,407.7 769.7,409.4 769.1,411.2 768.6,413.0" fill="#80161a"/><polygon points="764.7,405.2 765.3,403.3 766.0,401.5 766.6,399.6 771.7,403.6 771.1,405.4 770.5,407.1 769.9,408.9" fill="#81161a"/><polygon points="766.2,400.9 766.8,399.1 767.5,397.3 768.2,395.4 773.2,399.6 772.6,401.3 771.9,403.1 771.3,404.8" fill="#81171b"/><polygon points="767.7,396.7 768.4,394.9 769.1,393.1 769.8,391.3 774.8,395.6 774.1,397.3 773.4,399.0 772.8,400.8" fill="#81171b"/><polygon points="769.3,392.5 770.0,390.7 770.8,388.9 771.5,387.1 776.4,391.6 775.7,393.3 775.0,395.0 774.3,396.8" fill="#81171b"/><polygon points="771.0,388.4 771.7,386.6 772.5,384.8 773.3,383.0 778.1,387.7 777.4,389.4 776.6,391.1 775.9,392.8" fill="#82171b"/><polygon points="772.7,384.2 773.5,382.5 774.3,380.7 775.1,378.9 779.9,383.8 779.1,385.4 778.3,387.1 777.6,388.8" fill="#82171b"/><polygon points="774.5,380.2 775.4,378.4 776.2,376.7 777.0,374.9 781.7,379.9 780.9,381.6 780.1,383.2 779.3,384.9" fill="#82171b"/><polygon points="776.4,376.1 777.3,374.4 778.1,372.7 779.0,370.9 783.5,376.1 782.7,377.7 781.9,379.4 781.1,381.1" fill="#83171b"/><polygon points="778.4,372.1 779.2,370.4 780.1,368.7 781.0,367.0 785.5,372.3 784.6,373.9 783.8,375.6 783.0,377.2" fill="#83171b"/><polygon points="780.4,368.2 781.2,366.5 782.1,364.8 783.1,363.1 787.5,368.6 786.6,370.2 785.7,371.8 784.9,373.4" fill="#83181c"/><polygon points="782.4,364.3 783.3,362.6 784.3,360.9 785.2,359.3 789.5,364.9 788.6,366.5 787.7,368.1 786.9,369.7" fill="#84181c"/><polygon points="784.5,360.4 785.5,358.7 786.4,357.1 787.4,355.5 791.6,361.2 790.7,362.8 789.8,364.4 788.9,366.0" fill="#84181c"/><polygon points="786.7,356.6 787.7,355.0 788.7,353.3 789.7,351.7 793.8,357.6 792.8,359.2 791.9,360.7 791.0,362.3" fill="#84181c"/><polygon points="789.0,352.8 790.0,351.2 791.0,349.6 792.0,348.0 796.0,354.1 795.0,355.6 794.1,357.1 793.1,358.7" fill="#85181c"/><polygon points="791.3,349.1 792.3,347.5 793.3,345.9 794.4,344.3 798.3,350.6 797.3,352.1 796.3,353.6 795.3,355.1" fill="#85181c"/><polygon points="793.6,345.4 794.7,343.9 795.7,342.3 796.8,340.7 800.6,347.1 799.6,348.6 798.6,350.1 797.6,351.6" fill="#85181c"/><polygon points="796.1,341.8 797.1,340.3 798.2,338.7 799.3,337.2 803.0,343.7 802.0,345.2 800.9,346.6 799.9,348.1" fill="#86181c"/><polygon points="798.5,338.2 799.6,336.7 800.7,335.2 801.8,333.7 805.5,340.3 804.4,341.8 803.3,343.2 802.3,344.7" fill="#86181c"/><polygon points="801.1,334.7 802.2,333.2 803.3,331.7 804.4,330.2 808.0,337.0 806.9,338.5 805.8,339.9 804.7,341.3" fill="#86191d"/><polygon points="803.7,331.3 804.8,329.8 805.9,328.3 807.1,326.9 810.5,333.8 809.4,335.2 808.3,336.6 807.2,338.0" fill="#87191d"/><polygon points="806.3,327.9 807.5,326.4 808.6,325.0 809.8,323.5 813.1,330.6 812.0,332.0 810.8,333.4 809.7,334.8" fill="#87191d"/><polygon points="809.0,324.5 810.2,323.1 811.4,321.7 812.6,320.3 815.7,327.5 814.6,328.8 813.4,330.2 812.3,331.5" fill="#87191d"/><polygon points="811.7,321.2 812.9,319.8 814.2,318.4 815.4,317.1 818.4,324.4 817.3,325.7 816.1,327.0 814.9,328.4" fill="#88191d"/><polygon points="814.5,318.0 815.8,316.6 817.0,315.3 818.2,313.9 821.2,321.3 820.0,322.7 818.8,324.0 817.6,325.3" fill="#88191d"/><polygon points="817.4,314.8 818.6,313.5 819.9,312.1 821.1,310.8 823.9,318.4 822.7,319.7 821.5,320.9 820.3,322.2" fill="#88191d"/><polygon points="820.3,311.7 821.5,310.4 822.8,309.1 824.1,307.8 826.8,315.5 825.5,316.7 824.3,318.0 823.1,319.3" fill="#89191d"/><polygon points="823.2,308.7 824.5,307.4 825.8,306.1 827.1,304.8 829.7,312.6 828.4,313.9 827.2,315.1 825.9,316.3" fill="#891a1e"/><polygon points="826.2,305.7 827.5,304.4 828.8,303.2 830.1,301.9 832.6,309.8 831.3,311.0 830.0,312.3 828.8,313.5" fill="#891a1e"/><polygon points="829.2,302.8 830.5,301.5 831.9,300.3 833.2,299.1 835.5,307.1 834.2,308.3 833.0,309.5 831.7,310.7" fill="#8a1a1e"/><polygon points="832.3,299.9 833.8,298.5 835.4,297.1 837.6,305.2 836.1,306.6 834.6,307.9" fill="#8a1a1e"/><polygon points="747.6,179.8 749.8,177.9 752.1,176.1 754.4,174.3 756.6,172.5 758.9,170.7 761.2,169.0 752.5,161.9 750.2,163.7 747.8,165.5 745.5,167.4 743.1,169.2 740.8,171.1 738.5,173.0" fill="#f0b400" stroke="#f0b400" stroke-width="0.6"/><polygon points="835.4,297.1 836.8,295.9 838.2,294.8 839.6,293.6 841.0,292.4 842.4,291.3 843.8,290.1 845.7,298.5 844.3,299.6 843.0,300.7 841.6,301.8 840.3,302.9 838.9,304.1 837.6,305.2" fill="#c89000" stroke="#c89000" stroke-width="0.6"/><polygon points="761.2,169.0 763.9,167.0 766.5,165.1 769.2,163.2 771.8,161.3 774.5,159.5 777.2,157.7 779.9,155.9 782.6,154.1 785.4,152.4 788.1,150.7 790.9,149.0 793.6,147.4 796.4,145.8 799.2,144.2 802.0,142.7 804.8,141.1 807.6,139.7 810.5,138.2 813.3,136.8 816.2,135.4 819.0,134.0 821.9,132.6 814.6,125.0 811.7,126.3 808.7,127.7 805.8,129.1 802.9,130.6 800.0,132.1 797.1,133.6 794.3,135.1 791.4,136.7 788.5,138.3 785.7,140.0 782.9,141.6 780.0,143.3 777.2,145.1 774.4,146.8 771.7,148.6 768.9,150.4 766.1,152.3 763.4,154.2 760.6,156.1 757.9,158.0 755.2,160.0 752.5,161.9" fill="#2b84a0" stroke="#2b84a0" stroke-width="0.6"/><polygon points="843.8,290.1 845.4,288.8 847.1,287.6 848.7,286.3 850.3,285.1 852.0,283.9 853.7,282.7 855.3,281.6 857.0,280.4 858.7,279.3 860.4,278.2 862.1,277.1 863.8,276.0 865.5,274.9 867.2,273.9 869.0,272.8 870.7,271.8 872.5,270.8 874.2,269.8 876.0,268.9 877.8,267.9 879.5,267.0 881.3,266.1 881.6,275.4 879.9,276.3 878.2,277.1 876.5,278.1 874.8,279.0 873.2,279.9 871.5,280.9 869.8,281.8 868.1,282.8 866.5,283.8 864.8,284.9 863.2,285.9 861.6,287.0 859.9,288.1 858.3,289.1 856.7,290.3 855.1,291.4 853.5,292.5 851.9,293.7 850.4,294.9 848.8,296.1 847.2,297.3 845.7,298.5" fill="#2a7088" stroke="#2a7088" stroke-width="0.6"/><polygon points="821.9,132.6 823.4,132.0 824.8,131.3 817.6,123.6 816.1,124.3 814.6,125.0" fill="#2c5470" stroke="#2c5470" stroke-width="0.6"/><polygon points="881.3,266.1 882.2,265.7 883.1,265.2 883.4,274.5 882.5,275.0 881.6,275.4" fill="#2e3a46" stroke="#2e3a46" stroke-width="0.6"/><polygon points="824.8,131.3 827.7,130.0 830.5,128.8 833.4,127.6 836.3,126.4 839.2,125.3 842.1,124.1 845.0,123.1 847.9,122.0 850.8,121.0 853.7,120.0 856.6,119.0 859.6,118.0 862.5,117.1 865.4,116.3 868.4,115.4 871.3,114.6 874.3,113.8 877.2,113.0 880.2,112.3 883.1,111.6 886.1,110.9 889.1,110.3 892.1,109.6 895.0,109.1 898.0,108.5 901.0,108.0 904.0,107.5 907.0,107.0 909.9,106.6 912.9,106.2 915.9,105.8 918.9,105.4 921.9,105.1 924.9,104.8 927.9,104.6 930.8,104.3 933.8,104.1 936.8,104.0 939.8,103.8 942.8,103.7 945.8,103.6 941.3,95.6 938.2,95.6 935.2,95.8 932.1,95.9 929.1,96.1 926.0,96.3 923.0,96.5 919.9,96.8 916.8,97.0 913.8,97.4 910.7,97.7 907.7,98.1 904.6,98.5 901.6,98.9 898.5,99.4 895.5,99.9 892.4,100.4 889.4,101.0 886.4,101.6 883.3,102.2 880.3,102.9 877.3,103.6 874.2,104.3 871.2,105.0 868.2,105.8 865.2,106.6 862.1,107.4 859.1,108.3 856.1,109.2 853.1,110.1 850.1,111.1 847.1,112.1 844.1,113.1 841.2,114.1 838.2,115.2 835.2,116.3 832.3,117.4 829.3,118.6 826.4,119.8 823.4,121.0 820.5,122.3 817.6,123.6" fill="#753206" stroke="#753206" stroke-width="0.6"/><polygon points="883.1,265.2 884.9,264.4 886.7,263.5 888.5,262.7 890.3,261.9 892.1,261.1 893.9,260.3 895.7,259.6 897.5,258.9 899.3,258.1 901.2,257.4 903.0,256.8 904.8,256.1 906.7,255.5 908.5,254.9 910.3,254.3 912.2,253.7 914.0,253.1 915.9,252.6 917.8,252.0 919.6,251.5 921.5,251.0 923.4,250.5 925.2,250.1 927.1,249.7 929.0,249.2 930.9,248.8 932.7,248.5 934.6,248.1 936.5,247.8 938.4,247.4 940.3,247.1 942.2,246.8 944.1,246.6 945.9,246.3 947.8,246.1 949.7,245.9 951.6,245.7 953.5,245.5 955.4,245.3 957.3,245.2 959.2,245.1 956.4,255.0 954.6,255.2 952.8,255.3 951.0,255.4 949.1,255.6 947.3,255.8 945.5,256.0 943.7,256.2 941.9,256.5 940.0,256.8 938.2,257.0 936.4,257.3 934.6,257.6 932.8,258.0 931.0,258.3 929.2,258.7 927.4,259.1 925.6,259.5 923.8,259.9 922.0,260.4 920.2,260.8 918.4,261.3 916.6,261.8 914.8,262.3 913.0,262.8 911.3,263.4 909.5,263.9 907.7,264.5 906.0,265.1 904.2,265.7 902.4,266.4 900.7,267.0 898.9,267.7 897.2,268.4 895.4,269.1 893.7,269.8 892.0,270.6 890.2,271.3 888.5,272.1 886.8,272.9 885.1,273.7 883.4,274.5" fill="#6f2d07" stroke="#6f2d07" stroke-width="0.6"/><polygon points="945.8,103.6 948.8,103.6 951.8,103.5 954.8,103.5 957.8,103.6 960.8,103.6 963.8,103.7 966.8,103.8 969.8,104.0 972.8,104.2 975.7,104.4 978.7,104.6 981.7,104.9 984.7,105.2 987.6,105.5 990.6,105.8 993.6,106.2 996.5,106.6 999.5,107.1 1002.4,107.5 1005.3,108.0 1008.3,108.5 1011.2,109.1 1014.1,109.7 1017.0,110.3 1019.9,110.9 1022.8,111.6 1025.7,112.2 1028.6,113.0 1031.5,113.7 1034.3,114.5 1037.2,115.3 1040.0,116.1 1042.9,116.9 1045.7,117.8 1048.6,118.7 1051.4,119.6 1054.2,120.6 1057.0,121.6 1059.8,122.6 1062.5,123.6 1065.3,124.6 1068.1,125.7 1070.8,126.8 1073.6,128.0 1076.3,129.1 1079.0,130.3 1081.7,131.5 1084.4,132.8 1087.1,134.0 1089.8,135.3 1092.4,136.6 1095.1,137.9 1097.7,139.3 1100.4,140.7 1103.0,142.1 1105.6,143.5 1108.2,144.9 1110.8,146.4 1113.3,147.9 1115.9,149.4 1118.4,151.0 1120.9,152.5 1123.5,154.1 1126.0,155.7 1128.4,157.4 1130.9,159.0 1133.4,160.7 1135.8,162.4 1138.3,164.1 1140.7,165.9 1143.1,167.6 1145.5,169.4 1145.1,163.0 1142.7,161.2 1140.2,159.4 1137.8,157.6 1135.3,155.9 1132.8,154.1 1130.3,152.4 1127.7,150.7 1125.2,149.1 1122.7,147.4 1120.1,145.8 1117.5,144.2 1114.9,142.6 1112.3,141.1 1109.7,139.5 1107.1,138.0 1104.4,136.5 1101.8,135.1 1099.1,133.6 1096.4,132.2 1093.7,130.8 1091.0,129.5 1088.3,128.1 1085.6,126.8 1082.8,125.5 1080.1,124.3 1077.3,123.0 1074.5,121.8 1071.8,120.7 1069.0,119.5 1066.2,118.4 1063.3,117.2 1060.5,116.2 1057.7,115.1 1054.8,114.1 1052.0,113.1 1049.1,112.1 1046.2,111.1 1043.3,110.2 1040.5,109.3 1037.5,108.5 1034.6,107.6 1031.7,106.8 1028.8,106.0 1025.9,105.2 1022.9,104.5 1020.0,103.8 1017.0,103.1 1014.0,102.5 1011.1,101.9 1008.1,101.3 1005.1,100.7 1002.1,100.2 999.1,99.7 996.1,99.2 993.1,98.7 990.1,98.3 987.1,97.9 984.0,97.6 981.0,97.2 978.0,96.9 974.9,96.6 971.9,96.4 968.8,96.2 965.8,96.0 962.7,95.8 959.7,95.7 956.6,95.6 953.5,95.5 950.5,95.5 947.4,95.5 944.3,95.5 941.3,95.6" fill="#587a22" stroke="#587a22" stroke-width="0.6"/><polygon points="959.2,245.1 961.1,245.0 963.0,244.9 964.9,244.8 966.9,244.8 968.8,244.8 970.7,244.8 972.6,244.8 974.5,244.8 976.4,244.8 978.3,244.9 980.2,245.0 982.1,245.1 984.0,245.2 985.9,245.4 987.8,245.5 989.7,245.7 991.6,245.9 993.5,246.1 995.4,246.3 997.3,246.6 999.2,246.9 1001.0,247.1 1002.9,247.4 1004.8,247.8 1006.7,248.1 1008.5,248.5 1010.4,248.8 1012.2,249.2 1014.1,249.6 1015.9,250.1 1017.8,250.5 1019.6,251.0 1021.5,251.5 1023.3,252.0 1025.1,252.5 1027.0,253.0 1028.8,253.6 1030.6,254.2 1032.4,254.7 1034.2,255.3 1036.0,256.0 1037.8,256.6 1039.6,257.3 1041.4,257.9 1043.1,258.6 1044.9,259.3 1046.7,260.0 1048.4,260.8 1050.2,261.5 1051.9,262.3 1053.7,263.1 1055.4,263.9 1057.1,264.7 1058.8,265.6 1060.6,266.4 1062.3,267.3 1063.9,268.2 1065.6,269.1 1067.3,270.0 1069.0,270.9 1070.7,271.9 1072.3,272.8 1074.0,273.8 1075.6,274.8 1077.2,275.8 1078.9,276.8 1080.5,277.9 1082.1,278.9 1083.7,280.0 1085.3,281.1 1086.9,282.2 1088.4,283.3 1080.7,291.5 1079.2,290.4 1077.7,289.3 1076.2,288.3 1074.6,287.3 1073.1,286.3 1071.5,285.3 1070.0,284.3 1068.4,283.3 1066.8,282.4 1065.2,281.4 1063.6,280.5 1062.0,279.6 1060.4,278.7 1058.8,277.8 1057.2,277.0 1055.5,276.1 1053.9,275.3 1052.2,274.5 1050.6,273.7 1048.9,272.9 1047.3,272.1 1045.6,271.4 1043.9,270.6 1042.2,269.9 1040.5,269.2 1038.8,268.5 1037.1,267.8 1035.4,267.2 1033.7,266.5 1032.0,265.9 1030.3,265.3 1028.5,264.7 1026.8,264.1 1025.1,263.6 1023.3,263.0 1021.6,262.5 1019.8,262.0 1018.0,261.5 1016.3,261.0 1014.5,260.6 1012.7,260.1 1011.0,259.7 1009.2,259.3 1007.4,258.9 1005.6,258.5 1003.8,258.2 1002.0,257.8 1000.2,257.5 998.4,257.2 996.6,256.9 994.8,256.6 993.0,256.4 991.2,256.1 989.4,255.9 987.6,255.7 985.7,255.5 983.9,255.4 982.1,255.2 980.3,255.1 978.4,255.0 976.6,254.9 974.8,254.8 972.9,254.8 971.1,254.7 969.3,254.7 967.4,254.7 965.6,254.7 963.8,254.7 961.9,254.8 960.1,254.8 958.3,254.9 956.4,255.0" fill="#709a34"/><polygon points="959.2,245.1 960.9,245.0 962.5,244.9 964.2,244.9 961.2,254.8 959.6,254.9 958.0,254.9 956.4,255.0" fill="#5e8326"/><polygon points="963.0,244.9 964.7,244.8 966.4,244.8 968.0,244.8 964.9,254.7 963.3,254.7 961.7,254.8 960.1,254.8" fill="#5f8427"/><polygon points="966.9,244.8 968.5,244.8 970.2,244.8 971.8,244.8 968.6,254.7 967.0,254.7 965.4,254.7 963.8,254.7" fill="#608528"/><polygon points="970.7,244.8 972.3,244.8 974.0,244.8 975.7,244.8 972.2,254.7 970.6,254.7 969.0,254.7 967.4,254.7" fill="#618628"/><polygon points="974.5,244.8 976.2,244.8 977.8,244.9 979.5,245.0 975.9,254.9 974.3,254.8 972.7,254.7 971.1,254.7" fill="#628729"/><polygon points="978.3,244.9 980.0,245.0 981.6,245.1 983.3,245.2 979.5,255.0 978.0,255.0 976.4,254.9 974.8,254.8" fill="#638829"/><polygon points="982.1,245.1 983.8,245.2 985.4,245.3 987.1,245.4 983.2,255.3 981.6,255.2 980.0,255.1 978.4,255.0" fill="#64892a"/><polygon points="985.9,245.4 987.6,245.5 989.2,245.6 990.9,245.8 986.8,255.6 985.3,255.5 983.7,255.4 982.1,255.2" fill="#648a2b"/><polygon points="989.7,245.7 991.4,245.9 993.0,246.0 994.6,246.2 990.5,256.1 988.9,255.9 987.3,255.7 985.7,255.5" fill="#658b2b"/><polygon points="993.5,246.1 995.1,246.3 996.8,246.5 998.4,246.7 994.1,256.5 992.5,256.3 991.0,256.1 989.4,255.9" fill="#668c2c"/><polygon points="997.3,246.6 998.9,246.8 1000.5,247.1 1002.2,247.3 997.7,257.1 996.1,256.8 994.6,256.6 993.0,256.4" fill="#678e2c"/><polygon points="1001.0,247.1 1002.7,247.4 1004.3,247.7 1005.9,248.0 1001.3,257.7 999.8,257.4 998.2,257.1 996.6,256.9" fill="#688f2d"/><polygon points="1004.8,247.8 1006.4,248.1 1008.0,248.4 1009.6,248.7 1004.9,258.4 1003.4,258.1 1001.8,257.8 1000.2,257.5" fill="#69902e"/><polygon points="1008.5,248.5 1010.1,248.8 1011.8,249.1 1013.4,249.5 1008.5,259.1 1006.9,258.8 1005.4,258.5 1003.8,258.2" fill="#6a912e"/><polygon points="1012.2,249.2 1013.9,249.6 1015.5,250.0 1017.1,250.3 1012.0,259.9 1010.5,259.6 1009.0,259.2 1007.4,258.9" fill="#6a922f"/><polygon points="1015.9,250.1 1017.6,250.5 1019.2,250.9 1020.8,251.3 1015.6,260.8 1014.1,260.4 1012.5,260.1 1011.0,259.7" fill="#6b9330"/><polygon points="1019.6,251.0 1021.2,251.4 1022.8,251.8 1024.4,252.3 1019.1,261.8 1017.6,261.4 1016.1,261.0 1014.5,260.6" fill="#6c9530"/><polygon points="1023.3,252.0 1024.9,252.4 1026.5,252.9 1028.1,253.4 1022.6,262.8 1021.1,262.4 1019.6,261.9 1018.0,261.5" fill="#6e9732"/><polygon points="1027.0,253.0 1028.5,253.5 1030.1,254.0 1031.7,254.5 1026.1,263.9 1024.6,263.4 1023.1,263.0 1021.6,262.5" fill="#709a34"/><polygon points="1030.6,254.2 1032.2,254.7 1033.7,255.2 1035.3,255.7 1029.6,265.1 1028.1,264.6 1026.6,264.1 1025.1,263.6" fill="#729d35"/><polygon points="1034.2,255.3 1035.8,255.9 1037.3,256.4 1038.9,257.0 1033.0,266.3 1031.5,265.7 1030.0,265.2 1028.5,264.7" fill="#749f37"/><polygon points="1037.8,256.6 1039.4,257.2 1040.9,257.8 1042.4,258.3 1036.5,267.6 1035.0,267.0 1033.5,266.5 1032.0,265.9" fill="#76a239"/><polygon points="1041.4,257.9 1042.9,258.5 1044.5,259.1 1046.0,259.8 1039.9,268.9 1038.4,268.3 1036.9,267.7 1035.4,267.2" fill="#78a43a"/><polygon points="1044.9,259.3 1046.4,260.0 1048.0,260.6 1049.5,261.2 1043.2,270.3 1041.8,269.7 1040.3,269.1 1038.8,268.5" fill="#7aa73c"/><polygon points="1048.4,260.8 1050.0,261.4 1051.5,262.1 1053.0,262.8 1046.6,271.8 1045.1,271.2 1043.7,270.5 1042.2,269.9" fill="#7caa3e"/><polygon points="1051.9,262.3 1053.4,263.0 1054.9,263.7 1056.4,264.4 1049.9,273.4 1048.5,272.7 1047.0,272.0 1045.6,271.4" fill="#7eac3f"/><polygon points="1055.4,263.9 1056.9,264.6 1058.4,265.3 1059.9,266.1 1053.2,275.0 1051.8,274.3 1050.4,273.6 1048.9,272.9" fill="#80af41"/><polygon points="1058.8,265.6 1060.3,266.3 1061.8,267.1 1063.3,267.8 1056.5,276.6 1055.1,275.9 1053.7,275.2 1052.2,274.5" fill="#82b243"/><polygon points="1062.3,267.3 1063.7,268.1 1065.2,268.8 1066.7,269.6 1059.8,278.4 1058.4,277.6 1056.9,276.9 1055.5,276.1" fill="#84b444"/><polygon points="1065.6,269.1 1067.1,269.9 1068.6,270.7 1070.0,271.5 1063.0,280.1 1061.6,279.4 1060.2,278.6 1058.8,277.8" fill="#86b645"/><polygon points="1069.0,270.9 1070.4,271.7 1071.9,272.6 1073.3,273.4 1066.2,282.0 1064.8,281.2 1063.4,280.4 1062.0,279.6" fill="#87b746"/><polygon points="1072.3,272.8 1073.7,273.7 1075.2,274.5 1076.6,275.4 1069.3,283.9 1068.0,283.1 1066.6,282.2 1065.2,281.4" fill="#89b947"/><polygon points="1075.6,274.8 1077.0,275.7 1078.4,276.6 1079.8,277.5 1072.5,285.9 1071.1,285.0 1069.7,284.2 1068.4,283.3" fill="#8abb48"/><polygon points="1078.9,276.8 1080.3,277.7 1081.7,278.6 1083.1,279.6 1075.6,287.9 1074.2,287.0 1072.9,286.1 1071.5,285.3" fill="#8bbc49"/><polygon points="1082.1,278.9 1083.5,279.9 1084.9,280.8 1086.2,281.7 1078.6,290.0 1077.3,289.1 1076.0,288.2 1074.6,287.3" fill="#8dbe4a"/><polygon points="1085.3,281.1 1086.9,282.2 1088.4,283.3 1080.7,291.5 1079.2,290.4 1077.7,289.3" fill="#8ebf4c"/><polygon points="1145.5,169.4 1147.8,171.2 1150.2,173.0 1152.5,174.9 1154.9,176.7 1157.2,178.6 1159.5,180.5 1161.8,182.5 1164.0,184.4 1166.3,186.4 1168.5,188.4 1170.8,190.4 1173.0,192.4 1175.2,194.5 1177.3,196.5 1179.5,198.6 1181.6,200.7 1183.7,202.8 1185.9,205.0 1187.9,207.1 1190.0,209.3 1192.1,211.5 1194.1,213.7 1196.1,215.9 1198.1,218.2 1200.1,220.4 1202.1,222.7 1204.1,225.0 1206.0,227.3 1207.9,229.7 1209.8,232.0 1211.7,234.4 1213.6,236.8 1215.4,239.2 1217.2,241.6 1219.0,244.0 1220.8,246.4 1222.6,248.9 1224.4,251.4 1225.5,246.7 1223.7,244.2 1221.9,241.7 1220.1,239.2 1218.3,236.7 1216.4,234.2 1214.5,231.8 1212.6,229.4 1210.7,227.0 1208.8,224.6 1206.8,222.2 1204.8,219.8 1202.8,217.5 1200.8,215.2 1198.8,212.8 1196.8,210.6 1194.7,208.3 1192.6,206.0 1190.5,203.8 1188.4,201.6 1186.3,199.4 1184.1,197.2 1182.0,195.0 1179.8,192.9 1177.6,190.7 1175.4,188.6 1173.1,186.5 1170.9,184.5 1168.6,182.4 1166.3,180.4 1164.1,178.4 1161.7,176.4 1159.4,174.4 1157.1,172.5 1154.7,170.5 1152.3,168.6 1149.9,166.7 1147.5,164.9 1145.1,163.0" fill="#6e1216" stroke="#6e1216" stroke-width="0.6"/><polygon points="1088.4,283.3 1090.0,284.4 1091.6,285.6 1093.1,286.7 1094.6,287.9 1096.2,289.1 1097.7,290.3 1099.2,291.5 1100.7,292.7 1102.2,293.9 1103.7,295.2 1105.1,296.5 1106.6,297.7 1108.0,299.0 1109.5,300.3 1110.9,301.7 1112.3,303.0 1113.7,304.3 1115.1,305.7 1116.5,307.1 1117.9,308.5 1119.3,309.8 1120.6,311.3 1122.0,312.7 1123.3,314.1 1124.6,315.6 1125.9,317.0 1127.2,318.5 1128.5,320.0 1129.8,321.4 1131.1,323.0 1132.3,324.5 1133.6,326.0 1134.8,327.5 1136.0,329.1 1137.2,330.6 1138.4,332.2 1139.6,333.8 1140.8,335.4 1131.2,341.4 1130.1,339.9 1128.9,338.4 1127.8,336.9 1126.6,335.4 1125.4,333.9 1124.2,332.4 1123.0,331.0 1121.8,329.5 1120.6,328.1 1119.4,326.6 1118.1,325.2 1116.9,323.8 1115.6,322.4 1114.3,321.0 1113.1,319.6 1111.8,318.3 1110.5,316.9 1109.1,315.6 1107.8,314.3 1106.5,312.9 1105.1,311.6 1103.8,310.4 1102.4,309.1 1101.0,307.8 1099.6,306.6 1098.2,305.3 1096.8,304.1 1095.4,302.9 1094.0,301.7 1092.5,300.5 1091.1,299.3 1089.7,298.1 1088.2,297.0 1086.7,295.9 1085.2,294.7 1083.7,293.6 1082.2,292.5 1080.7,291.5" fill="#ee686a" stroke="#ee686a" stroke-width="0.6"/><polygon points="1224.4,251.4 1226.1,253.8 1227.8,256.3 1229.5,258.9 1231.2,261.4 1232.9,263.9 1234.5,266.5 1236.1,269.1 1237.7,271.7 1239.3,274.2 1240.9,276.9 1242.4,279.5 1244.0,282.1 1245.5,284.8 1246.9,287.4 1248.4,290.1 1249.9,292.8 1251.3,295.5 1252.7,298.2 1254.1,300.9 1255.5,303.7 1256.8,306.4 1258.1,309.2 1259.5,311.9 1260.7,314.7 1262.0,317.5 1263.3,320.3 1264.5,323.1 1265.7,325.9 1266.9,328.8 1268.0,331.6 1269.2,334.5 1270.3,337.3 1271.4,340.2 1272.5,343.1 1273.6,345.9 1274.6,348.8 1275.6,351.7 1276.6,354.7 1277.6,357.6 1278.6,360.5 1279.5,363.4 1280.4,366.4 1281.3,369.3 1282.2,372.3 1283.1,375.3 1283.9,378.2 1284.7,381.2 1285.5,384.2 1286.3,387.2 1287.0,390.2 1287.7,393.2 1288.4,396.2 1289.1,399.2 1289.8,402.2 1290.4,405.3 1291.0,408.3 1291.6,411.3 1292.2,414.4 1292.8,417.4 1293.3,420.5 1293.8,423.5 1294.3,426.6 1294.8,429.6 1295.2,432.7 1295.7,435.8 1296.1,438.8 1296.4,441.9 1296.8,445.0 1299.3,444.1 1298.9,440.9 1298.6,437.8 1298.1,434.7 1297.7,431.5 1297.3,428.4 1296.8,425.3 1296.3,422.2 1295.8,419.1 1295.2,416.0 1294.6,412.9 1294.1,409.8 1293.5,406.7 1292.8,403.6 1292.2,400.5 1291.5,397.4 1290.8,394.4 1290.1,391.3 1289.3,388.2 1288.6,385.2 1287.8,382.1 1287.0,379.1 1286.2,376.0 1285.3,373.0 1284.4,370.0 1283.6,367.0 1282.6,364.0 1281.7,361.0 1280.8,358.0 1279.8,355.0 1278.8,352.0 1277.8,349.1 1276.7,346.1 1275.7,343.1 1274.6,340.2 1273.5,337.3 1272.3,334.3 1271.2,331.4 1270.0,328.5 1268.8,325.6 1267.6,322.8 1266.4,319.9 1265.2,317.0 1263.9,314.2 1262.6,311.3 1261.3,308.5 1259.9,305.7 1258.6,302.8 1257.2,300.0 1255.8,297.3 1254.4,294.5 1253.0,291.7 1251.5,289.0 1250.0,286.2 1248.5,283.5 1247.0,280.8 1245.5,278.1 1243.9,275.4 1242.4,272.7 1240.8,270.0 1239.1,267.4 1237.5,264.8 1235.9,262.1 1234.2,259.5 1232.5,256.9 1230.8,254.4 1229.1,251.8 1227.3,249.2 1225.5,246.7" fill="#7a5a00" stroke="#7a5a00" stroke-width="0.6"/><polygon points="1140.8,335.4 1141.9,337.0 1143.1,338.6 1144.2,340.2 1145.4,341.8 1146.5,343.5 1147.6,345.1 1148.7,346.8 1149.7,348.5 1150.8,350.1 1151.8,351.8 1152.9,353.5 1153.9,355.2 1154.9,357.0 1155.9,358.7 1156.9,360.4 1157.9,362.2 1158.8,363.9 1159.8,365.7 1160.7,367.5 1161.6,369.2 1162.5,371.0 1163.4,372.8 1164.3,374.6 1165.2,376.4 1166.0,378.2 1166.9,380.1 1167.7,381.9 1168.5,383.7 1169.3,385.6 1170.1,387.4 1170.9,389.3 1171.6,391.2 1172.4,393.0 1173.1,394.9 1173.8,396.8 1174.5,398.7 1175.2,400.6 1175.9,402.5 1176.5,404.4 1177.2,406.3 1177.8,408.2 1178.4,410.2 1179.0,412.1 1179.6,414.0 1180.2,416.0 1180.8,417.9 1181.3,419.9 1181.9,421.8 1182.4,423.8 1182.9,425.8 1183.4,427.7 1183.9,429.7 1184.3,431.7 1184.8,433.7 1185.2,435.7 1185.6,437.7 1186.0,439.6 1186.4,441.6 1186.8,443.6 1187.1,445.6 1187.5,447.7 1187.8,449.7 1188.1,451.7 1188.4,453.7 1188.7,455.7 1189.0,457.7 1189.3,459.8 1189.5,461.8 1178.2,463.0 1178.0,461.1 1177.7,459.1 1177.4,457.2 1177.2,455.2 1176.9,453.3 1176.6,451.4 1176.2,449.4 1175.9,447.5 1175.6,445.6 1175.2,443.6 1174.8,441.7 1174.4,439.8 1174.0,437.9 1173.6,436.0 1173.2,434.1 1172.7,432.2 1172.3,430.3 1171.8,428.4 1171.3,426.5 1170.8,424.6 1170.3,422.7 1169.8,420.8 1169.2,418.9 1168.7,417.1 1168.1,415.2 1167.5,413.4 1166.9,411.5 1166.3,409.6 1165.7,407.8 1165.0,406.0 1164.4,404.1 1163.7,402.3 1163.0,400.5 1162.4,398.7 1161.7,396.9 1160.9,395.1 1160.2,393.3 1159.5,391.5 1158.7,389.7 1157.9,387.9 1157.1,386.2 1156.3,384.4 1155.5,382.6 1154.7,380.9 1153.9,379.2 1153.0,377.4 1152.2,375.7 1151.3,374.0 1150.4,372.3 1149.5,370.6 1148.6,368.9 1147.7,367.2 1146.7,365.5 1145.8,363.8 1144.8,362.2 1143.8,360.5 1142.8,358.9 1141.9,357.3 1140.8,355.6 1139.8,354.0 1138.8,352.4 1137.7,350.8 1136.7,349.2 1135.6,347.7 1134.5,346.1 1133.4,344.5 1132.3,343.0 1131.2,341.4" fill="#ffff68" stroke="#ffff68" stroke-width="0.6"/><polygon points="1296.8,445.0 1297.1,448.1 1297.5,451.2 1297.7,454.2 1298.0,457.3 1298.3,460.4 1298.5,463.5 1298.7,466.6 1298.9,469.7 1299.1,472.8 1299.2,475.9 1299.3,479.0 1299.4,482.1 1299.5,485.2 1299.6,488.3 1299.6,491.4 1299.6,494.5 1302.2,494.5 1302.1,491.3 1302.1,488.2 1302.1,485.0 1302.0,481.9 1301.9,478.7 1301.8,475.5 1301.6,472.4 1301.4,469.2 1301.3,466.1 1301.0,462.9 1300.8,459.8 1300.6,456.6 1300.3,453.5 1300.0,450.4 1299.7,447.2 1299.3,444.1" fill="#1e4a55" stroke="#1e4a55" stroke-width="0.6"/><polygon points="1189.5,461.8 1189.7,463.8 1189.9,465.8 1190.1,467.9 1190.3,469.9 1190.5,471.9 1190.7,474.0 1190.8,476.0 1190.9,478.0 1191.0,480.1 1191.1,482.1 1191.2,484.1 1191.3,486.2 1191.3,488.2 1191.4,490.3 1191.4,492.3 1191.4,494.3 1180.0,494.4 1180.0,492.4 1180.0,490.4 1180.0,488.5 1179.9,486.5 1179.8,484.5 1179.8,482.6 1179.7,480.6 1179.6,478.7 1179.4,476.7 1179.3,474.7 1179.2,472.8 1179.0,470.8 1178.8,468.9 1178.6,466.9 1178.4,465.0 1178.2,463.0" fill="#c4f6ff" stroke="#c4f6ff" stroke-width="0.6"/><polygon points="1300.8,494.5 1300.8,497.6 1300.8,500.7 1300.7,503.9 1300.6,507.0 1300.5,510.1 1300.4,513.2 1300.3,516.4 1300.1,519.5 1299.9,522.6 1299.7,525.7 1299.5,528.9 1299.2,532.0 1298.9,535.1 1298.6,538.2 1298.3,541.3 1298.0,544.4 1297.6,547.5 1297.2,550.6 1296.8,553.7 1296.4,556.8 1295.9,559.9 1295.5,563.0 1295.0,566.1 1294.5,569.2 1293.9,572.2 1293.4,575.3 1292.8,578.4 1292.2,581.4 1291.5,584.5 1290.9,587.5 1290.2,590.6 1289.5,593.6 1288.8,596.7 1288.1,599.7 1287.3,602.7 1286.5,605.7 1285.7,608.7 1284.9,611.7 1284.1,614.7 1283.2,617.7 1282.3,620.7 1281.4,623.7 1280.5,626.6 1279.5,629.6 1278.6,632.6 1277.6,635.5 1276.6,638.4 1275.5,641.4 1274.5,644.3 1273.4,647.2 1272.3,650.1 1271.2,653.0 1270.0,655.9 1268.9,658.7 1267.7,661.6 1266.5,664.4 1265.3,667.3 1264.0,670.1 1262.8,672.9 1261.5,675.7 1260.2,678.5 1258.9,681.3 1257.5,684.1 1256.1,686.9 1254.8,689.6 1253.3,692.4 1251.9,695.1 1250.5,697.8 1249.0,700.5 1247.5,703.2 1246.0,705.9 1244.5,708.6 1242.9,711.2 1241.4,713.9 1239.8,716.5 1238.2,719.1 1236.6,721.7 1234.9,724.3 1233.3,726.9 1231.6,729.4 1229.9,732.0 1228.1,734.5 1226.4,737.0 1224.6,739.5 1222.9,742.0 1221.1,744.5 1219.3,746.9 1217.4,749.4 1215.6,751.8 1213.7,754.2 1211.8,756.6 1209.9,759.0 1208.0,761.3 1206.0,763.7 1204.1,766.0 1202.1,768.3 1200.1,770.6 1198.1,772.9 1196.1,775.1 1194.0,777.4 1191.9,779.6 1189.9,781.8 1187.7,784.0 1185.6,786.1 1183.5,788.3 1181.3,790.4 1179.2,792.5 1177.0,794.6 1174.8,796.7 1172.6,798.7 1170.3,800.8 1168.1,802.8 1165.8,804.8 1163.5,806.7 1161.2,808.7 1158.9,810.6 1156.6,812.5 1154.2,814.4 1151.9,816.3 1149.5,818.1 1147.1,820.0 1144.7,821.8 1142.3,823.6 1139.9,825.3 1137.4,827.1 1135.0,828.8 1132.5,830.5 1130.0,832.2 1127.5,833.8 1125.0,835.4 1122.4,837.0 1119.9,838.6 1117.3,840.2 1114.7,841.7 1112.2,843.2 1109.6,844.7 1106.9,846.2 1104.3,847.6 1101.7,849.1 1099.0,850.5 1096.4,851.8 1093.7,853.2 1091.0,854.5 1052.0,724.5 1053.7,723.7 1055.5,722.9 1057.2,722.1 1058.9,721.3 1060.6,720.4 1062.3,719.5 1064.0,718.7 1065.7,717.7 1067.4,716.8 1069.0,715.9 1070.7,715.0 1072.3,714.0 1074.0,713.0 1075.6,712.0 1077.3,711.0 1078.9,710.0 1080.5,708.9 1082.1,707.9 1083.7,706.8 1085.3,705.7 1086.8,704.6 1088.4,703.5 1090.0,702.4 1091.5,701.2 1093.1,700.1 1094.6,698.9 1096.1,697.7 1097.6,696.5 1099.1,695.3 1100.6,694.1 1102.1,692.9 1103.6,691.6 1105.1,690.3 1106.5,689.1 1108.0,687.8 1109.4,686.4 1110.8,685.1 1112.2,683.8 1113.6,682.4 1115.0,681.1 1116.4,679.7 1117.8,678.3 1119.1,676.9 1120.5,675.5 1121.8,674.1 1123.1,672.7 1124.5,671.2 1125.8,669.8 1127.1,668.3 1128.3,666.8 1129.6,665.3 1130.9,663.8 1132.1,662.3 1133.4,660.8 1134.6,659.2 1135.8,657.7 1137.0,656.1 1138.2,654.5 1139.4,653.0 1140.5,651.4 1141.7,649.8 1142.8,648.2 1143.9,646.5 1145.1,644.9 1146.2,643.3 1147.3,641.6 1148.3,639.9 1149.4,638.3 1150.5,636.6 1151.5,634.9 1152.5,633.2 1153.5,631.5 1154.5,629.8 1155.5,628.0 1156.5,626.3 1157.5,624.5 1158.4,622.8 1159.3,621.0 1160.3,619.3 1161.2,617.5 1162.1,615.7 1163.0,613.9 1163.8,612.1 1164.7,610.3 1165.5,608.5 1166.4,606.6 1167.2,604.8 1168.0,603.0 1168.8,601.1 1169.5,599.3 1170.3,597.4 1171.0,595.5 1171.8,593.7 1172.5,591.8 1173.2,589.9 1173.9,588.0 1174.6,586.1 1175.2,584.2 1175.9,582.3 1176.5,580.4 1177.1,578.4 1177.8,576.5 1178.3,574.6 1178.9,572.6 1179.5,570.7 1180.0,568.7 1180.6,566.8 1181.1,564.8 1181.6,562.9 1182.1,560.9 1182.6,558.9 1183.0,557.0 1183.5,555.0 1183.9,553.0 1184.3,551.0 1184.7,549.0 1185.1,547.0 1185.5,545.0 1185.9,543.0 1186.2,541.0 1186.6,539.0 1186.9,537.0 1187.2,535.0 1187.5,533.0 1187.7,530.9 1188.0,528.9 1188.2,526.9 1188.5,524.9 1188.7,522.9 1188.9,520.8 1189.1,518.8 1189.2,516.8 1189.4,514.7 1189.5,512.7 1189.7,510.7 1189.8,508.6 1189.9,506.6 1190.0,504.5 1190.0,502.5 1190.1,500.5 1190.1,498.4 1190.1,496.4 1190.1,494.3" fill="url(#gt58)" stroke="url(#gt58)" stroke-width="0.6"/><polygon points="1091.0,854.5 1090.2,854.9 1051.5,724.7 1052.0,724.5" fill="url(#gt52)" stroke="url(#gt52)" stroke-width="0.6"/><polygon points="1090.2,854.9 1087.9,856.0 1085.5,857.1 1083.2,858.2 1080.8,859.2 1078.4,860.3 1043.9,727.9 1045.4,727.3 1047.0,726.7 1048.5,726.1 1050.0,725.4 1051.5,724.7" fill="url(#gt36)" stroke="url(#gt36)" stroke-width="0.6"/><polygon points="1078.4,860.3 1075.7,861.5 1072.9,862.6 1070.2,863.8 1067.4,864.9 1064.6,865.9 1061.8,867.0 1059.0,868.0 1056.1,869.0 1053.3,870.0 1050.5,870.9 1047.6,871.9 1044.7,872.8 1041.9,873.6 1039.0,874.5 1036.1,875.3 1033.2,876.1 1030.3,876.8 1027.4,877.5 1024.5,878.2 1021.6,878.9 1018.6,879.6 1015.7,880.2 1012.7,880.8 1009.8,881.3 1006.8,881.9 1003.9,882.4 1000.9,882.9 994.3,740.6 996.2,740.4 998.1,740.1 999.9,739.8 1001.8,739.5 1003.7,739.2 1005.6,738.9 1007.4,738.6 1009.3,738.2 1011.2,737.8 1013.0,737.4 1014.9,737.0 1016.7,736.6 1018.6,736.1 1020.4,735.6 1022.3,735.2 1024.1,734.7 1025.9,734.1 1027.7,733.6 1029.6,733.0 1031.4,732.5 1033.2,731.9 1035.0,731.2 1036.8,730.6 1038.6,730.0 1040.3,729.3 1042.1,728.6 1043.9,727.9" fill="url(#gt32)" stroke="url(#gt32)" stroke-width="0.6"/><polygon points="1000.9,882.9 997.9,883.3 994.9,883.7 991.9,884.1 988.9,884.5 985.9,884.8 982.9,885.1 979.9,885.4 976.9,885.6 973.9,885.8 970.9,886.0 967.9,886.2 964.8,886.3 961.8,886.4 958.8,886.5 955.7,886.5 952.7,886.5 949.6,886.5 946.6,886.5 943.6,886.4 940.5,886.3 937.5,886.1 934.4,885.9 931.4,885.7 928.3,885.5 925.3,885.2 922.2,884.9 919.2,884.6 916.1,884.3 913.1,883.9 910.0,883.5 907.0,883.0 903.9,882.5 900.9,882.0 897.8,881.5 894.8,880.9 891.7,880.3 888.7,879.7 885.7,879.0 882.6,878.3 879.6,877.6 876.6,876.8 873.6,876.0 870.6,875.2 867.5,874.4 864.5,873.5 861.5,872.6 858.5,871.6 855.6,870.7 852.6,869.7 849.6,868.6 846.6,867.6 843.6,866.5 840.7,865.3 837.7,864.2 834.8,863.0 831.9,861.8 828.9,860.5 826.0,859.3 823.1,857.9 820.2,856.6 817.3,855.2 814.4,853.8 811.5,852.4 808.7,850.9 805.8,849.4 802.9,847.9 800.1,846.4 797.3,844.8 794.5,843.2 791.7,841.5 788.9,839.8 786.1,838.1 783.3,836.4 780.6,834.6 777.8,832.8 775.1,831.0 772.4,829.2 769.7,827.3 767.0,825.4 764.3,823.5 761.6,821.5 759.0,819.5 756.3,817.5 753.7,815.4 751.1,813.3 748.5,811.2 745.9,809.1 743.4,806.9 740.8,804.7 738.3,802.5 735.8,800.3 733.3,798.0 730.8,795.7 728.4,793.4 726.0,791.0 723.5,788.6 721.1,786.2 718.7,783.8 716.4,781.3 714.0,778.8 711.7,776.3 709.4,773.8 707.1,771.2 704.8,768.6 702.6,766.0 700.4,763.4 698.2,760.7 696.0,758.0 693.8,755.3 691.7,752.6 689.5,749.8 687.4,747.1 685.4,744.2 683.3,741.4 681.3,738.6 679.3,735.7 677.3,732.8 675.3,729.9 673.4,726.9 671.4,724.0 669.6,721.0 667.7,718.0 665.8,715.0 664.0,711.9 662.2,708.9 660.4,705.8 658.7,702.7 657.0,699.5 655.3,696.4 653.6,693.2 652.0,690.0 650.3,686.8 648.8,683.6 647.2,680.4 645.6,677.1 644.1,673.9 642.6,670.6 641.2,667.3 639.8,663.9 638.3,660.6 637.0,657.3 635.6,653.9 634.3,650.5 633.0,647.1 631.7,643.7 630.5,640.3 629.3,636.8 628.1,633.4 627.0,629.9 625.8,626.4 624.7,622.9 623.7,619.4 622.6,615.9 621.6,612.4 620.6,608.8 619.7,605.3 618.8,601.7 617.9,598.1 617.0,594.5 616.2,590.9 615.4,587.3 614.6,583.7 613.9,580.1 613.2,576.5 612.5,572.8 611.9,569.2 611.2,565.5 610.7,561.9 610.1,558.2 609.6,554.5 609.1,550.9 608.6,547.2 608.2,543.5 607.8,539.8 607.4,536.1 607.1,532.4 606.8,528.7 606.5,525.0 606.2,521.3 606.0,517.6 605.8,513.8 605.7,510.1 605.6,506.4 605.5,502.7 605.4,499.0 605.4,495.2 605.4,491.5 605.4,487.8 605.5,484.1 605.6,480.4 605.7,476.6 605.9,472.9 606.1,469.2 606.3,465.5 606.6,461.8 606.8,458.1 607.2,454.4 607.5,450.7 607.9,447.0 608.3,443.3 608.7,439.6 609.2,435.9 609.7,432.2 610.2,428.6 610.8,424.9 611.4,421.3 612.0,417.6 612.7,414.0 613.4,410.3 614.1,406.7 614.8,403.1 615.6,399.5 616.4,395.9 617.3,392.3 618.1,388.7 619.0,385.2 619.9,381.6 620.9,378.0 621.9,374.5 622.9,371.0 623.9,367.5 625.0,364.0 626.1,360.5 627.2,357.0 628.4,353.5 629.6,350.1 630.8,346.7 632.1,343.2 633.3,339.8 634.6,336.4 636.0,333.1 637.3,329.7 638.7,326.3 640.1,323.0 641.6,319.7 643.0,316.4 644.5,313.1 646.0,309.9 647.6,306.6 649.2,303.4 650.8,300.2 652.4,297.0 654.0,293.8 655.7,290.7 657.4,287.5 659.1,284.4 660.9,281.3 662.7,278.2 664.5,275.2 666.3,272.1 668.1,269.1 670.0,266.1 671.9,263.2 673.8,260.2 675.8,257.3 677.8,254.4 679.8,251.5 681.8,248.6 683.8,245.8 685.9,243.0 688.0,240.2 690.1,237.4 692.2,234.7 694.3,231.9 696.5,229.2 698.7,226.6 700.9,223.9 703.1,221.3 705.4,218.7 707.7,216.1 709.9,213.5 712.3,211.0 714.6,208.5 716.9,206.0 719.3,203.6 721.7,201.2 724.1,198.8 726.5,196.4 729.0,194.1 731.4,191.8 733.9,189.5 736.4,187.2 738.9,185.0 741.4,182.8 744.0,180.6 746.5,178.4 836.4,298.5 834.8,299.8 833.3,301.2 831.8,302.6 830.2,304.1 828.7,305.5 827.2,307.0 825.7,308.4 824.3,309.9 822.8,311.4 821.3,313.0 819.9,314.5 818.5,316.0 817.1,317.6 815.6,319.2 814.3,320.8 812.9,322.4 811.5,324.0 810.1,325.7 808.8,327.3 807.5,329.0 806.2,330.7 804.9,332.4 803.6,334.1 802.3,335.8 801.0,337.5 799.8,339.3 798.5,341.1 797.3,342.8 796.1,344.6 794.9,346.4 793.7,348.2 792.6,350.1 791.4,351.9 790.3,353.8 789.2,355.6 788.0,357.5 787.0,359.4 785.9,361.3 784.8,363.2 783.8,365.1 782.7,367.1 781.7,369.0 780.7,371.0 779.7,373.0 778.8,374.9 777.8,376.9 776.9,378.9 775.9,380.9 775.0,383.0 774.2,385.0 773.3,387.0 772.4,389.1 771.6,391.1 770.8,393.2 770.0,395.3 769.2,397.4 768.4,399.4 767.6,401.5 766.9,403.7 766.2,405.8 765.5,407.9 764.8,410.0 764.1,412.2 763.4,414.3 762.8,416.5 762.2,418.6 761.6,420.8 761.0,423.0 760.4,425.2 759.9,427.3 759.4,429.5 758.8,431.7 758.3,433.9 757.9,436.1 757.4,438.4 757.0,440.6 756.5,442.8 756.1,445.0 755.7,447.3 755.4,449.5 755.0,451.7 754.7,454.0 754.4,456.2 754.1,458.5 753.8,460.7 753.5,463.0 753.3,465.3 753.1,467.5 752.9,469.8 752.7,472.1 752.5,474.3 752.4,476.6 752.2,478.9 752.1,481.1 752.0,483.4 751.9,485.7 751.9,488.0 751.8,490.3 751.8,492.5 751.8,494.8 751.8,497.1 751.9,499.4 751.9,501.6 752.0,503.9 752.1,506.2 752.2,508.5 752.3,510.7 752.5,513.0 752.6,515.3 752.8,517.6 753.0,519.8 753.2,522.1 753.5,524.3 753.7,526.6 754.0,528.9 754.3,531.1 754.6,533.4 754.9,535.6 755.3,537.9 755.7,540.1 756.0,542.3 756.4,544.6 756.9,546.8 757.3,549.0 757.8,551.2 758.2,553.4 758.7,555.6 759.2,557.8 759.8,560.0 760.3,562.2 760.9,564.4 761.5,566.6 762.1,568.8 762.7,570.9 763.3,573.1 764.0,575.2 764.6,577.4 765.3,579.5 766.0,581.6 766.7,583.8 767.5,585.9 768.2,588.0 769.0,590.1 769.8,592.2 770.6,594.2 771.4,596.3 772.2,598.4 773.1,600.4 774.0,602.5 774.8,604.5 775.7,606.5 776.7,608.5 777.6,610.5 778.5,612.5 779.5,614.5 780.5,616.5 781.5,618.5 782.5,620.4 783.5,622.4 784.6,624.3 785.6,626.2 786.7,628.1 787.8,630.0 788.9,631.9 790.0,633.8 791.2,635.6 792.3,637.5 793.5,639.3 794.6,641.1 795.8,642.9 797.0,644.7 798.3,646.5 799.5,648.3 800.7,650.0 802.0,651.8 803.3,653.5 804.6,655.2 805.9,656.9 807.2,658.6 808.5,660.3 809.9,662.0 811.2,663.6 812.6,665.2 813.9,666.9 815.3,668.5 816.7,670.1 818.2,671.6 819.6,673.2 821.0,674.7 822.5,676.3 823.9,677.8 825.4,679.3 826.9,680.7 828.4,682.2 829.9,683.7 831.4,685.1 833.0,686.5 834.5,687.9 836.1,689.3 837.6,690.7 839.2,692.0 840.8,693.4 842.4,694.7 844.0,696.0 845.6,697.3 847.2,698.5 848.8,699.8 850.5,701.0 852.1,702.2 853.8,703.4 855.4,704.6 857.1,705.8 858.8,706.9 860.5,708.1 862.2,709.2 863.9,710.3 865.6,711.3 867.3,712.4 869.1,713.4 870.8,714.5 872.5,715.5 874.3,716.5 876.1,717.4 877.8,718.4 879.6,719.3 881.4,720.2 883.2,721.1 885.0,722.0 886.8,722.9 888.6,723.7 890.4,724.5 892.2,725.3 894.0,726.1 895.8,726.9 897.7,727.6 899.5,728.4 901.3,729.1 903.2,729.8 905.0,730.4 906.9,731.1 908.8,731.7 910.6,732.3 912.5,732.9 914.4,733.5 916.2,734.1 918.1,734.6 920.0,735.1 921.9,735.6 923.8,736.1 925.7,736.6 927.5,737.0 929.4,737.4 931.3,737.9 933.2,738.2 935.1,738.6 937.0,739.0 938.9,739.3 940.9,739.6 942.8,739.9 944.7,740.2 946.6,740.4 948.5,740.6 950.4,740.9 952.3,741.1 954.2,741.2 956.2,741.4 958.1,741.5 960.0,741.7 961.9,741.8 963.8,741.8 965.7,741.9 967.6,741.9 969.5,742.0 971.5,742.0 973.4,742.0 975.3,741.9 977.2,741.9 979.1,741.8 981.0,741.7 982.9,741.6 984.8,741.5 986.7,741.4 988.6,741.2 990.5,741.0 992.4,740.8 994.3,740.6" fill="url(#g3)" stroke="url(#g3)" stroke-width="0.6"/><polygon points="746.5,178.4 748.8,176.6 751.1,174.7 753.4,172.9 755.7,171.1 758.0,169.3 760.3,167.6 844.7,291.5 843.3,292.6 841.9,293.7 840.5,294.9 839.1,296.1 837.8,297.3 836.4,298.5" fill="url(#gt27)" stroke="url(#gt27)" stroke-width="0.6"/><polygon points="760.3,167.6 762.9,165.6 765.6,163.7 768.2,161.8 770.9,159.9 773.6,158.0 776.3,156.2 779.1,154.4 781.8,152.7 784.5,150.9 787.3,149.2 790.1,147.6 792.8,145.9 795.6,144.3 798.4,142.7 801.2,141.2 804.1,139.6 806.9,138.1 809.7,136.7 812.6,135.2 815.5,133.8 818.3,132.5 821.2,131.1 882.0,267.6 880.2,268.5 878.5,269.4 876.7,270.4 874.9,271.3 873.2,272.3 871.5,273.3 869.7,274.3 868.0,275.3 866.3,276.3 864.6,277.4 862.9,278.5 861.2,279.6 859.5,280.7 857.8,281.8 856.2,283.0 854.5,284.1 852.9,285.3 851.2,286.5 849.6,287.7 848.0,289.0 846.3,290.2 844.7,291.5" fill="url(#gt22)" stroke="url(#gt22)" stroke-width="0.6"/><polygon points="821.2,131.1 822.7,130.4 824.1,129.8 883.8,266.7 882.9,267.2 882.0,267.6" fill="url(#gt139)" stroke="url(#gt139)" stroke-width="0.6"/><polygon points="824.1,129.8 827.0,128.5 829.9,127.3 832.8,126.0 835.7,124.9 838.6,123.7 841.5,122.6 844.4,121.5 847.3,120.4 850.2,119.4 853.2,118.4 856.1,117.4 859.0,116.5 862.0,115.5 864.9,114.7 867.9,113.8 870.8,113.0 873.8,112.2 876.8,111.4 879.8,110.7 882.7,110.0 885.7,109.3 888.7,108.7 891.7,108.0 894.7,107.4 897.7,106.9 900.6,106.4 903.6,105.9 906.6,105.4 909.6,105.0 912.6,104.6 915.6,104.2 918.6,103.8 921.6,103.5 924.6,103.2 927.6,103.0 930.6,102.7 933.6,102.5 936.6,102.4 939.6,102.2 942.6,102.1 945.6,102.0 959.4,246.7 957.5,246.8 955.6,247.0 953.7,247.1 951.8,247.3 949.9,247.5 948.1,247.7 946.2,247.9 944.3,248.2 942.4,248.4 940.6,248.7 938.7,249.0 936.8,249.4 934.9,249.7 933.1,250.1 931.2,250.4 929.3,250.8 927.5,251.2 925.6,251.7 923.7,252.1 921.9,252.6 920.0,253.1 918.2,253.6 916.3,254.1 914.5,254.7 912.7,255.2 910.8,255.8 909.0,256.4 907.2,257.0 905.3,257.7 903.5,258.3 901.7,259.0 899.9,259.7 898.1,260.4 896.3,261.1 894.5,261.9 892.7,262.6 890.9,263.4 889.1,264.2 887.3,265.0 885.6,265.9 883.8,266.7" fill="url(#gt135)" stroke="url(#gt135)" stroke-width="0.6"/><polygon points="945.6,102.0 948.6,102.0 951.7,101.9 954.7,101.9 957.7,102.0 960.7,102.0 963.7,102.1 966.7,102.2 969.7,102.4 972.7,102.6 975.7,102.8 978.7,103.0 981.7,103.3 984.7,103.6 987.7,103.9 990.6,104.3 993.6,104.6 996.6,105.1 999.5,105.5 1002.5,106.0 1005.4,106.5 1008.4,107.0 1011.3,107.5 1014.2,108.1 1017.2,108.7 1020.1,109.3 1023.0,110.0 1025.9,110.7 1028.8,111.4 1031.7,112.2 1034.5,112.9 1037.4,113.7 1040.3,114.6 1043.1,115.4 1046.0,116.3 1048.8,117.2 1051.6,118.1 1054.5,119.1 1057.3,120.1 1060.1,121.1 1062.9,122.1 1065.6,123.2 1068.4,124.3 1071.2,125.4 1073.9,126.5 1076.7,127.7 1079.4,128.9 1082.1,130.1 1084.8,131.3 1087.5,132.6 1090.2,133.9 1092.9,135.2 1095.5,136.5 1098.2,137.9 1100.8,139.3 1103.5,140.7 1106.1,142.1 1108.7,143.6 1111.3,145.0 1113.8,146.5 1116.4,148.1 1119.0,149.6 1121.5,151.2 1124.0,152.8 1126.5,154.4 1129.0,156.0 1131.5,157.7 1134.0,159.4 1136.4,161.1 1138.9,162.8 1141.3,164.6 1143.7,166.3 1146.1,168.1 1087.8,284.6 1086.2,283.5 1084.6,282.4 1083.1,281.3 1081.5,280.3 1079.9,279.2 1078.3,278.2 1076.6,277.2 1075.0,276.2 1073.4,275.2 1071.8,274.2 1070.1,273.3 1068.5,272.3 1066.8,271.4 1065.1,270.5 1063.4,269.6 1061.8,268.7 1060.1,267.8 1058.4,267.0 1056.7,266.2 1054.9,265.4 1053.2,264.6 1051.5,263.8 1049.8,263.0 1048.0,262.3 1046.3,261.5 1044.5,260.8 1042.8,260.1 1041.0,259.4 1039.2,258.8 1037.5,258.1 1035.7,257.5 1033.9,256.9 1032.1,256.3 1030.3,255.7 1028.5,255.1 1026.7,254.6 1024.9,254.0 1023.1,253.5 1021.2,253.0 1019.4,252.5 1017.6,252.1 1015.7,251.6 1013.9,251.2 1012.1,250.8 1010.2,250.4 1008.4,250.0 1006.5,249.7 1004.6,249.3 1002.8,249.0 1000.9,248.7 999.1,248.4 997.2,248.2 995.3,247.9 993.4,247.7 991.6,247.5 989.7,247.3 987.8,247.1 985.9,246.9 984.0,246.8 982.1,246.7 980.2,246.6 978.3,246.5 976.4,246.4 974.6,246.4 972.7,246.4 970.8,246.4 968.9,246.4 967.0,246.4 965.1,246.4 963.2,246.5 961.3,246.6 959.4,246.7" fill="url(#gt127)" stroke="url(#gt127)" stroke-width="0.6"/><polygon points="1146.1,168.1 1148.5,169.9 1150.9,171.8 1153.2,173.6 1155.6,175.5 1157.9,177.4 1160.2,179.3 1162.5,181.3 1164.8,183.2 1167.0,185.2 1169.3,187.2 1171.5,189.2 1173.7,191.2 1175.9,193.3 1178.1,195.4 1180.2,197.5 1182.4,199.6 1184.5,201.7 1186.6,203.8 1188.7,206.0 1190.8,208.2 1192.9,210.4 1194.9,212.6 1197.0,214.9 1199.0,217.1 1201.0,219.4 1203.0,221.7 1204.9,224.0 1206.9,226.3 1208.8,228.6 1210.7,231.0 1212.6,233.4 1214.5,235.8 1216.3,238.2 1218.1,240.6 1220.0,243.0 1221.8,245.5 1223.5,247.9 1225.3,250.4 1139.8,336.3 1138.7,334.8 1137.5,333.2 1136.3,331.6 1135.1,330.1 1133.9,328.6 1132.6,327.0 1131.4,325.5 1130.2,324.0 1128.9,322.5 1127.6,321.0 1126.4,319.6 1125.1,318.1 1123.8,316.7 1122.4,315.2 1121.1,313.8 1119.8,312.4 1118.4,311.0 1117.1,309.6 1115.7,308.2 1114.3,306.9 1112.9,305.5 1111.5,304.2 1110.1,302.9 1108.7,301.5 1107.3,300.2 1105.8,299.0 1104.4,297.7 1102.9,296.4 1101.4,295.2 1100.0,294.0 1098.5,292.7 1097.0,291.5 1095.5,290.3 1093.9,289.2 1092.4,288.0 1090.9,286.9 1089.3,285.7 1087.8,284.6" fill="url(#gt118)" stroke="url(#gt118)" stroke-width="0.6"/><polygon points="1225.3,250.4 1227.0,252.9 1228.8,255.4 1230.5,258.0 1232.2,260.5 1233.8,263.1 1235.5,265.6 1237.1,268.2 1238.7,270.8 1240.3,273.4 1241.9,276.0 1243.4,278.7 1245.0,281.3 1246.5,284.0 1248.0,286.6 1249.4,289.3 1250.9,292.0 1252.3,294.7 1253.7,297.5 1255.1,300.2 1256.5,302.9 1257.9,305.7 1259.2,308.5 1260.5,311.2 1261.8,314.0 1263.1,316.8 1264.3,319.6 1265.6,322.5 1266.8,325.3 1268.0,328.1 1269.1,331.0 1270.3,333.9 1271.4,336.7 1272.5,339.6 1273.6,342.5 1274.7,345.4 1275.7,348.3 1276.7,351.2 1277.8,354.1 1278.7,357.1 1279.7,360.0 1280.6,362.9 1281.6,365.9 1282.5,368.9 1283.3,371.8 1284.2,374.8 1285.0,377.8 1285.8,380.8 1286.6,383.8 1287.4,386.8 1288.2,389.8 1288.9,392.8 1289.6,395.8 1290.3,398.8 1290.9,401.9 1291.6,404.9 1292.2,408.0 1292.8,411.0 1293.4,414.1 1293.9,417.1 1294.5,420.2 1295.0,423.2 1295.5,426.3 1296.0,429.4 1296.4,432.5 1296.8,435.5 1297.2,438.6 1297.6,441.7 1298.0,444.8 1188.3,462.0 1188.0,460.0 1187.8,458.0 1187.5,455.9 1187.2,453.9 1186.9,451.9 1186.6,449.9 1186.2,447.9 1185.9,445.9 1185.5,444.0 1185.2,442.0 1184.8,440.0 1184.4,438.0 1184.0,436.0 1183.5,434.0 1183.1,432.1 1182.6,430.1 1182.2,428.1 1181.7,426.2 1181.2,424.2 1180.7,422.3 1180.1,420.3 1179.6,418.4 1179.0,416.5 1178.4,414.5 1177.9,412.6 1177.3,410.7 1176.6,408.8 1176.0,406.9 1175.4,404.9 1174.7,403.0 1174.0,401.2 1173.4,399.3 1172.7,397.4 1171.9,395.5 1171.2,393.6 1170.5,391.8 1169.7,389.9 1168.9,388.1 1168.2,386.2 1167.4,384.4 1166.6,382.6 1165.7,380.8 1164.9,378.9 1164.1,377.1 1163.2,375.3 1162.3,373.5 1161.4,371.8 1160.5,370.0 1159.6,368.2 1158.7,366.5 1157.8,364.7 1156.8,363.0 1155.8,361.2 1154.9,359.5 1153.9,357.8 1152.9,356.1 1151.8,354.4 1150.8,352.7 1149.8,351.0 1148.7,349.4 1147.6,347.7 1146.6,346.0 1145.5,344.4 1144.4,342.8 1143.2,341.2 1142.1,339.5 1141.0,337.9 1139.8,336.3" fill="url(#gt113)" stroke="url(#gt113)" stroke-width="0.6"/><polygon points="1298.0,444.8 1298.3,447.9 1298.6,451.0 1298.9,454.1 1299.2,457.2 1299.5,460.3 1299.7,463.4 1299.9,466.5 1300.1,469.6 1300.3,472.7 1300.4,475.8 1300.5,478.9 1300.6,482.0 1300.7,485.1 1300.7,488.2 1300.8,491.4 1300.8,494.5 1190.1,494.3 1190.1,492.3 1190.1,490.3 1190.1,488.3 1190.0,486.2 1189.9,484.2 1189.9,482.2 1189.8,480.2 1189.7,478.1 1189.5,476.1 1189.4,474.1 1189.2,472.1 1189.1,470.0 1188.9,468.0 1188.7,466.0 1188.5,464.0 1188.3,462.0" fill="url(#gt101)" stroke="url(#gt101)" stroke-width="0.6"/><polyline points="624,654.8 634.5,650.2" fill="none" stroke="#4a3a3c" stroke-width="1"/><rect x="419.5" y="92.5" width="122" height="15" fill="#fffcf4" stroke="#3e3428" stroke-width="1"/><text x="421.9" y="103.9" fill="#5a4a3c" font-size="11.3" textLength="117.0" lengthAdjust="spacingAndGlyphs">Cikkcsoport 135:5,59%</text><rect x="419.5" y="113.5" width="122" height="15" fill="#fcfdff" stroke="#2e3842" stroke-width="1"/><text x="421.9" y="124.9" fill="#3e4a56" font-size="11.3" textLength="117.0" lengthAdjust="spacingAndGlyphs">Cikkcsoport 139:0,14%</text><rect x="419.5" y="131.5" width="116" height="15" fill="#f4fcff" stroke="#3a5a66" stroke-width="1"/><text x="421.9" y="142.9" fill="#4a6a78" font-size="11.3" textLength="111.0" lengthAdjust="spacingAndGlyphs">Cikkcsoport 22:3,03%</text><rect x="419.5" y="157.5" width="116" height="15" fill="#fffff4" stroke="#c0b468" stroke-width="1"/><text x="421.9" y="168.9" fill="#b4ac7c" font-size="11.3" textLength="111.0" lengthAdjust="spacingAndGlyphs">Cikkcsoport 27:0,73%</text><rect x="419.5" y="646.5" width="116" height="15" fill="#fffafa" stroke="#4a3a3c" stroke-width="1"/><text x="421.9" y="657.9" fill="#5e4a4c" font-size="11.3" textLength="111.0" lengthAdjust="spacingAndGlyphs">Cikkcsoport 3:39,63%</text><rect x="1366.5" y="99.5" width="122" height="15" fill="#fbfff2" stroke="#55583f" stroke-width="1"/><text x="1368.9" y="110.9" fill="#66684f" font-size="11.3" textLength="117.0" lengthAdjust="spacingAndGlyphs">Cikkcsoport 127:9,91%</text><rect x="1366.5" y="189.5" width="122" height="15" fill="#fff8fa" stroke="#3e2a2c" stroke-width="1"/><text x="1368.9" y="200.9" fill="#4e3a3e" font-size="11.3" textLength="117.0" lengthAdjust="spacingAndGlyphs">Cikkcsoport 118:5,23%</text><rect x="1366.5" y="330.5" width="122" height="15" fill="#fffff0" stroke="#8a8a40" stroke-width="1"/><text x="1368.9" y="341.9" fill="#9c9c6c" font-size="11.3" textLength="117.0" lengthAdjust="spacingAndGlyphs">Cikkcsoport 113:9,36%</text><rect x="1366.5" y="462.5" width="122" height="15" fill="#f4ffff" stroke="#3a5656" stroke-width="1"/><text x="1368.9" y="473.9" fill="#4a6466" font-size="11.3" textLength="117.0" lengthAdjust="spacingAndGlyphs">Cikkcsoport 101:2,20%</text><rect x="1366.5" y="708.5" width="122" height="15" fill="#f4ffff" stroke="#8ca4aa" stroke-width="1"/><text x="1368.9" y="719.9" fill="#9cb2b6" font-size="11.3" textLength="117.0" lengthAdjust="spacingAndGlyphs">Cikkcsoport 58:19,78%</text><rect x="1372.5" y="859.5" width="116" height="15" fill="#fcfdff" stroke="#2e3842" stroke-width="1"/><text x="1374.9" y="870.9" fill="#404a58" font-size="11.3" textLength="111.0" lengthAdjust="spacingAndGlyphs">Cikkcsoport 52:0,04%</text><rect x="1372.5" y="874.5" width="116" height="15" fill="#fffaf6" stroke="#3c2c24" stroke-width="1"/><text x="1374.9" y="885.9" fill="#4e3a30" font-size="11.3" textLength="111.0" lengthAdjust="spacingAndGlyphs">Cikkcsoport 36:0,60%</text><rect x="1372.5" y="889.5" width="116" height="15" fill="#fbfff2" stroke="#4a5438" stroke-width="1"/><text x="1374.9" y="900.9" fill="#66784e" font-size="11.3" textLength="111.0" lengthAdjust="spacingAndGlyphs">Cikkcsoport 32:3,74%</text><text x="815.7" y="28.6" font-size="25.5" fill="#1e1e1e" textLength="273.7" lengthAdjust="spacingAndGlyphs">Elfekvő készlet összetétel</text><rect x="857.5" y="48.5" width="192" height="20.5" fill="#ffffff" stroke="#b4bcc4" stroke-width="1"/><rect x="863.5" y="52.5" width="14" height="14" fill="#ffffff" stroke="#5a8c98" stroke-width="1"/><polyline points="866.5,59.5 869.8,63.2 875,55" fill="none" stroke="#3aa0a4" stroke-width="1.8"/><text x="884.5" y="62.8" font-size="11.2" fill="#2a2a2a" textLength="161.7" lengthAdjust="spacingAndGlyphs">Nyilv. érték: Alcikkcsoport bontás</text></svg></body></html>
